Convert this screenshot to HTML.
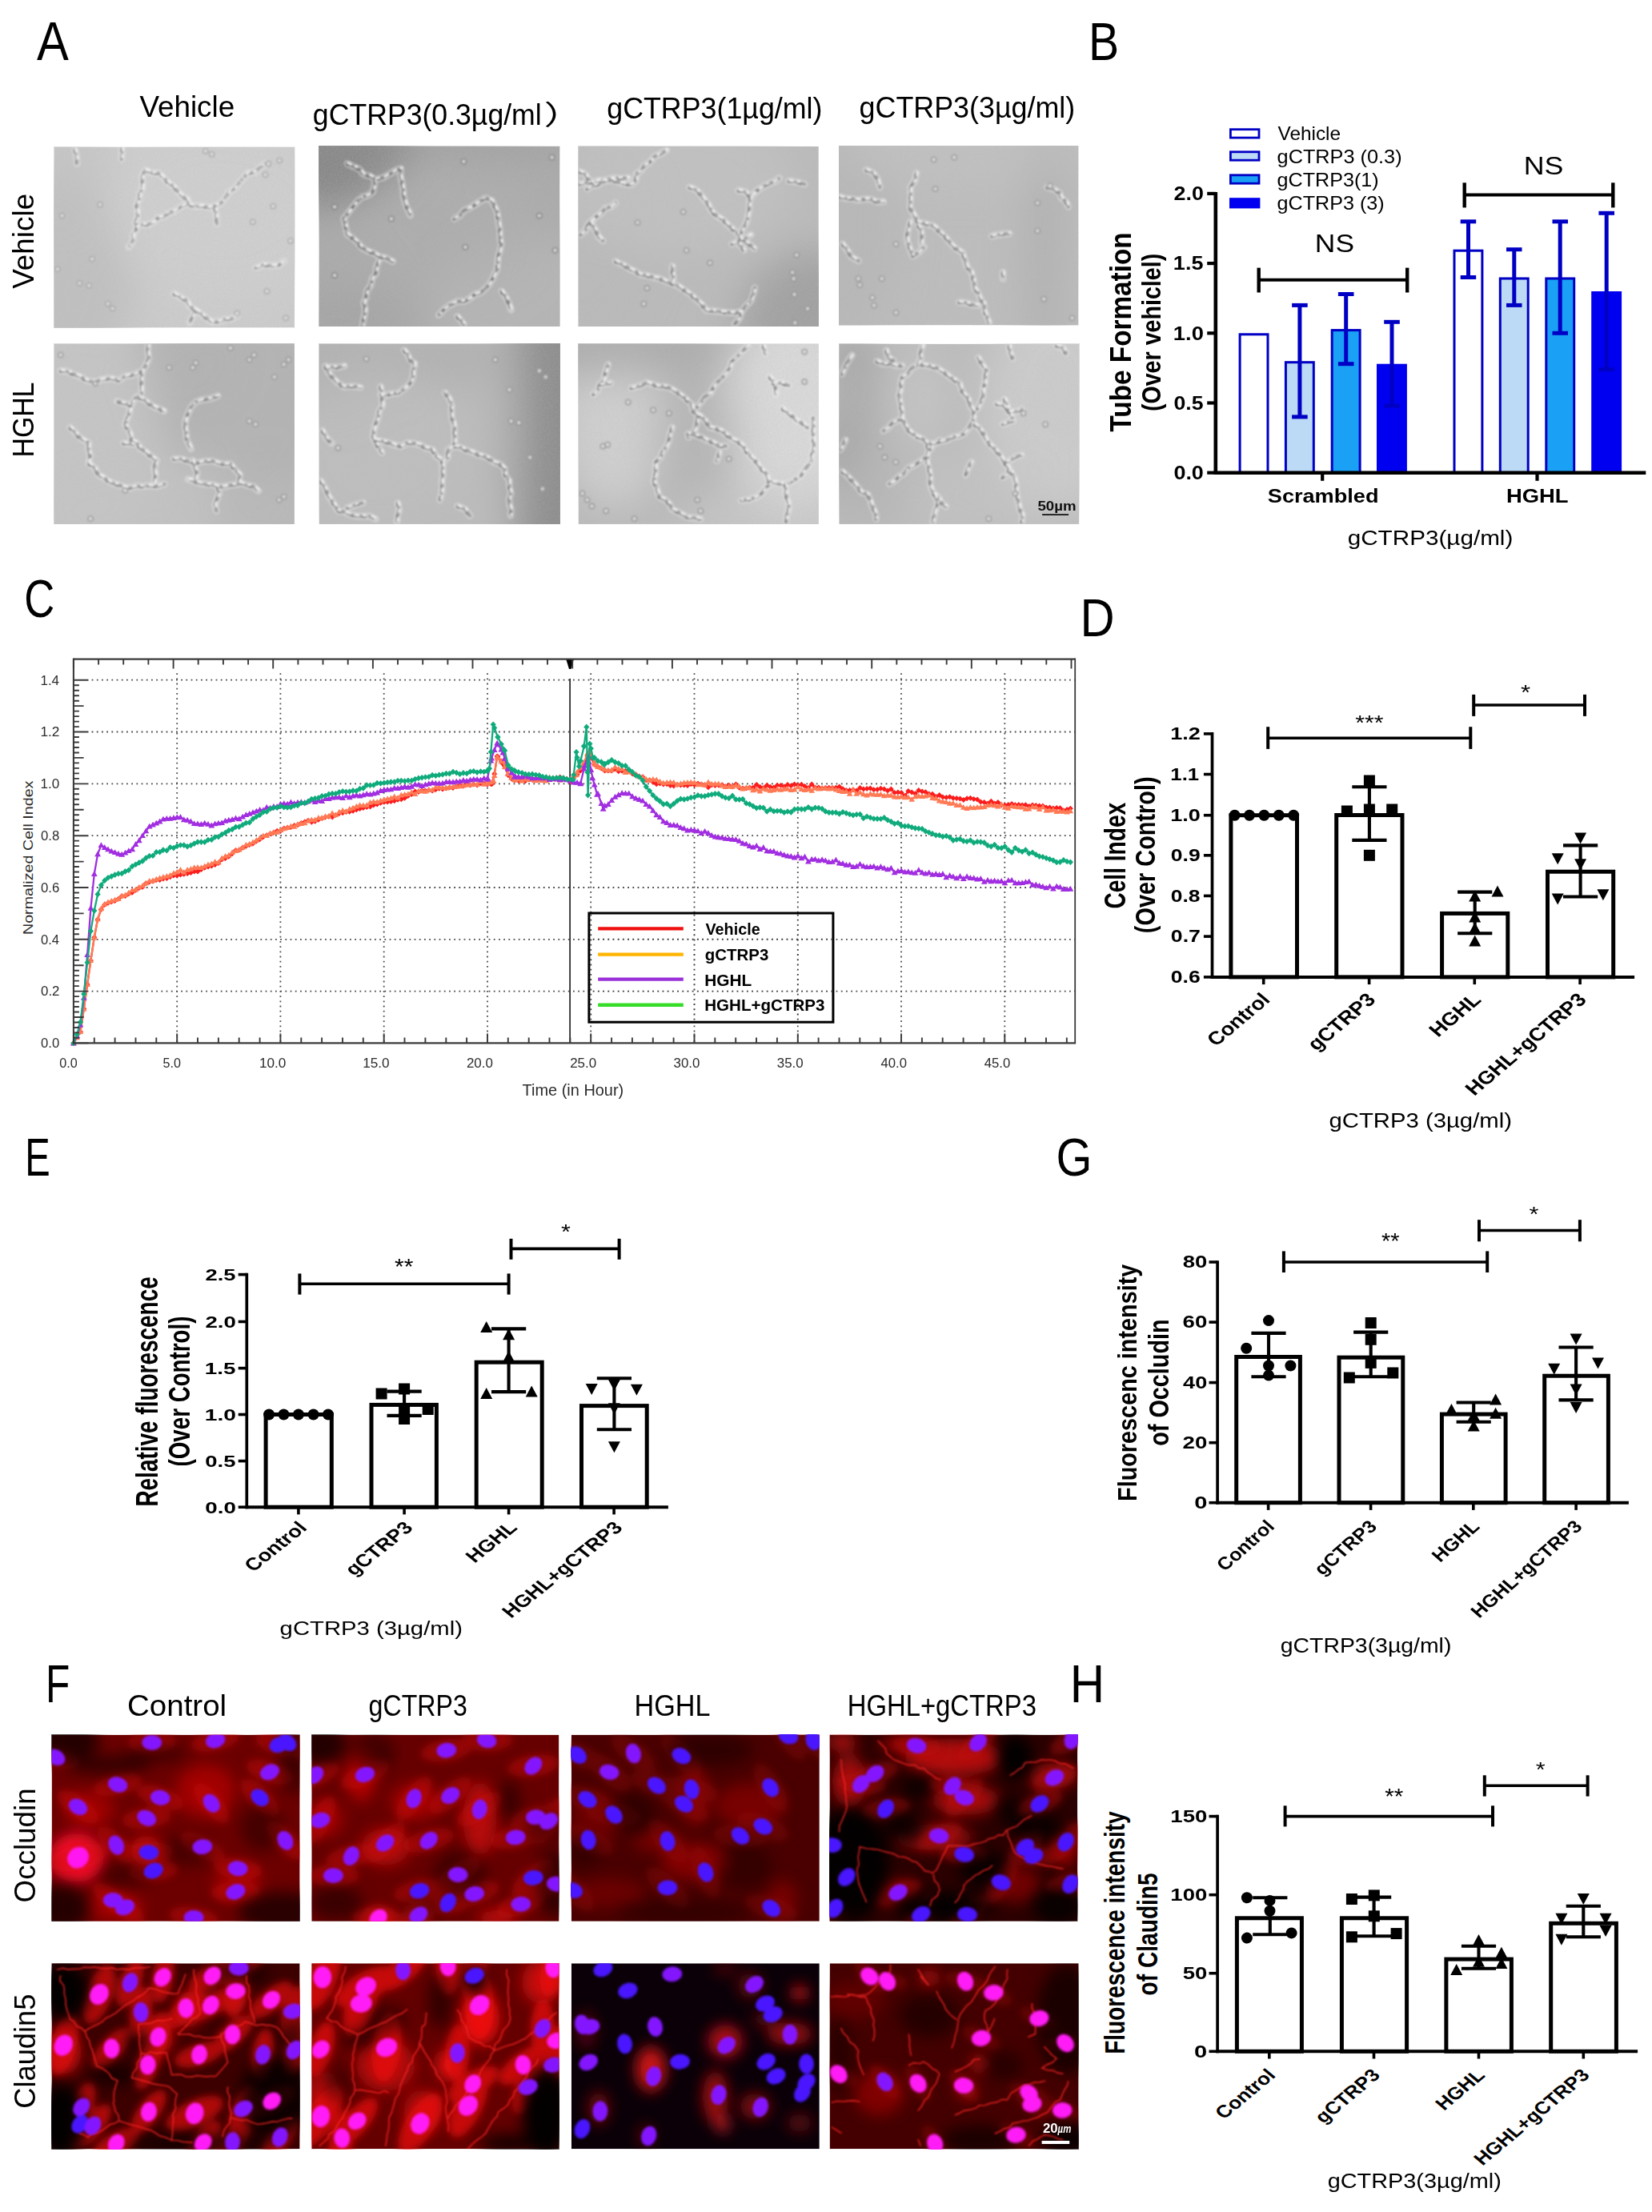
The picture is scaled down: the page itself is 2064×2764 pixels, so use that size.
<!DOCTYPE html>
<html lang="en"><head><meta charset="utf-8"><title>Figure</title>
<style>html,body{margin:0;padding:0;background:#fff}body{width:2064px;height:2764px;overflow:hidden;font-family:"Liberation Sans",sans-serif}</style></head>
<body>
<svg width="2064" height="2764" viewBox="0 0 2064 2764" font-family='"Liberation Sans", sans-serif' style="display:block">
<rect width="2064" height="2764" fill="#fff"/>
<defs><filter id="mb" x="-5%" y="-5%" width="110%" height="110%"><feGaussianBlur stdDeviation="0.9"/></filter><filter id="gb" x="-50%" y="-50%" width="200%" height="200%"><feGaussianBlur stdDeviation="24"/></filter><filter id="nz" x="0" y="0" width="100%" height="100%"><feTurbulence type="fractalNoise" baseFrequency="0.55" numOctaves="2" seed="3"/><feColorMatrix type="matrix" values="0 0 0 0 0.5  0 0 0 0 0.5  0 0 0 0 0.5  0.9 0 0 0 -0.32"/></filter></defs>
<clipPath id="ca0"><rect x="67.9" y="183.7" width="300.2" height="225.8"/></clipPath>
<g clip-path="url(#ca0)">
<rect x="67.9" y="183.7" width="300.2" height="225.8" fill="rgb(204,204,204)" />
<g filter="url(#gb)">
<ellipse cx="67.9" cy="353.1" rx="99.1" ry="135.5" fill="rgb(186,186,186)" opacity="0.7"/>
<ellipse cx="73.9" cy="206.3" rx="60" ry="112.9" fill="rgb(194,194,194)" opacity="0.5"/>
<ellipse cx="278" cy="262.7" rx="150.1" ry="112.9" fill="rgb(210,210,210)" opacity="0.5"/>
</g>
<rect x="67.9" y="183.7" width="300.2" height="225.8" fill="#000" filter="url(#nz)" opacity=".5"/>
<g filter="url(#mb)" fill="none" stroke-linecap="round" stroke-linejoin="round">
<path d="M182 212.4L189.3 216.5L197.8 216.1L204.3 222.3L210.5 228.5L217.8 233.7L222.3 239.5L227.2 244.9L233.9 248.7L236.6 256.1L244.8 257.8L253 257.5L260.7 259.5L268.8 257.3L276.4 253.6L281.7 247.2L286 239.9L293.5 235.3L298.6 228.7L304.1 222.4L309.8 216.2L318.9 215.2L324.7 209.1L331.4 204.3M182 212.4L177.5 219.2L178.1 227.4L177.9 235.3L174.6 242.4L173.6 250.2L170.4 256.8L171.9 264L171.9 271.1L169.2 278L171.3 285.3L166.3 292.8L166.1 302L160.8 309M170.2 285.2L176.3 280.7L184.5 280.7L191.4 278L197 272.4L204.4 270.7L210.6 266.4L217.6 263.9L223.6 260L229.7 256.2L236.6 254.6M268.6 259.6L270 269.6L271.1 279.6M217.4 367L225.1 371.6L233.3 375.4L237.3 383.3L244.8 387.6L240.9 395.3L236.9 403.1M245 387.5L251.6 392.6L258.3 397.6L265.2 402.5L272.7 401.9L280.3 399.2L288.6 398.8L296 395.1M319.7 334.4L329.3 330.9L339.4 332.3L348 331.5L355 326.3M93.5 186.8L95.6 195.6L96.2 204.5M152.5 184.9L152 198.7" stroke="#efefef" stroke-width="9" opacity=".36"/>
<path d="M182 212.4L189.3 216.5L197.8 216.1L204.3 222.3L210.5 228.5L217.8 233.7L222.3 239.5L227.2 244.9L233.9 248.7L236.6 256.1L244.8 257.8L253 257.5L260.7 259.5L268.8 257.3L276.4 253.6L281.7 247.2L286 239.9L293.5 235.3L298.6 228.7L304.1 222.4L309.8 216.2L318.9 215.2L324.7 209.1L331.4 204.3M182 212.4L177.5 219.2L178.1 227.4L177.9 235.3L174.6 242.4L173.6 250.2L170.4 256.8L171.9 264L171.9 271.1L169.2 278L171.3 285.3L166.3 292.8L166.1 302L160.8 309M170.2 285.2L176.3 280.7L184.5 280.7L191.4 278L197 272.4L204.4 270.7L210.6 266.4L217.6 263.9L223.6 260L229.7 256.2L236.6 254.6M268.6 259.6L270 269.6L271.1 279.6M217.4 367L225.1 371.6L233.3 375.4L237.3 383.3L244.8 387.6L240.9 395.3L236.9 403.1M245 387.5L251.6 392.6L258.3 397.6L265.2 402.5L272.7 401.9L280.3 399.2L288.6 398.8L296 395.1M319.7 334.4L329.3 330.9L339.4 332.3L348 331.5L355 326.3M93.5 186.8L95.6 195.6L96.2 204.5M152.5 184.9L152 198.7" stroke="rgb(154,154,154)" stroke-width="4.2" stroke-dasharray="5 4 8 3 3 5" opacity=".68"/>
<path d="M182 212.4L189.3 216.5L197.8 216.1L204.3 222.3L210.5 228.5L217.8 233.7L222.3 239.5L227.2 244.9L233.9 248.7L236.6 256.1L244.8 257.8L253 257.5L260.7 259.5L268.8 257.3L276.4 253.6L281.7 247.2L286 239.9L293.5 235.3L298.6 228.7L304.1 222.4L309.8 216.2L318.9 215.2L324.7 209.1L331.4 204.3M182 212.4L177.5 219.2L178.1 227.4L177.9 235.3L174.6 242.4L173.6 250.2L170.4 256.8L171.9 264L171.9 271.1L169.2 278L171.3 285.3L166.3 292.8L166.1 302L160.8 309M170.2 285.2L176.3 280.7L184.5 280.7L191.4 278L197 272.4L204.4 270.7L210.6 266.4L217.6 263.9L223.6 260L229.7 256.2L236.6 254.6M268.6 259.6L270 269.6L271.1 279.6M217.4 367L225.1 371.6L233.3 375.4L237.3 383.3L244.8 387.6L240.9 395.3L236.9 403.1M245 387.5L251.6 392.6L258.3 397.6L265.2 402.5L272.7 401.9L280.3 399.2L288.6 398.8L296 395.1M319.7 334.4L329.3 330.9L339.4 332.3L348 331.5L355 326.3M93.5 186.8L95.6 195.6L96.2 204.5M152.5 184.9L152 198.7" stroke="#f3f3f3" stroke-width="2.7" stroke-dasharray="4 6 2.5 8 5 7" opacity=".9" transform="translate(1.2 -1.1)"/>
<path d="M182 212.4L189.3 216.5L197.8 216.1L204.3 222.3L210.5 228.5L217.8 233.7L222.3 239.5L227.2 244.9L233.9 248.7L236.6 256.1L244.8 257.8L253 257.5L260.7 259.5L268.8 257.3L276.4 253.6L281.7 247.2L286 239.9L293.5 235.3L298.6 228.7L304.1 222.4L309.8 216.2L318.9 215.2L324.7 209.1L331.4 204.3M182 212.4L177.5 219.2L178.1 227.4L177.9 235.3L174.6 242.4L173.6 250.2L170.4 256.8L171.9 264L171.9 271.1L169.2 278L171.3 285.3L166.3 292.8L166.1 302L160.8 309M170.2 285.2L176.3 280.7L184.5 280.7L191.4 278L197 272.4L204.4 270.7L210.6 266.4L217.6 263.9L223.6 260L229.7 256.2L236.6 254.6M268.6 259.6L270 269.6L271.1 279.6M217.4 367L225.1 371.6L233.3 375.4L237.3 383.3L244.8 387.6L240.9 395.3L236.9 403.1M245 387.5L251.6 392.6L258.3 397.6L265.2 402.5L272.7 401.9L280.3 399.2L288.6 398.8L296 395.1M319.7 334.4L329.3 330.9L339.4 332.3L348 331.5L355 326.3M93.5 186.8L95.6 195.6L96.2 204.5M152.5 184.9L152 198.7" stroke="rgb(129,129,129)" stroke-width="1.9" stroke-dasharray="2.5 11 3.5 14" opacity=".7" transform="translate(-1.2 1.4)"/>
<circle cx="99.4" cy="354" r="3" stroke="rgb(169,169,169)" stroke-width="1.8" fill="#e2e2e2" opacity=".8"/>
<circle cx="111.2" cy="356.8" r="3" stroke="rgb(169,169,169)" stroke-width="1.8" fill="#e2e2e2" opacity=".8"/>
<circle cx="134.8" cy="379.6" r="3" stroke="rgb(169,169,169)" stroke-width="1.8" fill="#e2e2e2" opacity=".8"/>
<circle cx="140.7" cy="385.5" r="3" stroke="rgb(169,169,169)" stroke-width="1.8" fill="#e2e2e2" opacity=".8"/>
<circle cx="335.4" cy="204.5" r="3" stroke="rgb(169,169,169)" stroke-width="1.8" fill="#e2e2e2" opacity=".8"/>
<circle cx="349.2" cy="200.6" r="3" stroke="rgb(169,169,169)" stroke-width="1.8" fill="#e2e2e2" opacity=".8"/>
<circle cx="331.5" cy="218.3" r="3" stroke="rgb(169,169,169)" stroke-width="1.8" fill="#e2e2e2" opacity=".8"/>
<circle cx="71.8" cy="336.3" r="3" stroke="rgb(169,169,169)" stroke-width="1.8" fill="#e2e2e2" opacity=".8"/>
<circle cx="77.7" cy="269.5" r="3" stroke="rgb(169,169,169)" stroke-width="1.8" fill="#e2e2e2" opacity=".8"/>
<circle cx="341.3" cy="257.7" r="3" stroke="rgb(169,169,169)" stroke-width="1.8" fill="#e2e2e2" opacity=".8"/>
<circle cx="315.8" cy="277.3" r="3" stroke="rgb(169,169,169)" stroke-width="1.8" fill="#e2e2e2" opacity=".8"/>
<circle cx="363" cy="300.9" r="3" stroke="rgb(169,169,169)" stroke-width="1.8" fill="#e2e2e2" opacity=".8"/>
<circle cx="115.1" cy="323.7" r="3" stroke="rgb(169,169,169)" stroke-width="1.8" fill="#e2e2e2" opacity=".8"/>
<circle cx="333.5" cy="363.9" r="3" stroke="rgb(169,169,169)" stroke-width="1.8" fill="#e2e2e2" opacity=".8"/>
<circle cx="124.9" cy="255.7" r="3" stroke="rgb(169,169,169)" stroke-width="1.8" fill="#e2e2e2" opacity=".8"/>
<circle cx="256.8" cy="188.8" r="3" stroke="rgb(169,169,169)" stroke-width="1.8" fill="#e2e2e2" opacity=".8"/>
<circle cx="264.6" cy="192.7" r="3" stroke="rgb(169,169,169)" stroke-width="1.8" fill="#e2e2e2" opacity=".8"/>
<circle cx="296.1" cy="391.4" r="3" stroke="rgb(169,169,169)" stroke-width="1.8" fill="#e2e2e2" opacity=".8"/>
<circle cx="357.1" cy="397.3" r="3" stroke="rgb(169,169,169)" stroke-width="1.8" fill="#e2e2e2" opacity=".8"/>
</g>
</g>
<clipPath id="ca1"><rect x="398.4" y="182.9" width="301" height="225.1"/></clipPath>
<g clip-path="url(#ca1)">
<rect x="398.4" y="182.9" width="301" height="225.1" fill="rgb(171,171,171)" />
<g filter="url(#gb)">
<ellipse cx="398.4" cy="182.9" rx="114.4" ry="74.3" fill="rgb(128,128,128)" opacity="0.85"/>
<ellipse cx="548.9" cy="178.4" rx="180.6" ry="18" fill="rgb(148,148,148)" opacity="0.55"/>
<ellipse cx="422.5" cy="401.2" rx="90.3" ry="40.5" fill="rgb(160,160,160)" opacity="0.5"/>
<ellipse cx="684.3" cy="385.5" rx="150.5" ry="90" fill="rgb(186,186,186)" opacity="0.6"/>
<ellipse cx="564" cy="284.2" rx="120.4" ry="90" fill="rgb(176,176,176)" opacity="0.5"/>
</g>
<rect x="398.4" y="182.9" width="301" height="225.1" fill="#000" filter="url(#nz)" opacity=".5"/>
<g filter="url(#mb)" fill="none" stroke-linecap="round" stroke-linejoin="round">
<path d="M433.8 204.5L441.1 208.1L448.7 211.1L454.1 218.1L462.3 220L469.2 224.3L478.8 222L487.3 217.2L493.7 213.1L500.8 210.6L500.4 219.7L502.3 228.8L503.8 237.9L504.3 246.1L506.5 254.1L509.5 261.8L513.1 269.3M469.2 224.2L467.5 232.2L465.7 240.1L459.6 244.2L452.5 246.4L447 250.9L441 258.4L435.2 265.7L429.5 273.1L431.9 283.2L433.9 293.1L440.9 297.7L447 303.5L452.6 310L459.5 313.7L466.8 316.3L473.3 320.4L482.4 322.5L490.8 326.8M473.2 326.5L470.1 333.6L469.7 341.6L465 348.1L463.4 356.3L458.3 363.3L457.3 371.8L454.4 378.6L456.4 386L455.4 393.1L453.9 400.1L452.8 407.1M567.6 273.4L574.6 269.4L579.8 262.9L587.3 259.7L593.8 255.7L600.1 251.3L606.7 247.5L614.5 250.9L617.9 257.5L621.1 265.2L622.3 273.5L623.5 281.3L624.7 289.1L624.6 297.2L626.3 304.9L624.7 312.7L622.4 320.4L621.8 328.4L621.1 336.5L617.8 343.1L614.8 349.8L610.7 356L605.7 361.2L600.4 365.9L593.1 367.8L587.7 372.5L580.2 376.8L571.4 376.6L563.8 380.1L555.4 386.1L548.1 393.7M626.6 363.9L631.8 371.1L635.9 378.9L638.7 387.4M571.5 395.4L579.5 405.1" stroke="#efefef" stroke-width="9" opacity=".36"/>
<path d="M433.8 204.5L441.1 208.1L448.7 211.1L454.1 218.1L462.3 220L469.2 224.3L478.8 222L487.3 217.2L493.7 213.1L500.8 210.6L500.4 219.7L502.3 228.8L503.8 237.9L504.3 246.1L506.5 254.1L509.5 261.8L513.1 269.3M469.2 224.2L467.5 232.2L465.7 240.1L459.6 244.2L452.5 246.4L447 250.9L441 258.4L435.2 265.7L429.5 273.1L431.9 283.2L433.9 293.1L440.9 297.7L447 303.5L452.6 310L459.5 313.7L466.8 316.3L473.3 320.4L482.4 322.5L490.8 326.8M473.2 326.5L470.1 333.6L469.7 341.6L465 348.1L463.4 356.3L458.3 363.3L457.3 371.8L454.4 378.6L456.4 386L455.4 393.1L453.9 400.1L452.8 407.1M567.6 273.4L574.6 269.4L579.8 262.9L587.3 259.7L593.8 255.7L600.1 251.3L606.7 247.5L614.5 250.9L617.9 257.5L621.1 265.2L622.3 273.5L623.5 281.3L624.7 289.1L624.6 297.2L626.3 304.9L624.7 312.7L622.4 320.4L621.8 328.4L621.1 336.5L617.8 343.1L614.8 349.8L610.7 356L605.7 361.2L600.4 365.9L593.1 367.8L587.7 372.5L580.2 376.8L571.4 376.6L563.8 380.1L555.4 386.1L548.1 393.7M626.6 363.9L631.8 371.1L635.9 378.9L638.7 387.4M571.5 395.4L579.5 405.1" stroke="rgb(121,121,121)" stroke-width="4.2" stroke-dasharray="5 4 8 3 3 5" opacity=".68"/>
<path d="M433.8 204.5L441.1 208.1L448.7 211.1L454.1 218.1L462.3 220L469.2 224.3L478.8 222L487.3 217.2L493.7 213.1L500.8 210.6L500.4 219.7L502.3 228.8L503.8 237.9L504.3 246.1L506.5 254.1L509.5 261.8L513.1 269.3M469.2 224.2L467.5 232.2L465.7 240.1L459.6 244.2L452.5 246.4L447 250.9L441 258.4L435.2 265.7L429.5 273.1L431.9 283.2L433.9 293.1L440.9 297.7L447 303.5L452.6 310L459.5 313.7L466.8 316.3L473.3 320.4L482.4 322.5L490.8 326.8M473.2 326.5L470.1 333.6L469.7 341.6L465 348.1L463.4 356.3L458.3 363.3L457.3 371.8L454.4 378.6L456.4 386L455.4 393.1L453.9 400.1L452.8 407.1M567.6 273.4L574.6 269.4L579.8 262.9L587.3 259.7L593.8 255.7L600.1 251.3L606.7 247.5L614.5 250.9L617.9 257.5L621.1 265.2L622.3 273.5L623.5 281.3L624.7 289.1L624.6 297.2L626.3 304.9L624.7 312.7L622.4 320.4L621.8 328.4L621.1 336.5L617.8 343.1L614.8 349.8L610.7 356L605.7 361.2L600.4 365.9L593.1 367.8L587.7 372.5L580.2 376.8L571.4 376.6L563.8 380.1L555.4 386.1L548.1 393.7M626.6 363.9L631.8 371.1L635.9 378.9L638.7 387.4M571.5 395.4L579.5 405.1" stroke="#f3f3f3" stroke-width="2.7" stroke-dasharray="4 6 2.5 8 5 7" opacity=".9" transform="translate(1.2 -1.1)"/>
<path d="M433.8 204.5L441.1 208.1L448.7 211.1L454.1 218.1L462.3 220L469.2 224.3L478.8 222L487.3 217.2L493.7 213.1L500.8 210.6L500.4 219.7L502.3 228.8L503.8 237.9L504.3 246.1L506.5 254.1L509.5 261.8L513.1 269.3M469.2 224.2L467.5 232.2L465.7 240.1L459.6 244.2L452.5 246.4L447 250.9L441 258.4L435.2 265.7L429.5 273.1L431.9 283.2L433.9 293.1L440.9 297.7L447 303.5L452.6 310L459.5 313.7L466.8 316.3L473.3 320.4L482.4 322.5L490.8 326.8M473.2 326.5L470.1 333.6L469.7 341.6L465 348.1L463.4 356.3L458.3 363.3L457.3 371.8L454.4 378.6L456.4 386L455.4 393.1L453.9 400.1L452.8 407.1M567.6 273.4L574.6 269.4L579.8 262.9L587.3 259.7L593.8 255.7L600.1 251.3L606.7 247.5L614.5 250.9L617.9 257.5L621.1 265.2L622.3 273.5L623.5 281.3L624.7 289.1L624.6 297.2L626.3 304.9L624.7 312.7L622.4 320.4L621.8 328.4L621.1 336.5L617.8 343.1L614.8 349.8L610.7 356L605.7 361.2L600.4 365.9L593.1 367.8L587.7 372.5L580.2 376.8L571.4 376.6L563.8 380.1L555.4 386.1L548.1 393.7M626.6 363.9L631.8 371.1L635.9 378.9L638.7 387.4M571.5 395.4L579.5 405.1" stroke="rgb(96,96,96)" stroke-width="1.9" stroke-dasharray="2.5 11 3.5 14" opacity=".7" transform="translate(-1.2 1.4)"/>
<circle cx="418.1" cy="258.5" r="3" stroke="rgb(136,136,136)" stroke-width="1.8" fill="#e2e2e2" opacity=".8"/>
<circle cx="579.4" cy="201.8" r="3" stroke="rgb(136,136,136)" stroke-width="1.8" fill="#e2e2e2" opacity=".8"/>
<circle cx="488.9" cy="273.4" r="3" stroke="rgb(136,136,136)" stroke-width="1.8" fill="#e2e2e2" opacity=".8"/>
<circle cx="581.4" cy="308.8" r="3" stroke="rgb(136,136,136)" stroke-width="1.8" fill="#e2e2e2" opacity=".8"/>
<circle cx="418.1" cy="344.2" r="3" stroke="rgb(136,136,136)" stroke-width="1.8" fill="#e2e2e2" opacity=".8"/>
<circle cx="693.5" cy="312.8" r="3" stroke="rgb(136,136,136)" stroke-width="1.8" fill="#e2e2e2" opacity=".8"/>
<circle cx="689.6" cy="196.7" r="3" stroke="rgb(136,136,136)" stroke-width="1.8" fill="#e2e2e2" opacity=".8"/>
<circle cx="673.8" cy="269.5" r="3" stroke="rgb(136,136,136)" stroke-width="1.8" fill="#e2e2e2" opacity=".8"/>
</g>
</g>
<clipPath id="ca2"><rect x="722.6" y="182.9" width="300.2" height="225.1"/></clipPath>
<g clip-path="url(#ca2)">
<rect x="722.6" y="182.9" width="300.2" height="225.1" fill="rgb(187,187,187)" />
<g filter="url(#gb)">
<ellipse cx="1022.8" cy="408" rx="99.1" ry="94.5" fill="rgb(155,155,155)" opacity="0.8"/>
<ellipse cx="722.6" cy="295.4" rx="90.1" ry="135.1" fill="rgb(186,186,186)" opacity="0.5"/>
<ellipse cx="842.7" cy="227.9" rx="150.1" ry="90" fill="rgb(200,200,200)" opacity="0.5"/>
</g>
<rect x="722.6" y="182.9" width="300.2" height="225.1" fill="#000" filter="url(#nz)" opacity=".5"/>
<g filter="url(#mb)" fill="none" stroke-linecap="round" stroke-linejoin="round">
<path d="M723.8 230.1L732 228.1L740.5 227.8L748.6 225.2L757.2 226.2L765.4 224.9L773 227.9L780.7 230L788.6 230.8L794.5 225.5L794.9 217.2L801.3 213L805.1 206.9L812.1 202.6L817.5 195.7L825.4 192.2L832.7 187.8M723.8 214.4L730.9 217.4L735.2 224.1L741 228.7M733.6 236L740.1 232.2L747.7 230.8L753.7 225.9L760.9 223.7L768.9 222.5L776.9 223.2L784.8 222.2M725.7 293.1L731.6 288L734.6 280.5L740.4 275.3L745.9 269.9L751.7 266.1L756.3 260.2L763.6 258.4L768.9 253.5M737.6 277.3L741.1 283.5L745.1 289.4L748 295.9L753.2 301M861.5 234.1L868.9 236.7L874.4 241.8L878.9 248.2L884.7 254.8L888.5 263.1L894.8 269.6L903.4 274.6L910.2 281.8L918.3 288.5L925.4 296.1L923.8 305.5L929.6 312.5M914.6 304.9L922.8 301.7L930.9 298.1L938.3 293.2M922.5 238L931.3 240L937.9 246.5L945 238.5L953.4 233.4L960.3 229.7L967.6 227.1L973.7 222.4M938.2 245.9L935.9 253.6L936.2 261.7L934.4 269.5L933.2 276.9L929.7 283.4L926.2 289.9L924.6 297.1M924.4 297L930 302.1L936.7 305.6L942.4 310.5M769 326.5L775.3 329.7L781.7 332.6L787.6 336.7L794.1 339.3L800 343.3L808.5 344.4L816.3 346.7L824.5 348.1L832 351.8L839.7 354.5L848.2 357.8L855.6 363.2L863.2 368.3L870.1 374.3L877 380.5L882.7 388L891 388.3L898.8 389.4L906.7 390.3L916.6 391L926.4 389.3L931.8 382.2L938.3 375.9L941 367.8L943 359.6M839.8 354.1L841.5 346.9L839.9 339.7L840.3 332.4M926.4 389.5L923.8 398.1L917.8 404.9M985.4 226.2L995.4 227.4L1005.1 230.1" stroke="#efefef" stroke-width="9" opacity=".36"/>
<path d="M723.8 230.1L732 228.1L740.5 227.8L748.6 225.2L757.2 226.2L765.4 224.9L773 227.9L780.7 230L788.6 230.8L794.5 225.5L794.9 217.2L801.3 213L805.1 206.9L812.1 202.6L817.5 195.7L825.4 192.2L832.7 187.8M723.8 214.4L730.9 217.4L735.2 224.1L741 228.7M733.6 236L740.1 232.2L747.7 230.8L753.7 225.9L760.9 223.7L768.9 222.5L776.9 223.2L784.8 222.2M725.7 293.1L731.6 288L734.6 280.5L740.4 275.3L745.9 269.9L751.7 266.1L756.3 260.2L763.6 258.4L768.9 253.5M737.6 277.3L741.1 283.5L745.1 289.4L748 295.9L753.2 301M861.5 234.1L868.9 236.7L874.4 241.8L878.9 248.2L884.7 254.8L888.5 263.1L894.8 269.6L903.4 274.6L910.2 281.8L918.3 288.5L925.4 296.1L923.8 305.5L929.6 312.5M914.6 304.9L922.8 301.7L930.9 298.1L938.3 293.2M922.5 238L931.3 240L937.9 246.5L945 238.5L953.4 233.4L960.3 229.7L967.6 227.1L973.7 222.4M938.2 245.9L935.9 253.6L936.2 261.7L934.4 269.5L933.2 276.9L929.7 283.4L926.2 289.9L924.6 297.1M924.4 297L930 302.1L936.7 305.6L942.4 310.5M769 326.5L775.3 329.7L781.7 332.6L787.6 336.7L794.1 339.3L800 343.3L808.5 344.4L816.3 346.7L824.5 348.1L832 351.8L839.7 354.5L848.2 357.8L855.6 363.2L863.2 368.3L870.1 374.3L877 380.5L882.7 388L891 388.3L898.8 389.4L906.7 390.3L916.6 391L926.4 389.3L931.8 382.2L938.3 375.9L941 367.8L943 359.6M839.8 354.1L841.5 346.9L839.9 339.7L840.3 332.4M926.4 389.5L923.8 398.1L917.8 404.9M985.4 226.2L995.4 227.4L1005.1 230.1" stroke="rgb(137,137,137)" stroke-width="4.2" stroke-dasharray="5 4 8 3 3 5" opacity=".68"/>
<path d="M723.8 230.1L732 228.1L740.5 227.8L748.6 225.2L757.2 226.2L765.4 224.9L773 227.9L780.7 230L788.6 230.8L794.5 225.5L794.9 217.2L801.3 213L805.1 206.9L812.1 202.6L817.5 195.7L825.4 192.2L832.7 187.8M723.8 214.4L730.9 217.4L735.2 224.1L741 228.7M733.6 236L740.1 232.2L747.7 230.8L753.7 225.9L760.9 223.7L768.9 222.5L776.9 223.2L784.8 222.2M725.7 293.1L731.6 288L734.6 280.5L740.4 275.3L745.9 269.9L751.7 266.1L756.3 260.2L763.6 258.4L768.9 253.5M737.6 277.3L741.1 283.5L745.1 289.4L748 295.9L753.2 301M861.5 234.1L868.9 236.7L874.4 241.8L878.9 248.2L884.7 254.8L888.5 263.1L894.8 269.6L903.4 274.6L910.2 281.8L918.3 288.5L925.4 296.1L923.8 305.5L929.6 312.5M914.6 304.9L922.8 301.7L930.9 298.1L938.3 293.2M922.5 238L931.3 240L937.9 246.5L945 238.5L953.4 233.4L960.3 229.7L967.6 227.1L973.7 222.4M938.2 245.9L935.9 253.6L936.2 261.7L934.4 269.5L933.2 276.9L929.7 283.4L926.2 289.9L924.6 297.1M924.4 297L930 302.1L936.7 305.6L942.4 310.5M769 326.5L775.3 329.7L781.7 332.6L787.6 336.7L794.1 339.3L800 343.3L808.5 344.4L816.3 346.7L824.5 348.1L832 351.8L839.7 354.5L848.2 357.8L855.6 363.2L863.2 368.3L870.1 374.3L877 380.5L882.7 388L891 388.3L898.8 389.4L906.7 390.3L916.6 391L926.4 389.3L931.8 382.2L938.3 375.9L941 367.8L943 359.6M839.8 354.1L841.5 346.9L839.9 339.7L840.3 332.4M926.4 389.5L923.8 398.1L917.8 404.9M985.4 226.2L995.4 227.4L1005.1 230.1" stroke="#f3f3f3" stroke-width="2.7" stroke-dasharray="4 6 2.5 8 5 7" opacity=".9" transform="translate(1.2 -1.1)"/>
<path d="M723.8 230.1L732 228.1L740.5 227.8L748.6 225.2L757.2 226.2L765.4 224.9L773 227.9L780.7 230L788.6 230.8L794.5 225.5L794.9 217.2L801.3 213L805.1 206.9L812.1 202.6L817.5 195.7L825.4 192.2L832.7 187.8M723.8 214.4L730.9 217.4L735.2 224.1L741 228.7M733.6 236L740.1 232.2L747.7 230.8L753.7 225.9L760.9 223.7L768.9 222.5L776.9 223.2L784.8 222.2M725.7 293.1L731.6 288L734.6 280.5L740.4 275.3L745.9 269.9L751.7 266.1L756.3 260.2L763.6 258.4L768.9 253.5M737.6 277.3L741.1 283.5L745.1 289.4L748 295.9L753.2 301M861.5 234.1L868.9 236.7L874.4 241.8L878.9 248.2L884.7 254.8L888.5 263.1L894.8 269.6L903.4 274.6L910.2 281.8L918.3 288.5L925.4 296.1L923.8 305.5L929.6 312.5M914.6 304.9L922.8 301.7L930.9 298.1L938.3 293.2M922.5 238L931.3 240L937.9 246.5L945 238.5L953.4 233.4L960.3 229.7L967.6 227.1L973.7 222.4M938.2 245.9L935.9 253.6L936.2 261.7L934.4 269.5L933.2 276.9L929.7 283.4L926.2 289.9L924.6 297.1M924.4 297L930 302.1L936.7 305.6L942.4 310.5M769 326.5L775.3 329.7L781.7 332.6L787.6 336.7L794.1 339.3L800 343.3L808.5 344.4L816.3 346.7L824.5 348.1L832 351.8L839.7 354.5L848.2 357.8L855.6 363.2L863.2 368.3L870.1 374.3L877 380.5L882.7 388L891 388.3L898.8 389.4L906.7 390.3L916.6 391L926.4 389.3L931.8 382.2L938.3 375.9L941 367.8L943 359.6M839.8 354.1L841.5 346.9L839.9 339.7L840.3 332.4M926.4 389.5L923.8 398.1L917.8 404.9M985.4 226.2L995.4 227.4L1005.1 230.1" stroke="rgb(112,112,112)" stroke-width="1.9" stroke-dasharray="2.5 11 3.5 14" opacity=".7" transform="translate(-1.2 1.4)"/>
<circle cx="990.1" cy="340.3" r="3" stroke="rgb(152,152,152)" stroke-width="1.8" fill="#e2e2e2" opacity=".8"/>
<circle cx="991.7" cy="348.2" r="3" stroke="rgb(152,152,152)" stroke-width="1.8" fill="#e2e2e2" opacity=".8"/>
<circle cx="995.3" cy="318.7" r="3" stroke="rgb(152,152,152)" stroke-width="1.8" fill="#e2e2e2" opacity=".8"/>
<circle cx="992.5" cy="367.9" r="3" stroke="rgb(152,152,152)" stroke-width="1.8" fill="#e2e2e2" opacity=".8"/>
<circle cx="857.6" cy="312.8" r="3" stroke="rgb(152,152,152)" stroke-width="1.8" fill="#e2e2e2" opacity=".8"/>
<circle cx="887.1" cy="328.5" r="3" stroke="rgb(152,152,152)" stroke-width="1.8" fill="#e2e2e2" opacity=".8"/>
<circle cx="796.6" cy="278.1" r="3" stroke="rgb(152,152,152)" stroke-width="1.8" fill="#e2e2e2" opacity=".8"/>
<circle cx="853.6" cy="264.8" r="3" stroke="rgb(152,152,152)" stroke-width="1.8" fill="#e2e2e2" opacity=".8"/>
<circle cx="804.4" cy="379.7" r="3" stroke="rgb(152,152,152)" stroke-width="1.8" fill="#e2e2e2" opacity=".8"/>
<circle cx="808.4" cy="360" r="3" stroke="rgb(152,152,152)" stroke-width="1.8" fill="#e2e2e2" opacity=".8"/>
<circle cx="993.3" cy="403.3" r="3" stroke="rgb(152,152,152)" stroke-width="1.8" fill="#e2e2e2" opacity=".8"/>
<circle cx="1009" cy="385.6" r="3" stroke="rgb(152,152,152)" stroke-width="1.8" fill="#e2e2e2" opacity=".8"/>
</g>
</g>
<clipPath id="ca3"><rect x="1048" y="182.1" width="299.4" height="224.3"/></clipPath>
<g clip-path="url(#ca3)">
<rect x="1048" y="182.1" width="299.4" height="224.3" fill="rgb(189,189,189)" />
<g filter="url(#gb)">
<ellipse cx="1305.5" cy="294.2" rx="21" ry="201.9" fill="rgb(172,172,172)" opacity="0.8"/>
<ellipse cx="1048" cy="294.2" rx="74.9" ry="134.6" fill="rgb(180,180,180)" opacity="0.6"/>
<ellipse cx="1197.7" cy="182.1" rx="149.7" ry="56.1" fill="rgb(196,196,196)" opacity="0.5"/>
</g>
<rect x="1048" y="182.1" width="299.4" height="224.3" fill="#000" filter="url(#nz)" opacity=".5"/>
<g filter="url(#mb)" fill="none" stroke-linecap="round" stroke-linejoin="round">
<path d="M1145 216.3L1142.8 225.9L1137.3 234.1L1137.5 242.6L1137.4 251.1L1136.9 259.6L1142 268.5L1146.5 277.6L1157 279.7L1166.8 282.6L1174.5 290.1L1182.1 297.3L1187.8 304.7L1194.7 310.9L1202.8 315.9L1205.5 324.8L1208.2 333.3L1213.8 340.3L1216.4 350L1217.5 360L1222.2 366.2L1224.9 373.5L1229.5 379.6L1229.7 388L1232.8 395.5L1235.9 403.1M1137.2 277.3L1135.1 285.1L1133.4 292.9L1133.6 301L1136.7 310.6L1140.6 320.2L1147.7 315.7L1154.6 308.5M1147 281.3L1151 288.7L1151.9 296.6L1151.1 304.9M1048.8 245.8L1056.5 248.1L1064.5 248.4L1072.3 250.1L1080.3 248.8L1088.2 249L1095.9 252.4L1103.8 252.1M1052.7 304.9L1058.6 312.7L1063.8 321.1L1072.7 326M1308.1 234L1316.2 236.5L1323.6 240.6L1325.8 247.2L1331.7 251.8L1334.7 258.3M1198.1 377.7L1206.1 378.2L1213.7 380.7L1221.7 381.5M1082.2 212.4L1090.3 215.6L1095.8 222.4L1099.3 234.2M1239.3 295L1246.5 293.5L1253.7 292.3L1261.1 292M1253.1 340.3L1253.1 348.2" stroke="#efefef" stroke-width="9" opacity=".36"/>
<path d="M1145 216.3L1142.8 225.9L1137.3 234.1L1137.5 242.6L1137.4 251.1L1136.9 259.6L1142 268.5L1146.5 277.6L1157 279.7L1166.8 282.6L1174.5 290.1L1182.1 297.3L1187.8 304.7L1194.7 310.9L1202.8 315.9L1205.5 324.8L1208.2 333.3L1213.8 340.3L1216.4 350L1217.5 360L1222.2 366.2L1224.9 373.5L1229.5 379.6L1229.7 388L1232.8 395.5L1235.9 403.1M1137.2 277.3L1135.1 285.1L1133.4 292.9L1133.6 301L1136.7 310.6L1140.6 320.2L1147.7 315.7L1154.6 308.5M1147 281.3L1151 288.7L1151.9 296.6L1151.1 304.9M1048.8 245.8L1056.5 248.1L1064.5 248.4L1072.3 250.1L1080.3 248.8L1088.2 249L1095.9 252.4L1103.8 252.1M1052.7 304.9L1058.6 312.7L1063.8 321.1L1072.7 326M1308.1 234L1316.2 236.5L1323.6 240.6L1325.8 247.2L1331.7 251.8L1334.7 258.3M1198.1 377.7L1206.1 378.2L1213.7 380.7L1221.7 381.5M1082.2 212.4L1090.3 215.6L1095.8 222.4L1099.3 234.2M1239.3 295L1246.5 293.5L1253.7 292.3L1261.1 292M1253.1 340.3L1253.1 348.2" stroke="rgb(139,139,139)" stroke-width="4.2" stroke-dasharray="5 4 8 3 3 5" opacity=".68"/>
<path d="M1145 216.3L1142.8 225.9L1137.3 234.1L1137.5 242.6L1137.4 251.1L1136.9 259.6L1142 268.5L1146.5 277.6L1157 279.7L1166.8 282.6L1174.5 290.1L1182.1 297.3L1187.8 304.7L1194.7 310.9L1202.8 315.9L1205.5 324.8L1208.2 333.3L1213.8 340.3L1216.4 350L1217.5 360L1222.2 366.2L1224.9 373.5L1229.5 379.6L1229.7 388L1232.8 395.5L1235.9 403.1M1137.2 277.3L1135.1 285.1L1133.4 292.9L1133.6 301L1136.7 310.6L1140.6 320.2L1147.7 315.7L1154.6 308.5M1147 281.3L1151 288.7L1151.9 296.6L1151.1 304.9M1048.8 245.8L1056.5 248.1L1064.5 248.4L1072.3 250.1L1080.3 248.8L1088.2 249L1095.9 252.4L1103.8 252.1M1052.7 304.9L1058.6 312.7L1063.8 321.1L1072.7 326M1308.1 234L1316.2 236.5L1323.6 240.6L1325.8 247.2L1331.7 251.8L1334.7 258.3M1198.1 377.7L1206.1 378.2L1213.7 380.7L1221.7 381.5M1082.2 212.4L1090.3 215.6L1095.8 222.4L1099.3 234.2M1239.3 295L1246.5 293.5L1253.7 292.3L1261.1 292M1253.1 340.3L1253.1 348.2" stroke="#f3f3f3" stroke-width="2.7" stroke-dasharray="4 6 2.5 8 5 7" opacity=".9" transform="translate(1.2 -1.1)"/>
<path d="M1145 216.3L1142.8 225.9L1137.3 234.1L1137.5 242.6L1137.4 251.1L1136.9 259.6L1142 268.5L1146.5 277.6L1157 279.7L1166.8 282.6L1174.5 290.1L1182.1 297.3L1187.8 304.7L1194.7 310.9L1202.8 315.9L1205.5 324.8L1208.2 333.3L1213.8 340.3L1216.4 350L1217.5 360L1222.2 366.2L1224.9 373.5L1229.5 379.6L1229.7 388L1232.8 395.5L1235.9 403.1M1137.2 277.3L1135.1 285.1L1133.4 292.9L1133.6 301L1136.7 310.6L1140.6 320.2L1147.7 315.7L1154.6 308.5M1147 281.3L1151 288.7L1151.9 296.6L1151.1 304.9M1048.8 245.8L1056.5 248.1L1064.5 248.4L1072.3 250.1L1080.3 248.8L1088.2 249L1095.9 252.4L1103.8 252.1M1052.7 304.9L1058.6 312.7L1063.8 321.1L1072.7 326M1308.1 234L1316.2 236.5L1323.6 240.6L1325.8 247.2L1331.7 251.8L1334.7 258.3M1198.1 377.7L1206.1 378.2L1213.7 380.7L1221.7 381.5M1082.2 212.4L1090.3 215.6L1095.8 222.4L1099.3 234.2M1239.3 295L1246.5 293.5L1253.7 292.3L1261.1 292M1253.1 340.3L1253.1 348.2" stroke="rgb(114,114,114)" stroke-width="1.9" stroke-dasharray="2.5 11 3.5 14" opacity=".7" transform="translate(-1.2 1.4)"/>
<circle cx="1168.6" cy="236" r="3" stroke="rgb(154,154,154)" stroke-width="1.8" fill="#e2e2e2" opacity=".8"/>
<circle cx="1072.4" cy="348.2" r="3" stroke="rgb(154,154,154)" stroke-width="1.8" fill="#e2e2e2" opacity=".8"/>
<circle cx="1074.3" cy="356" r="3" stroke="rgb(154,154,154)" stroke-width="1.8" fill="#e2e2e2" opacity=".8"/>
<circle cx="1090" cy="371.8" r="3" stroke="rgb(154,154,154)" stroke-width="1.8" fill="#e2e2e2" opacity=".8"/>
<circle cx="1092" cy="381.6" r="3" stroke="rgb(154,154,154)" stroke-width="1.8" fill="#e2e2e2" opacity=".8"/>
<circle cx="1119.5" cy="390.7" r="3" stroke="rgb(154,154,154)" stroke-width="1.8" fill="#e2e2e2" opacity=".8"/>
<circle cx="1101.8" cy="348.2" r="3" stroke="rgb(154,154,154)" stroke-width="1.8" fill="#e2e2e2" opacity=".8"/>
<circle cx="1296.3" cy="253.7" r="3" stroke="rgb(154,154,154)" stroke-width="1.8" fill="#e2e2e2" opacity=".8"/>
<circle cx="1296.3" cy="288.3" r="3" stroke="rgb(154,154,154)" stroke-width="1.8" fill="#e2e2e2" opacity=".8"/>
<circle cx="1304.2" cy="373.7" r="3" stroke="rgb(154,154,154)" stroke-width="1.8" fill="#e2e2e2" opacity=".8"/>
<circle cx="1339.5" cy="397.3" r="3" stroke="rgb(154,154,154)" stroke-width="1.8" fill="#e2e2e2" opacity=".8"/>
<circle cx="1312" cy="232.1" r="3" stroke="rgb(154,154,154)" stroke-width="1.8" fill="#e2e2e2" opacity=".8"/>
<circle cx="1119.5" cy="304.9" r="3" stroke="rgb(154,154,154)" stroke-width="1.8" fill="#e2e2e2" opacity=".8"/>
<circle cx="1166.7" cy="199.4" r="3" stroke="rgb(154,154,154)" stroke-width="1.8" fill="#e2e2e2" opacity=".8"/>
<circle cx="1192.2" cy="196.7" r="3" stroke="rgb(154,154,154)" stroke-width="1.8" fill="#e2e2e2" opacity=".8"/>
</g>
</g>
<clipPath id="ca4"><rect x="67.9" y="429.8" width="299.8" height="225.1"/></clipPath>
<g clip-path="url(#ca4)">
<rect x="67.9" y="429.8" width="299.8" height="225.1" fill="rgb(190,190,190)" />
<g filter="url(#gb)">
<ellipse cx="322.7" cy="486.1" rx="149.9" ry="112.5" fill="rgb(178,178,178)" opacity="0.85"/>
<ellipse cx="232.8" cy="452.3" rx="74.9" ry="67.5" fill="rgb(178,178,178)" opacity="0.6"/>
<ellipse cx="97.9" cy="542.4" rx="104.9" ry="157.6" fill="rgb(200,200,200)" opacity="0.7"/>
<ellipse cx="217.8" cy="643.6" rx="179.9" ry="67.5" fill="rgb(196,196,196)" opacity="0.6"/>
<ellipse cx="352.7" cy="632.4" rx="89.9" ry="67.5" fill="rgb(175,175,175)" opacity="0.5"/>
</g>
<rect x="67.9" y="429.8" width="299.8" height="225.1" fill="#000" filter="url(#nz)" opacity=".5"/>
<g filter="url(#mb)" fill="none" stroke-linecap="round" stroke-linejoin="round">
<path d="M75.8 463.3L84.2 464L91.7 467.7L99.6 470.4L108.7 475.7L118.9 477.2L128.6 474L138.5 472.7L148.3 475.5L156.9 469.7L166.1 468.7L178 463.4L182.6 455.8L185.9 447.6L184.6 439.2L185 431M177.9 463.3L176.5 472.4L176.7 481.6L177 490.9L168.8 497.8L163.8 506.2L161.8 514.5L159.2 522.4L156.2 530.1L159.8 536.4L163.2 542.6L164 549.9L171.3 553.7L175.6 560.7L182.5 564.9L188.8 570.4L195.7 575.3L192.3 584L194.3 593.2L192.6 605.1M164.2 506.5L155.1 504.4L146.3 501.3M174 496.7L180.9 500L186.8 505L193.4 508.9L205.1 513.5M217.2 573.4L227.1 573.5L236.7 577.1L245.8 578.6L255.2 576.5L264.5 575.9L272.2 578.6L280.1 580.1L288.2 579.8L293.8 587.3L299.8 593L298.3 605L288.7 606.1L279.9 608.2L272.1 608L264.4 605.6L256.3 605.3L248.6 603.5L241.8 600.9L235 598.7M240.8 575.4L242.8 583.2L246.2 590.7L244.3 599.1M272.2 608.9L273.8 616.4L271.1 623.6L268.4 630.8L270.3 638.4M272.2 494.7L262.7 498.2L252.8 499.6L244.8 502.3L238.8 508.5L235.5 515.5L232.5 522.5L231 530.2L232.3 539.9L233.5 549.8L238.8 561M111.1 579.3L118.5 584.9L122.9 593.1L130.9 597.8L138.5 603.2L147.5 605.7L156.3 609L163.7 609.7L171 607.3L178.4 607.9L185.7 607L195.8 607.7L205.4 604.9M87.5 534.1L93 539.5L98 545.5L104.3 549.9L111.1 553.7L110.1 561.6L113 569.5L110.8 577.4M299.7 603L307.5 606.4L316.3 607.6L323 613.6M154.3 553.8L166.2 555.3" stroke="#efefef" stroke-width="9" opacity=".36"/>
<path d="M75.8 463.3L84.2 464L91.7 467.7L99.6 470.4L108.7 475.7L118.9 477.2L128.6 474L138.5 472.7L148.3 475.5L156.9 469.7L166.1 468.7L178 463.4L182.6 455.8L185.9 447.6L184.6 439.2L185 431M177.9 463.3L176.5 472.4L176.7 481.6L177 490.9L168.8 497.8L163.8 506.2L161.8 514.5L159.2 522.4L156.2 530.1L159.8 536.4L163.2 542.6L164 549.9L171.3 553.7L175.6 560.7L182.5 564.9L188.8 570.4L195.7 575.3L192.3 584L194.3 593.2L192.6 605.1M164.2 506.5L155.1 504.4L146.3 501.3M174 496.7L180.9 500L186.8 505L193.4 508.9L205.1 513.5M217.2 573.4L227.1 573.5L236.7 577.1L245.8 578.6L255.2 576.5L264.5 575.9L272.2 578.6L280.1 580.1L288.2 579.8L293.8 587.3L299.8 593L298.3 605L288.7 606.1L279.9 608.2L272.1 608L264.4 605.6L256.3 605.3L248.6 603.5L241.8 600.9L235 598.7M240.8 575.4L242.8 583.2L246.2 590.7L244.3 599.1M272.2 608.9L273.8 616.4L271.1 623.6L268.4 630.8L270.3 638.4M272.2 494.7L262.7 498.2L252.8 499.6L244.8 502.3L238.8 508.5L235.5 515.5L232.5 522.5L231 530.2L232.3 539.9L233.5 549.8L238.8 561M111.1 579.3L118.5 584.9L122.9 593.1L130.9 597.8L138.5 603.2L147.5 605.7L156.3 609L163.7 609.7L171 607.3L178.4 607.9L185.7 607L195.8 607.7L205.4 604.9M87.5 534.1L93 539.5L98 545.5L104.3 549.9L111.1 553.7L110.1 561.6L113 569.5L110.8 577.4M299.7 603L307.5 606.4L316.3 607.6L323 613.6M154.3 553.8L166.2 555.3" stroke="rgb(140,140,140)" stroke-width="4.2" stroke-dasharray="5 4 8 3 3 5" opacity=".68"/>
<path d="M75.8 463.3L84.2 464L91.7 467.7L99.6 470.4L108.7 475.7L118.9 477.2L128.6 474L138.5 472.7L148.3 475.5L156.9 469.7L166.1 468.7L178 463.4L182.6 455.8L185.9 447.6L184.6 439.2L185 431M177.9 463.3L176.5 472.4L176.7 481.6L177 490.9L168.8 497.8L163.8 506.2L161.8 514.5L159.2 522.4L156.2 530.1L159.8 536.4L163.2 542.6L164 549.9L171.3 553.7L175.6 560.7L182.5 564.9L188.8 570.4L195.7 575.3L192.3 584L194.3 593.2L192.6 605.1M164.2 506.5L155.1 504.4L146.3 501.3M174 496.7L180.9 500L186.8 505L193.4 508.9L205.1 513.5M217.2 573.4L227.1 573.5L236.7 577.1L245.8 578.6L255.2 576.5L264.5 575.9L272.2 578.6L280.1 580.1L288.2 579.8L293.8 587.3L299.8 593L298.3 605L288.7 606.1L279.9 608.2L272.1 608L264.4 605.6L256.3 605.3L248.6 603.5L241.8 600.9L235 598.7M240.8 575.4L242.8 583.2L246.2 590.7L244.3 599.1M272.2 608.9L273.8 616.4L271.1 623.6L268.4 630.8L270.3 638.4M272.2 494.7L262.7 498.2L252.8 499.6L244.8 502.3L238.8 508.5L235.5 515.5L232.5 522.5L231 530.2L232.3 539.9L233.5 549.8L238.8 561M111.1 579.3L118.5 584.9L122.9 593.1L130.9 597.8L138.5 603.2L147.5 605.7L156.3 609L163.7 609.7L171 607.3L178.4 607.9L185.7 607L195.8 607.7L205.4 604.9M87.5 534.1L93 539.5L98 545.5L104.3 549.9L111.1 553.7L110.1 561.6L113 569.5L110.8 577.4M299.7 603L307.5 606.4L316.3 607.6L323 613.6M154.3 553.8L166.2 555.3" stroke="#f3f3f3" stroke-width="2.7" stroke-dasharray="4 6 2.5 8 5 7" opacity=".9" transform="translate(1.2 -1.1)"/>
<path d="M75.8 463.3L84.2 464L91.7 467.7L99.6 470.4L108.7 475.7L118.9 477.2L128.6 474L138.5 472.7L148.3 475.5L156.9 469.7L166.1 468.7L178 463.4L182.6 455.8L185.9 447.6L184.6 439.2L185 431M177.9 463.3L176.5 472.4L176.7 481.6L177 490.9L168.8 497.8L163.8 506.2L161.8 514.5L159.2 522.4L156.2 530.1L159.8 536.4L163.2 542.6L164 549.9L171.3 553.7L175.6 560.7L182.5 564.9L188.8 570.4L195.7 575.3L192.3 584L194.3 593.2L192.6 605.1M164.2 506.5L155.1 504.4L146.3 501.3M174 496.7L180.9 500L186.8 505L193.4 508.9L205.1 513.5M217.2 573.4L227.1 573.5L236.7 577.1L245.8 578.6L255.2 576.5L264.5 575.9L272.2 578.6L280.1 580.1L288.2 579.8L293.8 587.3L299.8 593L298.3 605L288.7 606.1L279.9 608.2L272.1 608L264.4 605.6L256.3 605.3L248.6 603.5L241.8 600.9L235 598.7M240.8 575.4L242.8 583.2L246.2 590.7L244.3 599.1M272.2 608.9L273.8 616.4L271.1 623.6L268.4 630.8L270.3 638.4M272.2 494.7L262.7 498.2L252.8 499.6L244.8 502.3L238.8 508.5L235.5 515.5L232.5 522.5L231 530.2L232.3 539.9L233.5 549.8L238.8 561M111.1 579.3L118.5 584.9L122.9 593.1L130.9 597.8L138.5 603.2L147.5 605.7L156.3 609L163.7 609.7L171 607.3L178.4 607.9L185.7 607L195.8 607.7L205.4 604.9M87.5 534.1L93 539.5L98 545.5L104.3 549.9L111.1 553.7L110.1 561.6L113 569.5L110.8 577.4M299.7 603L307.5 606.4L316.3 607.6L323 613.6M154.3 553.8L166.2 555.3" stroke="rgb(115,115,115)" stroke-width="1.9" stroke-dasharray="2.5 11 3.5 14" opacity=".7" transform="translate(-1.2 1.4)"/>
<circle cx="311.5" cy="449.5" r="3" stroke="rgb(155,155,155)" stroke-width="1.8" fill="#e2e2e2" opacity=".8"/>
<circle cx="317.4" cy="443.6" r="3" stroke="rgb(155,155,155)" stroke-width="1.8" fill="#e2e2e2" opacity=".8"/>
<circle cx="240.8" cy="459.3" r="3" stroke="rgb(155,155,155)" stroke-width="1.8" fill="#e2e2e2" opacity=".8"/>
<circle cx="244.7" cy="453.4" r="3" stroke="rgb(155,155,155)" stroke-width="1.8" fill="#e2e2e2" opacity=".8"/>
<circle cx="311.5" cy="526.2" r="3" stroke="rgb(155,155,155)" stroke-width="1.8" fill="#e2e2e2" opacity=".8"/>
<circle cx="319.4" cy="530.2" r="3" stroke="rgb(155,155,155)" stroke-width="1.8" fill="#e2e2e2" opacity=".8"/>
<circle cx="354.7" cy="455.4" r="3" stroke="rgb(155,155,155)" stroke-width="1.8" fill="#e2e2e2" opacity=".8"/>
<circle cx="360.6" cy="449.5" r="3" stroke="rgb(155,155,155)" stroke-width="1.8" fill="#e2e2e2" opacity=".8"/>
<circle cx="348.8" cy="624.6" r="3" stroke="rgb(155,155,155)" stroke-width="1.8" fill="#e2e2e2" opacity=".8"/>
<circle cx="354.7" cy="620.7" r="3" stroke="rgb(155,155,155)" stroke-width="1.8" fill="#e2e2e2" opacity=".8"/>
<circle cx="156.3" cy="612.8" r="3" stroke="rgb(155,155,155)" stroke-width="1.8" fill="#e2e2e2" opacity=".8"/>
<circle cx="119" cy="479" r="3" stroke="rgb(155,155,155)" stroke-width="1.8" fill="#e2e2e2" opacity=".8"/>
<circle cx="75.8" cy="443.6" r="3" stroke="rgb(155,155,155)" stroke-width="1.8" fill="#e2e2e2" opacity=".8"/>
<circle cx="113.1" cy="648.2" r="3" stroke="rgb(155,155,155)" stroke-width="1.8" fill="#e2e2e2" opacity=".8"/>
<circle cx="211.3" cy="459.3" r="3" stroke="rgb(155,155,155)" stroke-width="1.8" fill="#e2e2e2" opacity=".8"/>
<circle cx="342.9" cy="471.1" r="3" stroke="rgb(155,155,155)" stroke-width="1.8" fill="#e2e2e2" opacity=".8"/>
<circle cx="287.9" cy="434.9" r="3" stroke="rgb(155,155,155)" stroke-width="1.8" fill="#e2e2e2" opacity=".8"/>
</g>
</g>
<clipPath id="ca5"><rect x="398.8" y="429.8" width="300.6" height="225.1"/></clipPath>
<g clip-path="url(#ca5)">
<rect x="398.8" y="429.8" width="300.6" height="225.1" fill="rgb(187,187,187)" />
<g filter="url(#gb)">
<ellipse cx="705.4" cy="542.4" rx="90.2" ry="225.1" fill="rgb(136,136,136)" opacity="0.9"/>
<ellipse cx="630.3" cy="542.4" rx="24" ry="180.1" fill="rgb(198,198,198)" opacity="0.6"/>
<ellipse cx="398.8" cy="452.3" rx="90.2" ry="67.5" fill="rgb(170,170,170)" opacity="0.5"/>
<ellipse cx="473.9" cy="564.9" rx="120.2" ry="112.5" fill="rgb(194,194,194)" opacity="0.5"/>
<ellipse cx="564.1" cy="441.1" rx="90.2" ry="45" fill="rgb(170,170,170)" opacity="0.5"/>
</g>
<rect x="398.8" y="429.8" width="300.6" height="225.1" fill="#000" filter="url(#nz)" opacity=".5"/>
<g filter="url(#mb)" fill="none" stroke-linecap="round" stroke-linejoin="round">
<path d="M406.7 457.3L409.8 464.7L414.8 471L421.6 478.1L429.7 483.6L440.2 482.8L450 483.9M406.7 459.3L414.5 458.5L422.5 459.1L430.2 457.1M504.9 437.7L509.5 443.1L512.2 449.8L518.2 454.4L516.2 463.4L515.8 471.4L512.6 479L505.5 485.7L497.5 491.4L489.9 491.9L482.8 494L475.4 492.8M475.4 482.9L477 490.7L477.2 498.6L477.9 506.5L473.6 514L472.3 522.3L469.2 530L467 537.9L466.1 546L468.9 552.8L473.1 559.2L477.2 565.7M469.5 549.8L477.5 551.3L485.4 553.2L493 556.2L501.2 557.9L508.7 553.3L516.7 554.1L524.7 555.9L532.1 560L540.2 561.9L545 570.3L553.5 576.3L552.8 585.2L553.3 593.1L552.1 601L552.3 608.9L551.6 616.8L549.6 624.6M552 577.4L559.2 572.4L559.7 562L567.6 557.6L568.2 548.5L567.8 539.3L567.5 530.2L564.7 522.6L563.9 514.6L564.3 506.5L561.2 498L556 490.8M567.8 557.7L575.2 559L581.9 562.5L589.1 564.5L595.8 567.8L603.1 569.6L610.4 572.7L616.8 577.6L624.5 580L630.4 585.7L631.1 593.5L636.1 600.6L636.3 608.9L638.2 615.9L635.9 623.1L636.5 630.2L638.4 637.2L637.8 644.3M400.8 601L404.5 607.3L408.1 613.7L410.9 620.5L414.7 626.5L418.8 632.2L422.3 638.4L430.4 639.6L437.9 643.3L445.8 644.9L453.9 645L462 645.1L469.5 648.7M402.7 538L407.4 546.8L414.6 553.7M497 628.5L498.7 636.4L496.7 644.3L496 652.1M571.7 632.5L581 636.4L587.2 644.5M434.2 634.4L443.9 631.1L453.7 628" stroke="#efefef" stroke-width="9" opacity=".36"/>
<path d="M406.7 457.3L409.8 464.7L414.8 471L421.6 478.1L429.7 483.6L440.2 482.8L450 483.9M406.7 459.3L414.5 458.5L422.5 459.1L430.2 457.1M504.9 437.7L509.5 443.1L512.2 449.8L518.2 454.4L516.2 463.4L515.8 471.4L512.6 479L505.5 485.7L497.5 491.4L489.9 491.9L482.8 494L475.4 492.8M475.4 482.9L477 490.7L477.2 498.6L477.9 506.5L473.6 514L472.3 522.3L469.2 530L467 537.9L466.1 546L468.9 552.8L473.1 559.2L477.2 565.7M469.5 549.8L477.5 551.3L485.4 553.2L493 556.2L501.2 557.9L508.7 553.3L516.7 554.1L524.7 555.9L532.1 560L540.2 561.9L545 570.3L553.5 576.3L552.8 585.2L553.3 593.1L552.1 601L552.3 608.9L551.6 616.8L549.6 624.6M552 577.4L559.2 572.4L559.7 562L567.6 557.6L568.2 548.5L567.8 539.3L567.5 530.2L564.7 522.6L563.9 514.6L564.3 506.5L561.2 498L556 490.8M567.8 557.7L575.2 559L581.9 562.5L589.1 564.5L595.8 567.8L603.1 569.6L610.4 572.7L616.8 577.6L624.5 580L630.4 585.7L631.1 593.5L636.1 600.6L636.3 608.9L638.2 615.9L635.9 623.1L636.5 630.2L638.4 637.2L637.8 644.3M400.8 601L404.5 607.3L408.1 613.7L410.9 620.5L414.7 626.5L418.8 632.2L422.3 638.4L430.4 639.6L437.9 643.3L445.8 644.9L453.9 645L462 645.1L469.5 648.7M402.7 538L407.4 546.8L414.6 553.7M497 628.5L498.7 636.4L496.7 644.3L496 652.1M571.7 632.5L581 636.4L587.2 644.5M434.2 634.4L443.9 631.1L453.7 628" stroke="rgb(137,137,137)" stroke-width="4.2" stroke-dasharray="5 4 8 3 3 5" opacity=".68"/>
<path d="M406.7 457.3L409.8 464.7L414.8 471L421.6 478.1L429.7 483.6L440.2 482.8L450 483.9M406.7 459.3L414.5 458.5L422.5 459.1L430.2 457.1M504.9 437.7L509.5 443.1L512.2 449.8L518.2 454.4L516.2 463.4L515.8 471.4L512.6 479L505.5 485.7L497.5 491.4L489.9 491.9L482.8 494L475.4 492.8M475.4 482.9L477 490.7L477.2 498.6L477.9 506.5L473.6 514L472.3 522.3L469.2 530L467 537.9L466.1 546L468.9 552.8L473.1 559.2L477.2 565.7M469.5 549.8L477.5 551.3L485.4 553.2L493 556.2L501.2 557.9L508.7 553.3L516.7 554.1L524.7 555.9L532.1 560L540.2 561.9L545 570.3L553.5 576.3L552.8 585.2L553.3 593.1L552.1 601L552.3 608.9L551.6 616.8L549.6 624.6M552 577.4L559.2 572.4L559.7 562L567.6 557.6L568.2 548.5L567.8 539.3L567.5 530.2L564.7 522.6L563.9 514.6L564.3 506.5L561.2 498L556 490.8M567.8 557.7L575.2 559L581.9 562.5L589.1 564.5L595.8 567.8L603.1 569.6L610.4 572.7L616.8 577.6L624.5 580L630.4 585.7L631.1 593.5L636.1 600.6L636.3 608.9L638.2 615.9L635.9 623.1L636.5 630.2L638.4 637.2L637.8 644.3M400.8 601L404.5 607.3L408.1 613.7L410.9 620.5L414.7 626.5L418.8 632.2L422.3 638.4L430.4 639.6L437.9 643.3L445.8 644.9L453.9 645L462 645.1L469.5 648.7M402.7 538L407.4 546.8L414.6 553.7M497 628.5L498.7 636.4L496.7 644.3L496 652.1M571.7 632.5L581 636.4L587.2 644.5M434.2 634.4L443.9 631.1L453.7 628" stroke="#f3f3f3" stroke-width="2.7" stroke-dasharray="4 6 2.5 8 5 7" opacity=".9" transform="translate(1.2 -1.1)"/>
<path d="M406.7 457.3L409.8 464.7L414.8 471L421.6 478.1L429.7 483.6L440.2 482.8L450 483.9M406.7 459.3L414.5 458.5L422.5 459.1L430.2 457.1M504.9 437.7L509.5 443.1L512.2 449.8L518.2 454.4L516.2 463.4L515.8 471.4L512.6 479L505.5 485.7L497.5 491.4L489.9 491.9L482.8 494L475.4 492.8M475.4 482.9L477 490.7L477.2 498.6L477.9 506.5L473.6 514L472.3 522.3L469.2 530L467 537.9L466.1 546L468.9 552.8L473.1 559.2L477.2 565.7M469.5 549.8L477.5 551.3L485.4 553.2L493 556.2L501.2 557.9L508.7 553.3L516.7 554.1L524.7 555.9L532.1 560L540.2 561.9L545 570.3L553.5 576.3L552.8 585.2L553.3 593.1L552.1 601L552.3 608.9L551.6 616.8L549.6 624.6M552 577.4L559.2 572.4L559.7 562L567.6 557.6L568.2 548.5L567.8 539.3L567.5 530.2L564.7 522.6L563.9 514.6L564.3 506.5L561.2 498L556 490.8M567.8 557.7L575.2 559L581.9 562.5L589.1 564.5L595.8 567.8L603.1 569.6L610.4 572.7L616.8 577.6L624.5 580L630.4 585.7L631.1 593.5L636.1 600.6L636.3 608.9L638.2 615.9L635.9 623.1L636.5 630.2L638.4 637.2L637.8 644.3M400.8 601L404.5 607.3L408.1 613.7L410.9 620.5L414.7 626.5L418.8 632.2L422.3 638.4L430.4 639.6L437.9 643.3L445.8 644.9L453.9 645L462 645.1L469.5 648.7M402.7 538L407.4 546.8L414.6 553.7M497 628.5L498.7 636.4L496.7 644.3L496 652.1M571.7 632.5L581 636.4L587.2 644.5M434.2 634.4L443.9 631.1L453.7 628" stroke="rgb(112,112,112)" stroke-width="1.9" stroke-dasharray="2.5 11 3.5 14" opacity=".7" transform="translate(-1.2 1.4)"/>
<circle cx="422.4" cy="559.7" r="3" stroke="rgb(152,152,152)" stroke-width="1.8" fill="#e2e2e2" opacity=".8"/>
<circle cx="636.5" cy="486.9" r="3" stroke="rgb(152,152,152)" stroke-width="1.8" fill="#e2e2e2" opacity=".8"/>
<circle cx="638.5" cy="526.2" r="3" stroke="rgb(152,152,152)" stroke-width="1.8" fill="#e2e2e2" opacity=".8"/>
<circle cx="648.3" cy="528.2" r="3" stroke="rgb(152,152,152)" stroke-width="1.8" fill="#e2e2e2" opacity=".8"/>
<circle cx="662.1" cy="571.5" r="3" stroke="rgb(152,152,152)" stroke-width="1.8" fill="#e2e2e2" opacity=".8"/>
<circle cx="677.8" cy="610.8" r="3" stroke="rgb(152,152,152)" stroke-width="1.8" fill="#e2e2e2" opacity=".8"/>
<circle cx="681.7" cy="471.1" r="3" stroke="rgb(152,152,152)" stroke-width="1.8" fill="#e2e2e2" opacity=".8"/>
<circle cx="618.8" cy="449.5" r="3" stroke="rgb(152,152,152)" stroke-width="1.8" fill="#e2e2e2" opacity=".8"/>
<circle cx="457.7" cy="448.3" r="3" stroke="rgb(152,152,152)" stroke-width="1.8" fill="#e2e2e2" opacity=".8"/>
<circle cx="673.9" cy="463.3" r="3" stroke="rgb(152,152,152)" stroke-width="1.8" fill="#e2e2e2" opacity=".8"/>
</g>
</g>
<clipPath id="ca6"><rect x="722.6" y="429.8" width="300.2" height="225.1"/></clipPath>
<g clip-path="url(#ca6)">
<rect x="722.6" y="429.8" width="300.2" height="225.1" fill="rgb(186,186,186)" />
<g filter="url(#gb)">
<ellipse cx="767.6" cy="531.1" rx="66" ry="101.3" fill="rgb(212,212,212)" opacity="0.8"/>
<ellipse cx="992.8" cy="519.8" rx="90.1" ry="135.1" fill="rgb(222,222,222)" opacity="0.85"/>
<ellipse cx="767.6" cy="429.8" rx="150.1" ry="45" fill="rgb(166,166,166)" opacity="0.7"/>
<ellipse cx="872.7" cy="553.6" rx="60" ry="90" fill="rgb(178,178,178)" opacity="0.5"/>
<ellipse cx="962.8" cy="654.9" rx="120.1" ry="56.3" fill="rgb(204,204,204)" opacity="0.6"/>
</g>
<rect x="722.6" y="429.8" width="300.2" height="225.1" fill="#000" filter="url(#nz)" opacity=".5"/>
<g filter="url(#mb)" fill="none" stroke-linecap="round" stroke-linejoin="round">
<path d="M788.7 484.9L798.7 482.6L808.1 478.2L816.2 480.7L823.8 483.3L832 483L840.5 486.9L848.3 491.8L856.7 498.4L864.2 505.6L865.7 513.6L871.5 518.3L870.7 528.4L868.2 538.2L860 546.4M871.3 508.5L876.2 502.3L880.6 495.6L887.9 491.5L891.5 483.6L896.8 477L903 471.2L908.4 465.5L912.1 458.9L914.3 451.3L921.4 445.1L927.9 438.5L934.5 432M839.8 534.1L836.9 541.9L835.8 550.2L832.8 558L827.8 564.1L825.4 571.6L819.4 576.9L818.8 585.2L818.9 593.3L816.4 601L819.5 607.3L821.6 614L823.5 620.9L830.7 624.6L836.3 629.4L839.7 636.6L846.5 639.5L852.9 643.2L859.4 646.5L867.4 647L875.2 648.7M873.3 518.3L881 525.5L887 534.1L894 535.7L900.7 538L906.6 542.3L914.2 548.5L923.2 552.8L928.7 558L932.7 564.5L937.7 570L944.8 576.9L950.1 585.2L957.4 592L960.5 602L971.5 603.6L981.4 605.5L988.5 601.7L995.2 598.1L1001.4 593.5L1006.7 585L1013.4 577.7L1014.4 568.2L1017.3 559.2L1016.4 549.8L1015.5 540.7L1016.4 531.4L1015.8 522.2M961.8 604.9L956.4 610L952 616.1L946.1 620.7L936.4 624.2L926.1 625.4M981.5 604.9L981.6 613L982.5 620.9L985.2 628.6L985.5 636.5L982.6 644.1L982.4 652.1M977.6 510.5L983.4 515.8L990.2 519.9L995.6 525.8L1003 529L1008.7 534.5M859.5 542L867.7 543.7L875.7 546L883 550.2L890.9 552.9L898.1 557.4L906.8 557.5M953.9 431.8L955.9 441.6M898.9 565.6L895.6 575.7M961.8 471.1L966.7 477.5L969.2 484.8L969.4 492.9M965.8 479L975.7 478.5L985.3 481.7M741.5 492.8L747 487.9L749 480.8L754.2 475.7L756.5 465.3L759.9 455.6M749.4 481L763.1 478.8" stroke="#efefef" stroke-width="9" opacity=".36"/>
<path d="M788.7 484.9L798.7 482.6L808.1 478.2L816.2 480.7L823.8 483.3L832 483L840.5 486.9L848.3 491.8L856.7 498.4L864.2 505.6L865.7 513.6L871.5 518.3L870.7 528.4L868.2 538.2L860 546.4M871.3 508.5L876.2 502.3L880.6 495.6L887.9 491.5L891.5 483.6L896.8 477L903 471.2L908.4 465.5L912.1 458.9L914.3 451.3L921.4 445.1L927.9 438.5L934.5 432M839.8 534.1L836.9 541.9L835.8 550.2L832.8 558L827.8 564.1L825.4 571.6L819.4 576.9L818.8 585.2L818.9 593.3L816.4 601L819.5 607.3L821.6 614L823.5 620.9L830.7 624.6L836.3 629.4L839.7 636.6L846.5 639.5L852.9 643.2L859.4 646.5L867.4 647L875.2 648.7M873.3 518.3L881 525.5L887 534.1L894 535.7L900.7 538L906.6 542.3L914.2 548.5L923.2 552.8L928.7 558L932.7 564.5L937.7 570L944.8 576.9L950.1 585.2L957.4 592L960.5 602L971.5 603.6L981.4 605.5L988.5 601.7L995.2 598.1L1001.4 593.5L1006.7 585L1013.4 577.7L1014.4 568.2L1017.3 559.2L1016.4 549.8L1015.5 540.7L1016.4 531.4L1015.8 522.2M961.8 604.9L956.4 610L952 616.1L946.1 620.7L936.4 624.2L926.1 625.4M981.5 604.9L981.6 613L982.5 620.9L985.2 628.6L985.5 636.5L982.6 644.1L982.4 652.1M977.6 510.5L983.4 515.8L990.2 519.9L995.6 525.8L1003 529L1008.7 534.5M859.5 542L867.7 543.7L875.7 546L883 550.2L890.9 552.9L898.1 557.4L906.8 557.5M953.9 431.8L955.9 441.6M898.9 565.6L895.6 575.7M961.8 471.1L966.7 477.5L969.2 484.8L969.4 492.9M965.8 479L975.7 478.5L985.3 481.7M741.5 492.8L747 487.9L749 480.8L754.2 475.7L756.5 465.3L759.9 455.6M749.4 481L763.1 478.8" stroke="rgb(136,136,136)" stroke-width="4.2" stroke-dasharray="5 4 8 3 3 5" opacity=".68"/>
<path d="M788.7 484.9L798.7 482.6L808.1 478.2L816.2 480.7L823.8 483.3L832 483L840.5 486.9L848.3 491.8L856.7 498.4L864.2 505.6L865.7 513.6L871.5 518.3L870.7 528.4L868.2 538.2L860 546.4M871.3 508.5L876.2 502.3L880.6 495.6L887.9 491.5L891.5 483.6L896.8 477L903 471.2L908.4 465.5L912.1 458.9L914.3 451.3L921.4 445.1L927.9 438.5L934.5 432M839.8 534.1L836.9 541.9L835.8 550.2L832.8 558L827.8 564.1L825.4 571.6L819.4 576.9L818.8 585.2L818.9 593.3L816.4 601L819.5 607.3L821.6 614L823.5 620.9L830.7 624.6L836.3 629.4L839.7 636.6L846.5 639.5L852.9 643.2L859.4 646.5L867.4 647L875.2 648.7M873.3 518.3L881 525.5L887 534.1L894 535.7L900.7 538L906.6 542.3L914.2 548.5L923.2 552.8L928.7 558L932.7 564.5L937.7 570L944.8 576.9L950.1 585.2L957.4 592L960.5 602L971.5 603.6L981.4 605.5L988.5 601.7L995.2 598.1L1001.4 593.5L1006.7 585L1013.4 577.7L1014.4 568.2L1017.3 559.2L1016.4 549.8L1015.5 540.7L1016.4 531.4L1015.8 522.2M961.8 604.9L956.4 610L952 616.1L946.1 620.7L936.4 624.2L926.1 625.4M981.5 604.9L981.6 613L982.5 620.9L985.2 628.6L985.5 636.5L982.6 644.1L982.4 652.1M977.6 510.5L983.4 515.8L990.2 519.9L995.6 525.8L1003 529L1008.7 534.5M859.5 542L867.7 543.7L875.7 546L883 550.2L890.9 552.9L898.1 557.4L906.8 557.5M953.9 431.8L955.9 441.6M898.9 565.6L895.6 575.7M961.8 471.1L966.7 477.5L969.2 484.8L969.4 492.9M965.8 479L975.7 478.5L985.3 481.7M741.5 492.8L747 487.9L749 480.8L754.2 475.7L756.5 465.3L759.9 455.6M749.4 481L763.1 478.8" stroke="#f3f3f3" stroke-width="2.7" stroke-dasharray="4 6 2.5 8 5 7" opacity=".9" transform="translate(1.2 -1.1)"/>
<path d="M788.7 484.9L798.7 482.6L808.1 478.2L816.2 480.7L823.8 483.3L832 483L840.5 486.9L848.3 491.8L856.7 498.4L864.2 505.6L865.7 513.6L871.5 518.3L870.7 528.4L868.2 538.2L860 546.4M871.3 508.5L876.2 502.3L880.6 495.6L887.9 491.5L891.5 483.6L896.8 477L903 471.2L908.4 465.5L912.1 458.9L914.3 451.3L921.4 445.1L927.9 438.5L934.5 432M839.8 534.1L836.9 541.9L835.8 550.2L832.8 558L827.8 564.1L825.4 571.6L819.4 576.9L818.8 585.2L818.9 593.3L816.4 601L819.5 607.3L821.6 614L823.5 620.9L830.7 624.6L836.3 629.4L839.7 636.6L846.5 639.5L852.9 643.2L859.4 646.5L867.4 647L875.2 648.7M873.3 518.3L881 525.5L887 534.1L894 535.7L900.7 538L906.6 542.3L914.2 548.5L923.2 552.8L928.7 558L932.7 564.5L937.7 570L944.8 576.9L950.1 585.2L957.4 592L960.5 602L971.5 603.6L981.4 605.5L988.5 601.7L995.2 598.1L1001.4 593.5L1006.7 585L1013.4 577.7L1014.4 568.2L1017.3 559.2L1016.4 549.8L1015.5 540.7L1016.4 531.4L1015.8 522.2M961.8 604.9L956.4 610L952 616.1L946.1 620.7L936.4 624.2L926.1 625.4M981.5 604.9L981.6 613L982.5 620.9L985.2 628.6L985.5 636.5L982.6 644.1L982.4 652.1M977.6 510.5L983.4 515.8L990.2 519.9L995.6 525.8L1003 529L1008.7 534.5M859.5 542L867.7 543.7L875.7 546L883 550.2L890.9 552.9L898.1 557.4L906.8 557.5M953.9 431.8L955.9 441.6M898.9 565.6L895.6 575.7M961.8 471.1L966.7 477.5L969.2 484.8L969.4 492.9M965.8 479L975.7 478.5L985.3 481.7M741.5 492.8L747 487.9L749 480.8L754.2 475.7L756.5 465.3L759.9 455.6M749.4 481L763.1 478.8" stroke="rgb(111,111,111)" stroke-width="1.9" stroke-dasharray="2.5 11 3.5 14" opacity=".7" transform="translate(-1.2 1.4)"/>
<circle cx="753.3" cy="557.7" r="3" stroke="rgb(151,151,151)" stroke-width="1.8" fill="#e2e2e2" opacity=".8"/>
<circle cx="759.2" cy="555.7" r="3" stroke="rgb(151,151,151)" stroke-width="1.8" fill="#e2e2e2" opacity=".8"/>
<circle cx="733.6" cy="624.6" r="3" stroke="rgb(151,151,151)" stroke-width="1.8" fill="#e2e2e2" opacity=".8"/>
<circle cx="739.5" cy="632.5" r="3" stroke="rgb(151,151,151)" stroke-width="1.8" fill="#e2e2e2" opacity=".8"/>
<circle cx="727.7" cy="616.7" r="3" stroke="rgb(151,151,151)" stroke-width="1.8" fill="#e2e2e2" opacity=".8"/>
<circle cx="871.3" cy="624.6" r="3" stroke="rgb(151,151,151)" stroke-width="1.8" fill="#e2e2e2" opacity=".8"/>
<circle cx="875.3" cy="638.4" r="3" stroke="rgb(151,151,151)" stroke-width="1.8" fill="#e2e2e2" opacity=".8"/>
<circle cx="835.9" cy="516.4" r="3" stroke="rgb(151,151,151)" stroke-width="1.8" fill="#e2e2e2" opacity=".8"/>
<circle cx="816.2" cy="512.4" r="3" stroke="rgb(151,151,151)" stroke-width="1.8" fill="#e2e2e2" opacity=".8"/>
<circle cx="784.8" cy="502.6" r="3" stroke="rgb(151,151,151)" stroke-width="1.8" fill="#e2e2e2" opacity=".8"/>
<circle cx="1005.1" cy="439.6" r="3" stroke="rgb(151,151,151)" stroke-width="1.8" fill="#e2e2e2" opacity=".8"/>
<circle cx="1005.1" cy="477" r="3" stroke="rgb(151,151,151)" stroke-width="1.8" fill="#e2e2e2" opacity=".8"/>
<circle cx="910.7" cy="573.4" r="3" stroke="rgb(151,151,151)" stroke-width="1.8" fill="#e2e2e2" opacity=".8"/>
<circle cx="757.2" cy="638.4" r="3" stroke="rgb(151,151,151)" stroke-width="1.8" fill="#e2e2e2" opacity=".8"/>
<circle cx="792.6" cy="648.2" r="3" stroke="rgb(151,151,151)" stroke-width="1.8" fill="#e2e2e2" opacity=".8"/>
</g>
</g>
<clipPath id="ca7"><rect x="1048.4" y="429.8" width="299.8" height="225.1"/></clipPath>
<g clip-path="url(#ca7)">
<rect x="1048.4" y="429.8" width="299.8" height="225.1" fill="rgb(189,189,189)" />
<g filter="url(#gb)">
<ellipse cx="1318.2" cy="508.6" rx="89.9" ry="135.1" fill="rgb(208,208,208)" opacity="0.75"/>
<ellipse cx="1078.4" cy="486.1" rx="36" ry="67.5" fill="rgb(168,168,168)" opacity="0.6"/>
<ellipse cx="1144.3" cy="497.3" rx="36" ry="56.3" fill="rgb(202,202,202)" opacity="0.6"/>
<ellipse cx="1078.4" cy="598.6" rx="60" ry="67.5" fill="rgb(178,178,178)" opacity="0.5"/>
<ellipse cx="1228.3" cy="621.1" rx="89.9" ry="56.3" fill="rgb(200,200,200)" opacity="0.5"/>
<ellipse cx="1057.4" cy="441.1" rx="30" ry="45" fill="rgb(160,160,160)" opacity="0.6"/>
<ellipse cx="1048.4" cy="553.6" rx="30" ry="56.3" fill="rgb(158,158,158)" opacity="0.6"/>
</g>
<rect x="1048.4" y="429.8" width="299.8" height="225.1" fill="#000" filter="url(#nz)" opacity=".5"/>
<g filter="url(#mb)" fill="none" stroke-linecap="round" stroke-linejoin="round">
<path d="M1127.1 471.1L1134.4 466.8L1139.4 459.7L1147 455.7L1154.7 456.1L1162.5 457.8L1170.3 459.7L1176.1 463.4L1182.2 467.1L1187.5 471.9L1193.7 475.5L1199.4 480L1201.2 487.3L1205 493.2L1210.1 498.4L1211.9 506.7L1216.6 513.9L1216.7 522.6L1213.9 529L1209.8 535.5L1205.1 541.6L1198 544.8L1189.8 546.5L1182.4 550.5L1174.4 551.9L1166.7 554.2L1158.6 553.9L1152.7 548.7L1145.6 545.6L1139.2 541.5L1133.8 536.1L1130 529.4L1126.8 522.4L1126.5 513L1124.9 503.8L1123.1 494.7L1125.3 487L1125.6 479L1127.1 471.1M1146.8 455.4L1150.4 447.9L1150 439.5L1152.8 431.8M1095.6 451.4L1103.1 455L1111.3 454.5L1119 456.8L1127.2 457M1107.4 437.7L1109.1 445.8L1116.6 450.7M1217.6 530.2L1224 535.8L1229.1 542.4L1232.5 550.5L1238.2 556.7L1244.1 562.7L1249.7 569L1254.6 577.7L1260.8 585.3L1264.3 591.5L1267.9 597.6L1269.4 604.7L1269.8 612.8L1270.9 620.7L1272.6 628.5L1274.2 636.4L1277.6 643.9L1276.6 652.2M1158.6 555.7L1159.9 562.9L1158.5 570.2L1158.3 577.4L1160.7 586.4L1162.5 595.6L1161.9 605L1164.7 612.9L1168.5 620.4L1172.2 627.9L1169.1 636.4L1166.9 644.1L1165.7 652M1158.6 569.5L1153.2 574.2L1147.2 578.1L1141.2 581.8L1134.7 584.8L1130 591.3L1123.2 595.2L1118 600.9L1111.2 604.8M1162.5 561.6L1167 554.3L1174.5 550M1052.3 589.2L1059.3 595.3L1065.7 602.1L1071.8 609.1L1076.2 615.2L1084.1 617.8L1087.3 625.1L1089.7 632.7L1093.4 640.2L1094.7 648.5M1127.1 522.3L1121.1 526L1114.4 528.8L1109.8 534.7L1103.8 538.5M1221.5 510.5L1225 503L1228.2 495.4L1228.2 487.1L1230.5 479.3L1230.8 471L1232.5 463L1227.2 455.6L1222.3 446.9M1245.1 504.6L1254.3 507.4L1261 514.1L1266 525.8L1253 530.1M1260.9 514.4L1268.9 514.6L1276.5 511.6M1255 498.7L1258.4 506.4L1260 514.7M1256.9 577.4L1263.4 574.6L1269.4 570.6L1276.3 568.7M1260.9 585.2L1259.1 592.6L1252.6 596.8M1166.4 616.7L1172.4 621.3L1176 628.2L1181.8 632.9M1052.3 467.2L1055.5 458.9L1059.6 451.1L1064.6 443.8M1056.3 549.8L1050.3 561.6M1213.6 577.4L1209.4 585.1L1206.7 593.6M1260.9 431.8L1261.7 439.9L1265.3 447.4M1319.9 431.8L1327.7 434.4L1331.9 441.3" stroke="#efefef" stroke-width="9" opacity=".36"/>
<path d="M1127.1 471.1L1134.4 466.8L1139.4 459.7L1147 455.7L1154.7 456.1L1162.5 457.8L1170.3 459.7L1176.1 463.4L1182.2 467.1L1187.5 471.9L1193.7 475.5L1199.4 480L1201.2 487.3L1205 493.2L1210.1 498.4L1211.9 506.7L1216.6 513.9L1216.7 522.6L1213.9 529L1209.8 535.5L1205.1 541.6L1198 544.8L1189.8 546.5L1182.4 550.5L1174.4 551.9L1166.7 554.2L1158.6 553.9L1152.7 548.7L1145.6 545.6L1139.2 541.5L1133.8 536.1L1130 529.4L1126.8 522.4L1126.5 513L1124.9 503.8L1123.1 494.7L1125.3 487L1125.6 479L1127.1 471.1M1146.8 455.4L1150.4 447.9L1150 439.5L1152.8 431.8M1095.6 451.4L1103.1 455L1111.3 454.5L1119 456.8L1127.2 457M1107.4 437.7L1109.1 445.8L1116.6 450.7M1217.6 530.2L1224 535.8L1229.1 542.4L1232.5 550.5L1238.2 556.7L1244.1 562.7L1249.7 569L1254.6 577.7L1260.8 585.3L1264.3 591.5L1267.9 597.6L1269.4 604.7L1269.8 612.8L1270.9 620.7L1272.6 628.5L1274.2 636.4L1277.6 643.9L1276.6 652.2M1158.6 555.7L1159.9 562.9L1158.5 570.2L1158.3 577.4L1160.7 586.4L1162.5 595.6L1161.9 605L1164.7 612.9L1168.5 620.4L1172.2 627.9L1169.1 636.4L1166.9 644.1L1165.7 652M1158.6 569.5L1153.2 574.2L1147.2 578.1L1141.2 581.8L1134.7 584.8L1130 591.3L1123.2 595.2L1118 600.9L1111.2 604.8M1162.5 561.6L1167 554.3L1174.5 550M1052.3 589.2L1059.3 595.3L1065.7 602.1L1071.8 609.1L1076.2 615.2L1084.1 617.8L1087.3 625.1L1089.7 632.7L1093.4 640.2L1094.7 648.5M1127.1 522.3L1121.1 526L1114.4 528.8L1109.8 534.7L1103.8 538.5M1221.5 510.5L1225 503L1228.2 495.4L1228.2 487.1L1230.5 479.3L1230.8 471L1232.5 463L1227.2 455.6L1222.3 446.9M1245.1 504.6L1254.3 507.4L1261 514.1L1266 525.8L1253 530.1M1260.9 514.4L1268.9 514.6L1276.5 511.6M1255 498.7L1258.4 506.4L1260 514.7M1256.9 577.4L1263.4 574.6L1269.4 570.6L1276.3 568.7M1260.9 585.2L1259.1 592.6L1252.6 596.8M1166.4 616.7L1172.4 621.3L1176 628.2L1181.8 632.9M1052.3 467.2L1055.5 458.9L1059.6 451.1L1064.6 443.8M1056.3 549.8L1050.3 561.6M1213.6 577.4L1209.4 585.1L1206.7 593.6M1260.9 431.8L1261.7 439.9L1265.3 447.4M1319.9 431.8L1327.7 434.4L1331.9 441.3" stroke="rgb(139,139,139)" stroke-width="4.2" stroke-dasharray="5 4 8 3 3 5" opacity=".68"/>
<path d="M1127.1 471.1L1134.4 466.8L1139.4 459.7L1147 455.7L1154.7 456.1L1162.5 457.8L1170.3 459.7L1176.1 463.4L1182.2 467.1L1187.5 471.9L1193.7 475.5L1199.4 480L1201.2 487.3L1205 493.2L1210.1 498.4L1211.9 506.7L1216.6 513.9L1216.7 522.6L1213.9 529L1209.8 535.5L1205.1 541.6L1198 544.8L1189.8 546.5L1182.4 550.5L1174.4 551.9L1166.7 554.2L1158.6 553.9L1152.7 548.7L1145.6 545.6L1139.2 541.5L1133.8 536.1L1130 529.4L1126.8 522.4L1126.5 513L1124.9 503.8L1123.1 494.7L1125.3 487L1125.6 479L1127.1 471.1M1146.8 455.4L1150.4 447.9L1150 439.5L1152.8 431.8M1095.6 451.4L1103.1 455L1111.3 454.5L1119 456.8L1127.2 457M1107.4 437.7L1109.1 445.8L1116.6 450.7M1217.6 530.2L1224 535.8L1229.1 542.4L1232.5 550.5L1238.2 556.7L1244.1 562.7L1249.7 569L1254.6 577.7L1260.8 585.3L1264.3 591.5L1267.9 597.6L1269.4 604.7L1269.8 612.8L1270.9 620.7L1272.6 628.5L1274.2 636.4L1277.6 643.9L1276.6 652.2M1158.6 555.7L1159.9 562.9L1158.5 570.2L1158.3 577.4L1160.7 586.4L1162.5 595.6L1161.9 605L1164.7 612.9L1168.5 620.4L1172.2 627.9L1169.1 636.4L1166.9 644.1L1165.7 652M1158.6 569.5L1153.2 574.2L1147.2 578.1L1141.2 581.8L1134.7 584.8L1130 591.3L1123.2 595.2L1118 600.9L1111.2 604.8M1162.5 561.6L1167 554.3L1174.5 550M1052.3 589.2L1059.3 595.3L1065.7 602.1L1071.8 609.1L1076.2 615.2L1084.1 617.8L1087.3 625.1L1089.7 632.7L1093.4 640.2L1094.7 648.5M1127.1 522.3L1121.1 526L1114.4 528.8L1109.8 534.7L1103.8 538.5M1221.5 510.5L1225 503L1228.2 495.4L1228.2 487.1L1230.5 479.3L1230.8 471L1232.5 463L1227.2 455.6L1222.3 446.9M1245.1 504.6L1254.3 507.4L1261 514.1L1266 525.8L1253 530.1M1260.9 514.4L1268.9 514.6L1276.5 511.6M1255 498.7L1258.4 506.4L1260 514.7M1256.9 577.4L1263.4 574.6L1269.4 570.6L1276.3 568.7M1260.9 585.2L1259.1 592.6L1252.6 596.8M1166.4 616.7L1172.4 621.3L1176 628.2L1181.8 632.9M1052.3 467.2L1055.5 458.9L1059.6 451.1L1064.6 443.8M1056.3 549.8L1050.3 561.6M1213.6 577.4L1209.4 585.1L1206.7 593.6M1260.9 431.8L1261.7 439.9L1265.3 447.4M1319.9 431.8L1327.7 434.4L1331.9 441.3" stroke="#f3f3f3" stroke-width="2.7" stroke-dasharray="4 6 2.5 8 5 7" opacity=".9" transform="translate(1.2 -1.1)"/>
<path d="M1127.1 471.1L1134.4 466.8L1139.4 459.7L1147 455.7L1154.7 456.1L1162.5 457.8L1170.3 459.7L1176.1 463.4L1182.2 467.1L1187.5 471.9L1193.7 475.5L1199.4 480L1201.2 487.3L1205 493.2L1210.1 498.4L1211.9 506.7L1216.6 513.9L1216.7 522.6L1213.9 529L1209.8 535.5L1205.1 541.6L1198 544.8L1189.8 546.5L1182.4 550.5L1174.4 551.9L1166.7 554.2L1158.6 553.9L1152.7 548.7L1145.6 545.6L1139.2 541.5L1133.8 536.1L1130 529.4L1126.8 522.4L1126.5 513L1124.9 503.8L1123.1 494.7L1125.3 487L1125.6 479L1127.1 471.1M1146.8 455.4L1150.4 447.9L1150 439.5L1152.8 431.8M1095.6 451.4L1103.1 455L1111.3 454.5L1119 456.8L1127.2 457M1107.4 437.7L1109.1 445.8L1116.6 450.7M1217.6 530.2L1224 535.8L1229.1 542.4L1232.5 550.5L1238.2 556.7L1244.1 562.7L1249.7 569L1254.6 577.7L1260.8 585.3L1264.3 591.5L1267.9 597.6L1269.4 604.7L1269.8 612.8L1270.9 620.7L1272.6 628.5L1274.2 636.4L1277.6 643.9L1276.6 652.2M1158.6 555.7L1159.9 562.9L1158.5 570.2L1158.3 577.4L1160.7 586.4L1162.5 595.6L1161.9 605L1164.7 612.9L1168.5 620.4L1172.2 627.9L1169.1 636.4L1166.9 644.1L1165.7 652M1158.6 569.5L1153.2 574.2L1147.2 578.1L1141.2 581.8L1134.7 584.8L1130 591.3L1123.2 595.2L1118 600.9L1111.2 604.8M1162.5 561.6L1167 554.3L1174.5 550M1052.3 589.2L1059.3 595.3L1065.7 602.1L1071.8 609.1L1076.2 615.2L1084.1 617.8L1087.3 625.1L1089.7 632.7L1093.4 640.2L1094.7 648.5M1127.1 522.3L1121.1 526L1114.4 528.8L1109.8 534.7L1103.8 538.5M1221.5 510.5L1225 503L1228.2 495.4L1228.2 487.1L1230.5 479.3L1230.8 471L1232.5 463L1227.2 455.6L1222.3 446.9M1245.1 504.6L1254.3 507.4L1261 514.1L1266 525.8L1253 530.1M1260.9 514.4L1268.9 514.6L1276.5 511.6M1255 498.7L1258.4 506.4L1260 514.7M1256.9 577.4L1263.4 574.6L1269.4 570.6L1276.3 568.7M1260.9 585.2L1259.1 592.6L1252.6 596.8M1166.4 616.7L1172.4 621.3L1176 628.2L1181.8 632.9M1052.3 467.2L1055.5 458.9L1059.6 451.1L1064.6 443.8M1056.3 549.8L1050.3 561.6M1213.6 577.4L1209.4 585.1L1206.7 593.6M1260.9 431.8L1261.7 439.9L1265.3 447.4M1319.9 431.8L1327.7 434.4L1331.9 441.3" stroke="rgb(114,114,114)" stroke-width="1.9" stroke-dasharray="2.5 11 3.5 14" opacity=".7" transform="translate(-1.2 1.4)"/>
<circle cx="1306.1" cy="530.2" r="3" stroke="rgb(154,154,154)" stroke-width="1.8" fill="#e2e2e2" opacity=".8"/>
<circle cx="1278.6" cy="516.4" r="3" stroke="rgb(154,154,154)" stroke-width="1.8" fill="#e2e2e2" opacity=".8"/>
<circle cx="1235.3" cy="648.2" r="3" stroke="rgb(154,154,154)" stroke-width="1.8" fill="#e2e2e2" opacity=".8"/>
<circle cx="1099.5" cy="557.7" r="3" stroke="rgb(154,154,154)" stroke-width="1.8" fill="#e2e2e2" opacity=".8"/>
<circle cx="1119.2" cy="577.4" r="3" stroke="rgb(154,154,154)" stroke-width="1.8" fill="#e2e2e2" opacity=".8"/>
<circle cx="1268.7" cy="616.7" r="3" stroke="rgb(154,154,154)" stroke-width="1.8" fill="#e2e2e2" opacity=".8"/>
<circle cx="1105.4" cy="571.5" r="3" stroke="rgb(154,154,154)" stroke-width="1.8" fill="#e2e2e2" opacity=".8"/>
</g>
</g>
<text x="1296.44" y="638.3" font-size="16.50" font-weight="bold" fill="#111" textLength="48.14" lengthAdjust="spacingAndGlyphs" >50µm</text>
<line x1="1302.1" y1="643.1" x2="1335.1" y2="643.1" stroke="#111" stroke-width="1.9" />
<text x="174.42" y="146.2" font-size="36.85" textLength="118.83" lengthAdjust="spacingAndGlyphs" >Vehicle</text>
<text x="390.87" y="156" font-size="36.85" textLength="285.86" lengthAdjust="spacingAndGlyphs" >gCTRP3(0.3µg/ml</text>
<text x="679.6" y="155.8" font-size="34" textLength="49" lengthAdjust="spacingAndGlyphs" font-family="Liberation Sans, Noto Sans CJK SC, sans-serif">）</text>
<text x="758.27" y="147.8" font-size="36.85" textLength="269.16" lengthAdjust="spacingAndGlyphs" >gCTRP3(1µg/ml)</text>
<text x="1073.57" y="147" font-size="36.85" textLength="269.67" lengthAdjust="spacingAndGlyphs" >gCTRP3(3µg/ml)</text>
<text transform="translate(41.5 360.5) rotate(-90)" font-size="36.85" textLength="118.83" lengthAdjust="spacingAndGlyphs" x="-0.18" >Vehicle</text>
<text transform="translate(41.5 568.8) rotate(-90)" font-size="36.85" textLength="93.83" lengthAdjust="spacingAndGlyphs" x="-2.70" >HGHL</text>
<text x="46.00" y="75.10" font-size="67.97" textLength="39.82" lengthAdjust="spacingAndGlyphs">A</text>
<rect x="1549.1" y="417.8" width="34.9" height="172.9" fill="#ffffff" stroke="#0000c4" stroke-width="3" />
<rect x="1606.4" y="452.7" width="34.9" height="138" fill="#bcdaf5" stroke="#0000c4" stroke-width="3" />
<line x1="1623.9" y1="381.4" x2="1623.9" y2="520.9" stroke="#0000c4" stroke-width="5" /><line x1="1614.1" y1="381.4" x2="1633.7" y2="381.4" stroke="#0000c4" stroke-width="5" /><line x1="1614.1" y1="520.9" x2="1633.7" y2="520.9" stroke="#0000c4" stroke-width="5" />
<rect x="1664.2" y="412.6" width="34.9" height="178.1" fill="#1aa0f5" stroke="#0000c4" stroke-width="3" />
<line x1="1681.7" y1="367.5" x2="1681.7" y2="454.7" stroke="#0000c4" stroke-width="5" /><line x1="1671.9" y1="367.5" x2="1691.5" y2="367.5" stroke="#0000c4" stroke-width="5" /><line x1="1671.9" y1="454.7" x2="1691.5" y2="454.7" stroke="#0000c4" stroke-width="5" />
<rect x="1721.5" y="456.2" width="34.9" height="134.5" fill="#0000f0" stroke="#0000f0" stroke-width="3" />
<line x1="1739" y1="402.3" x2="1739" y2="507" stroke="#0000c4" stroke-width="5" /><line x1="1729.2" y1="402.3" x2="1748.8" y2="402.3" stroke="#0000c4" stroke-width="5" /><line x1="1729.2" y1="507" x2="1748.8" y2="507" stroke="#0000c4" stroke-width="5" />
<rect x="1817" y="313.2" width="34.9" height="277.5" fill="#ffffff" stroke="#0000c4" stroke-width="3" />
<line x1="1834.5" y1="276.8" x2="1834.5" y2="346.5" stroke="#0000c4" stroke-width="5" /><line x1="1824.7" y1="276.8" x2="1844.2" y2="276.8" stroke="#0000c4" stroke-width="5" /><line x1="1824.7" y1="346.5" x2="1844.2" y2="346.5" stroke="#0000c4" stroke-width="5" />
<rect x="1874.3" y="348" width="34.9" height="242.7" fill="#bcdaf5" stroke="#0000c4" stroke-width="3" />
<line x1="1891.8" y1="311.7" x2="1891.8" y2="381.4" stroke="#0000c4" stroke-width="5" /><line x1="1882" y1="311.7" x2="1901.5" y2="311.7" stroke="#0000c4" stroke-width="5" /><line x1="1882" y1="381.4" x2="1901.5" y2="381.4" stroke="#0000c4" stroke-width="5" />
<rect x="1931.8" y="348" width="34.9" height="242.7" fill="#1aa0f5" stroke="#0000c4" stroke-width="3" />
<line x1="1949.2" y1="276.8" x2="1949.2" y2="416.3" stroke="#0000c4" stroke-width="5" /><line x1="1939.5" y1="276.8" x2="1959" y2="276.8" stroke="#0000c4" stroke-width="5" /><line x1="1939.5" y1="416.3" x2="1959" y2="416.3" stroke="#0000c4" stroke-width="5" />
<rect x="1989.7" y="365.5" width="34.9" height="225.2" fill="#0000f0" stroke="#0000f0" stroke-width="3" />
<line x1="2007.2" y1="266.3" x2="2007.2" y2="461.6" stroke="#0000c4" stroke-width="5" /><line x1="1997.4" y1="266.3" x2="2017" y2="266.3" stroke="#0000c4" stroke-width="5" /><line x1="1997.4" y1="461.6" x2="2017" y2="461.6" stroke="#0000c4" stroke-width="5" />
<line x1="1518.8" y1="240" x2="1518.8" y2="593" stroke="#000" stroke-width="4.6" />
<line x1="1516.5" y1="590.7" x2="2056.3" y2="590.7" stroke="#000" stroke-width="4.6" />
<line x1="1508.2" y1="241.9" x2="1518.8" y2="241.9" stroke="#000" stroke-width="4.2" />
<text x="1466.56" y="250.2" font-size="24.08" font-weight="bold" textLength="37.32" lengthAdjust="spacingAndGlyphs" >2.0</text>
<line x1="1508.2" y1="329.1" x2="1518.8" y2="329.1" stroke="#000" stroke-width="4.2" />
<text x="1465.88" y="337.4" font-size="24.08" font-weight="bold" textLength="37.60" lengthAdjust="spacingAndGlyphs" >1.5</text>
<line x1="1508.2" y1="416.3" x2="1518.8" y2="416.3" stroke="#000" stroke-width="4.2" />
<text x="1465.86" y="424.6" font-size="24.08" font-weight="bold" textLength="38.04" lengthAdjust="spacingAndGlyphs" >1.0</text>
<line x1="1508.2" y1="503.5" x2="1518.8" y2="503.5" stroke="#000" stroke-width="4.2" />
<text x="1466.43" y="511.8" font-size="24.08" font-weight="bold" textLength="37.04" lengthAdjust="spacingAndGlyphs" >0.5</text>
<line x1="1508.2" y1="590.7" x2="1518.8" y2="590.7" stroke="#000" stroke-width="4.2" />
<text x="1466.42" y="599" font-size="24.08" font-weight="bold" textLength="37.46" lengthAdjust="spacingAndGlyphs" >0.0</text>
<line x1="1652.2" y1="590.7" x2="1652.2" y2="600.8" stroke="#000" stroke-width="4.2" />
<line x1="1920.5" y1="590.7" x2="1920.5" y2="600.8" stroke="#000" stroke-width="4.2" />
<text x="1583.79" y="628.2" font-size="24.08" font-weight="bold" textLength="138.73" lengthAdjust="spacingAndGlyphs" >Scrambled</text>
<text x="1881.92" y="628.2" font-size="24.08" font-weight="bold" textLength="77.69" lengthAdjust="spacingAndGlyphs" >HGHL</text>
<text x="1683.71" y="681" font-size="26.68" textLength="206.60" lengthAdjust="spacingAndGlyphs" >gCTRP3(µg/ml)</text>
<text transform="translate(1413.4 539.2) rotate(-90)" font-size="36.33" font-weight="bold" textLength="249.17" lengthAdjust="spacingAndGlyphs" x="-0.33" >Tube Formation</text>
<text transform="translate(1450.3 512.7) rotate(-90)" font-size="32.39" font-weight="bold" textLength="197.38" lengthAdjust="spacingAndGlyphs" x="-1.43" >(Over vehiclel)</text>
<rect x="1537.4" y="161.7" width="35.6" height="10.4" fill="#ffffff" stroke="#0000c4" stroke-width="2.8" />
<text x="1596.48" y="175.4" font-size="23.46" textLength="78.61" lengthAdjust="spacingAndGlyphs" >Vehicle</text>
<rect x="1537.4" y="189.8" width="35.6" height="10.4" fill="#bcdaf5" stroke="#0000c4" stroke-width="2.8" />
<text x="1595.59" y="203.5" font-size="23.46" textLength="156.02" lengthAdjust="spacingAndGlyphs" >gCTRP3 (0.3)</text>
<rect x="1537.4" y="218.8" width="35.6" height="10.4" fill="#1aa0f5" stroke="#0000c4" stroke-width="2.8" />
<text x="1595.59" y="232.5" font-size="23.46" textLength="127.06" lengthAdjust="spacingAndGlyphs" >gCTRP3(1)</text>
<rect x="1537.4" y="248.6" width="35.6" height="10.4" fill="#0000f0" stroke="#0000f0" stroke-width="2.8" />
<text x="1595.59" y="262.3" font-size="23.46" textLength="134.13" lengthAdjust="spacingAndGlyphs" >gCTRP3 (3)</text>
<line x1="1572.7" y1="349.8" x2="1758.2" y2="349.8" stroke="#000" stroke-width="4" /><line x1="1572.7" y1="334.6" x2="1572.7" y2="365.5" stroke="#000" stroke-width="4.4" /><line x1="1758.2" y1="334.6" x2="1758.2" y2="365.5" stroke="#000" stroke-width="4.4" />
<text x="1642.87" y="315.4" font-size="31.56" textLength="49.17" lengthAdjust="spacingAndGlyphs" >NS</text>
<line x1="1829.7" y1="243.5" x2="2015.3" y2="243.5" stroke="#000" stroke-width="4" /><line x1="1829.7" y1="228.3" x2="1829.7" y2="259.4" stroke="#000" stroke-width="4.4" /><line x1="2015.3" y1="228.3" x2="2015.3" y2="259.4" stroke="#000" stroke-width="4.4" />
<text x="1903.74" y="218" font-size="31.56" textLength="49.73" lengthAdjust="spacingAndGlyphs" >NS</text>
<text x="1359.92" y="75.10" font-size="67.54" textLength="38.15" lengthAdjust="spacingAndGlyphs">B</text>
<defs><marker id="mR" markerWidth="8" markerHeight="8" refX="4" refY="4" markerUnits="userSpaceOnUse"><path d="M4 .5L7.5 4L4 7.5L.5 4Z" fill="#fb1c1c"/></marker><marker id="mS" markerWidth="8" markerHeight="8" refX="4" refY="4" markerUnits="userSpaceOnUse"><path d="M4 .2L7.8 6.9L.2 6.9Z" fill="#ff7a55"/></marker><marker id="mP" markerWidth="8" markerHeight="8" refX="4" refY="4" markerUnits="userSpaceOnUse"><path d="M4 .1L7.9 7L.1 7Z" fill="#a12ee0"/></marker><marker id="mG" markerWidth="8" markerHeight="8" refX="4" refY="4" markerUnits="userSpaceOnUse"><path d="M4 .2L7.6 4L4 7.8L.4 4Z" fill="#10ab7c"/></marker></defs>
<line x1="114.6" y1="1238.6" x2="1343.2" y2="1238.6" stroke="#4a4a4a" stroke-width="1.8" stroke-dasharray="1.8 4.4"/>
<line x1="114.6" y1="1173.8" x2="1343.2" y2="1173.8" stroke="#4a4a4a" stroke-width="1.8" stroke-dasharray="1.8 4.4"/>
<line x1="114.6" y1="1109" x2="1343.2" y2="1109" stroke="#4a4a4a" stroke-width="1.8" stroke-dasharray="1.8 4.4"/>
<line x1="114.6" y1="1044.2" x2="1343.2" y2="1044.2" stroke="#4a4a4a" stroke-width="1.8" stroke-dasharray="1.8 4.4"/>
<line x1="114.6" y1="979.4" x2="1343.2" y2="979.4" stroke="#4a4a4a" stroke-width="1.8" stroke-dasharray="1.8 4.4"/>
<line x1="114.6" y1="914.5" x2="1343.2" y2="914.5" stroke="#4a4a4a" stroke-width="1.8" stroke-dasharray="1.8 4.4"/>
<line x1="114.6" y1="849.7" x2="1343.2" y2="849.7" stroke="#4a4a4a" stroke-width="1.8" stroke-dasharray="1.8 4.4"/>
<line x1="221.2" y1="841.2" x2="221.2" y2="1303.4" stroke="#4a4a4a" stroke-width="1.8" stroke-dasharray="1.8 4.4"/>
<line x1="350.4" y1="841.2" x2="350.4" y2="1303.4" stroke="#4a4a4a" stroke-width="1.8" stroke-dasharray="1.8 4.4"/>
<line x1="479.7" y1="841.2" x2="479.7" y2="1303.4" stroke="#4a4a4a" stroke-width="1.8" stroke-dasharray="1.8 4.4"/>
<line x1="609" y1="841.2" x2="609" y2="1303.4" stroke="#4a4a4a" stroke-width="1.8" stroke-dasharray="1.8 4.4"/>
<line x1="738.2" y1="841.2" x2="738.2" y2="1303.4" stroke="#4a4a4a" stroke-width="1.8" stroke-dasharray="1.8 4.4"/>
<line x1="867.5" y1="841.2" x2="867.5" y2="1303.4" stroke="#4a4a4a" stroke-width="1.8" stroke-dasharray="1.8 4.4"/>
<line x1="996.8" y1="841.2" x2="996.8" y2="1303.4" stroke="#4a4a4a" stroke-width="1.8" stroke-dasharray="1.8 4.4"/>
<line x1="1126" y1="841.2" x2="1126" y2="1303.4" stroke="#4a4a4a" stroke-width="1.8" stroke-dasharray="1.8 4.4"/>
<line x1="1255.3" y1="841.2" x2="1255.3" y2="1303.4" stroke="#4a4a4a" stroke-width="1.8" stroke-dasharray="1.8 4.4"/>
<line x1="712.1" y1="848" x2="712.1" y2="1303.4" stroke="#222" stroke-width="1.7" />
<path d="M707.2 823.5L717 823.5L713.4 836L711 836Z" fill="#000"/>
<polyline points="91.9,1303.4 96.2,1296.3 100.5,1289.2 104.8,1260.6 109.1,1230.1 113.4,1200.2 117.8,1171.3 122.1,1148.7 126.4,1136.3 130.7,1130.4 135,1128.2 139.3,1126.7 143.6,1125.4 147.9,1123.3 152.2,1119.8 156.5,1119.6 160.8,1116.7 165.2,1115.2 169.5,1112.3 173.8,1109.4 178.1,1108.2 182.4,1103.7 186.7,1101.9 191,1101 195.3,1099.4 199.6,1099.5 203.9,1097.9 208.3,1097.5 212.6,1095.8 216.9,1094.1 221.2,1094 225.5,1092.9 229.8,1092.3 234.1,1091.6 238.4,1090.6 242.7,1089.1 247,1088.9 251.4,1086.6 255.7,1084.3 260,1083.1 264.3,1081.9 268.6,1080.5 272.9,1078.4 277.2,1074 281.5,1072.5 285.8,1070.3 290.1,1066.8 294.5,1062.6 298.8,1062 303.1,1059.3 307.4,1057.3 311.7,1055.6 316,1054 320.3,1051 324.6,1048.7 328.9,1045.7 333.2,1043.7 337.6,1041.8 341.9,1040.6 346.2,1038.3 350.5,1038 354.8,1035 359.1,1034.3 363.4,1033.6 367.7,1031.6 372,1030.8 376.3,1028.4 380.7,1026.9 385,1025.3 389.3,1027.2 393.6,1026.2 397.9,1024.3 402.2,1022.6 406.5,1020.9 410.8,1020.2 415.1,1021 419.4,1018.5 423.7,1016.4 428.1,1015.8 432.4,1014.4 436.7,1014.2 441,1013.2 445.3,1011.7 449.6,1010.4 453.9,1009.4 458.2,1008.4 462.5,1007.9 466.8,1005.9 471.2,1005.1 475.5,1003.3 479.8,1002.2 484.1,1002 488.4,1001.4 492.7,1000.8 497,999.2 501.3,998.7 505.6,997.3 509.9,994.5 514.3,992.6 518.6,989.1 522.9,989.6 527.2,987.7 531.5,987.9 535.8,987.2 540.1,988.1 544.4,986.4 548.7,985.3 553,986.1 557.4,984.9 561.6,984 566,984.5 570.3,982.4 574.6,981.2 578.9,982 583.2,980.3 587.5,981.1 591.8,979.9 596.1,981.1 600.5,978.7 604.7,979.1 609,979.4 609.1,980 613.4,979.7 614.9,979.6 617.7,967.1 621.1,944.9 622,945.5 626.3,951 628.3,954.4 630.6,957.8 634.8,968.2 634.9,968.6 639.2,973.1 642.6,974.7 643.6,974.4 647.8,975.5 652.2,974.4 656.5,975.7 660.8,973.9 665.1,974.4 669.4,974.5 673.7,974.2 678,973.3 682.3,973.3 686.6,973 690.9,972.7 695.3,972.1 699.6,971.1 703.9,972.5 708.2,973.2 712.4,975.1 712.5,976.8 716.8,971 720.1,967.8 721.1,968 725.4,963.1 727.9,960 729.7,955.5 734,945 735.6,942.1 738.4,946.7 742.7,955.2 743.4,955.5 747,958.1 751.3,959.9 755.6,963.1 759.9,963 764.2,963 768.5,960.8 772.8,963.7 777.1,963.2 781.5,963.2 785.8,963.1 790.1,966.8 794.4,967.7 798.7,970.3 803,970.8 807.3,974.7 811.6,974.8 815.9,977.3 820.2,979.7 824.5,979 828.9,980 833.2,979.7 837.5,981.4 841.8,982.1 846.1,980.6 850.4,981 854.7,980.9 859,981.4 863.3,979.8 867.6,980.8 872,979 876.3,980.1 880.6,980.8 884.9,983.8 889.2,981.1 893.5,981.4 897.8,981 902.1,980.8 906.4,982.7 910.7,981.2 915.1,983.1 919.4,980 923.7,984.2 928,984.9 932.3,984.8 936.6,983.9 940.9,984.3 945.2,980.4 949.5,983.2 953.8,984.4 958.2,981.2 962.4,983.3 966.8,984 971.1,981.3 975.4,981.5 979.7,982.8 984,980.4 988.3,981.9 992.6,980 996.9,981.3 1001.3,980.3 1005.5,982.4 1009.9,984.4 1014.2,980 1018.5,984.1 1022.8,984 1027.1,984.9 1031.4,984.6 1035.7,984.3 1040,984.6 1044.4,984.3 1048.6,983.1 1053,985.8 1057.3,987.5 1061.6,987.6 1065.9,986.8 1070.2,987.9 1074.5,984.6 1078.8,986.1 1083.1,985.6 1087.4,985.1 1091.7,986.7 1096.1,986.5 1100.4,985.3 1104.7,986 1109,988 1113.3,985.9 1117.6,990.5 1121.9,990 1126.2,990.5 1130.5,994.4 1134.8,988.4 1139.2,990.1 1143.5,991.7 1147.8,987.5 1152.1,989.1 1156.4,989.7 1160.7,992.1 1165,992.2 1169.3,995.4 1173.6,993.5 1177.9,996.1 1182.3,996.5 1186.6,995.8 1190.9,997.3 1195.2,997.6 1199.5,997.9 1203.8,999.5 1208.1,997.8 1212.4,997.2 1216.7,998.5 1221,999 1225.3,1002 1229.7,1002.6 1234,1004 1238.3,1001.3 1242.6,1003.9 1246.9,1002.5 1251.2,1005.9 1255.5,1006.2 1259.8,1005.6 1264.1,1004.6 1268.4,1005.7 1272.8,1005.6 1277.1,1005.9 1281.4,1005.8 1285.7,1007.5 1290,1006.1 1294.3,1006.5 1298.6,1007 1302.9,1007 1307.2,1009.1 1311.5,1009 1315.9,1009.9 1320.2,1009.6 1324.5,1009.8 1328.8,1012.7 1333.1,1011.4 1337.4,1010.2" fill="none" stroke="#fb1c1c" stroke-width="2.3" stroke-linejoin="round" marker-start="url(#mR)" marker-mid="url(#mR)" marker-end="url(#mR)"/>
<polyline points="91.9,1303.4 96.2,1296.3 100.5,1289.2 104.8,1260.6 109.1,1230.1 113.4,1200.2 117.8,1171.3 122.1,1148.4 126.4,1135.3 130.7,1129.5 135,1127.2 139.3,1125.7 143.6,1124.2 147.9,1123 152.2,1119.4 156.5,1118.2 160.8,1115.5 165.2,1112.3 169.5,1111.7 173.8,1108.5 178.1,1106.6 182.4,1103.3 186.7,1100.7 191,1100.4 195.3,1098.5 199.6,1097 203.9,1095.9 208.3,1094.9 212.6,1093.6 216.9,1091.1 221.2,1089.7 225.5,1086.8 229.8,1089.9 234.1,1086.9 238.4,1085.8 242.7,1084.1 247,1083.9 251.4,1084.1 255.7,1082.4 260,1080.4 264.3,1079.4 268.6,1076.9 272.9,1077.5 277.2,1072.4 281.5,1069.8 285.8,1068.6 290.1,1065.1 294.5,1063.1 298.8,1061.7 303.1,1058.8 307.4,1055.7 311.7,1054.6 316,1052.4 320.3,1049.8 324.6,1047.1 328.9,1044.2 333.2,1044 337.6,1041.3 341.9,1039.9 346.2,1039.9 350.5,1037 354.8,1035.4 359.1,1034 363.4,1032.3 367.7,1032.9 372,1029.8 376.3,1029 380.7,1028.4 385,1025.6 389.3,1024.3 393.6,1024.3 397.9,1021.9 402.2,1021.8 406.5,1020 410.8,1019.6 415.1,1016 419.4,1018.2 423.7,1014.6 428.1,1012.7 432.4,1013.7 436.7,1010.9 441,1009.5 445.3,1007.6 449.6,1006.1 453.9,1006.4 458.2,1006.1 462.5,1002.6 466.8,1001.7 471.2,1002.1 475.5,1000.3 479.8,999.3 484.1,998.1 488.4,997.4 492.7,995.3 497,996.8 501.3,993.3 505.6,992.7 509.9,992.1 514.3,989.9 518.6,992.1 522.9,988.4 527.2,988.3 531.5,988.9 535.8,986.8 540.1,986.8 544.4,983.7 548.7,983.7 553,984.2 557.4,984.6 561.6,983.8 566,983 570.3,982.7 574.6,982.4 578.9,981.6 583.2,980.7 587.5,980.4 591.8,980.2 596.1,980.1 600.5,976.9 604.7,979.9 609,979.2 609.1,978 613.4,977.4 616.7,975.8 617.7,969.1 621.1,945.9 622,946.9 626.3,951.3 628.3,950.9 630.6,958.4 634.8,966.5 634.9,966.9 639.2,971.9 642.6,974 643.6,974.6 647.8,973.5 652.2,975.6 656.5,973.6 660.8,973.8 665.1,974 669.4,975.3 673.7,974.2 678,975.2 682.3,975.6 686.6,971.2 690.9,973.3 695.3,972.7 699.6,974.7 703.9,973.9 708.2,974.1 712.4,974.3 712.5,974.7 716.8,970.2 720.1,968.1 721.1,964.6 725.4,959.4 727.9,955.7 729.7,952.6 734,941.1 735.6,939.2 738.4,945.6 742.7,952.7 743.4,955.4 747,958.1 751.3,959.4 755.6,961.4 759.9,962.7 764.2,962 768.5,958.4 772.8,960.7 777.1,960.7 781.5,965 785.8,964.3 790.1,964.9 794.4,967.6 798.7,970.4 803,971.1 807.3,973.7 811.6,974.9 815.9,973.7 820.2,974.3 824.5,976.6 828.9,978.4 833.2,977.7 837.5,977.4 841.8,977.7 846.1,980.3 850.4,979 854.7,978.1 859,977.8 863.3,977.5 867.6,977.8 872,980.4 876.3,980 880.6,980.9 884.9,977.3 889.2,979.6 893.5,979.3 897.8,979.3 902.1,981.5 906.4,983.1 910.7,982.7 915.1,982.9 919.4,981.4 923.7,982.7 928,985.7 932.3,984 936.6,984.5 940.9,987.3 945.2,986.3 949.5,988.5 953.8,985.7 958.2,986.6 962.4,987.9 966.8,987 971.1,985.9 975.4,986.9 979.7,985.8 984,985.5 988.3,987.2 992.6,986.5 996.9,983.4 1001.3,986 1005.5,987.2 1009.9,986.1 1014.2,987.8 1018.5,984.7 1022.8,985.7 1027.1,984.8 1031.4,985 1035.7,985.7 1040,985.1 1044.4,986.6 1048.6,988.1 1053,989.1 1057.3,988.8 1061.6,991.9 1065.9,986.9 1070.2,991.8 1074.5,990.2 1078.8,992.3 1083.1,993.7 1087.4,991.8 1091.7,992.6 1096.1,992.9 1100.4,992.5 1104.7,994.4 1109,993.6 1113.3,993.9 1117.6,995.5 1121.9,995.9 1126.2,995.3 1130.5,996.4 1134.8,996 1139.2,998.9 1143.5,995.4 1147.8,994.7 1152.1,995 1156.4,994.6 1160.7,993.7 1165,997.1 1169.3,997.5 1173.6,1000.5 1177.9,1001.5 1182.3,1002.2 1186.6,1003.9 1190.9,1003.7 1195.2,1006 1199.5,1006.1 1203.8,1008.8 1208.1,1010.1 1212.4,1008.9 1216.7,1009.3 1221,1008.7 1225.3,1008.5 1229.7,1008.1 1234,1006.2 1238.3,1005.6 1242.6,1006.3 1246.9,1007.6 1251.2,1005.1 1255.5,1008.8 1259.8,1009.8 1264.1,1007.2 1268.4,1007.9 1272.8,1008.4 1277.1,1008.5 1281.4,1010.9 1285.7,1010.6 1290,1007.9 1294.3,1008.5 1298.6,1011.2 1302.9,1008.3 1307.2,1012.6 1311.5,1012.4 1315.9,1011.8 1320.2,1014.1 1324.5,1013.7 1328.8,1013.8 1333.1,1014.5 1337.4,1013.4" fill="none" stroke="#ff7a55" stroke-width="2.3" stroke-linejoin="round" marker-start="url(#mS)" marker-mid="url(#mS)" marker-end="url(#mS)"/>
<polyline points="91.9,1303.4 96.2,1294.4 100.5,1280.5 104.8,1246.7 109.1,1193 113.4,1134.8 117.8,1092 122.1,1067.2 126.4,1056.1 130.7,1058.9 135,1061.3 139.3,1063.6 143.6,1065.1 147.9,1066.7 152.2,1067.7 156.5,1065.6 160.8,1063.1 165.2,1061.2 169.5,1054.9 173.8,1050.2 178.1,1044.1 182.4,1038.3 186.7,1032.6 191,1030.5 195.3,1028.5 199.6,1026.4 203.9,1023.5 208.3,1022.8 212.6,1022.8 216.9,1021.9 221.2,1021.2 225.5,1020.9 229.8,1024.2 234.1,1024.8 238.4,1026.4 242.7,1029.1 247,1029.3 251.4,1030 255.7,1028.5 260,1029.8 264.3,1031.4 268.6,1029.3 272.9,1028.6 277.2,1028.1 281.5,1025.7 285.8,1024.7 290.1,1024 294.5,1022.3 298.8,1023.2 303.1,1020.6 307.4,1018.1 311.7,1016.8 316,1015.1 320.3,1013.6 324.6,1011.8 328.9,1012.2 333.2,1008.7 337.6,1009.5 341.9,1007.7 346.2,1008 350.5,1004.7 354.8,1003.9 359.1,1004.6 363.4,1002.4 367.7,1003.9 372,1002.6 376.3,1002.1 380.7,1002.8 385,1001.3 389.3,999.8 393.6,1002.1 397.9,1000.2 402.2,1000.9 406.5,998 410.8,997.9 415.1,996.6 419.4,996.2 423.7,996.1 428.1,997 432.4,994.3 436.7,996.2 441,994.4 445.3,993.6 449.6,994.4 453.9,993.2 458.2,991.9 462.5,992.5 466.8,991.4 471.2,990.4 475.5,987.9 479.8,987 484.1,986.5 488.4,986.3 492.7,984.7 497,985 501.3,984.1 505.6,982.9 509.9,983.7 514.3,982.7 518.6,980.1 522.9,980.6 527.2,981.9 531.5,980.3 535.8,979.2 540.1,978.1 544.4,978.6 548.7,978.8 553,978.6 557.4,977 561.6,976.9 566,977.2 570.3,976.5 574.6,976.3 578.9,975 583.2,975.7 587.5,974.4 591.8,973.7 596.1,973.7 600.5,974.5 604.7,972.4 609,973.8 609.1,972.3 613.4,950.6 614.1,947.4 617.7,937.1 621.1,928.6 622,930.2 626.3,936.5 628.3,940.4 630.6,947.7 634.8,960.7 634.9,959.1 639.2,965.4 642.6,970.7 643.6,969.8 647.8,970.7 652.2,970.7 656.5,969.6 660.8,970.7 665.1,972.2 669.4,972.1 673.7,971.8 678,972.3 682.3,971.9 686.6,974 690.9,973 695.3,973.5 699.6,974.2 703.9,973.6 708.2,974.2 712.4,975.5 712.5,974 716.8,977.4 721.1,977.8 725.3,979.3 725.4,978.4 729.7,960.5 730.5,956.7 734,949.4 735.6,945.1 738.4,962 740.3,972.2 742.7,980.6 746,992.8 747,991.7 751.3,1003.9 753.7,1010.7 755.6,1006.7 759.9,1005 764.2,1000 768.5,995.7 772.8,993.2 777.1,990.9 781.5,991.3 785.8,991.3 790.1,995.2 794.4,997.5 798.7,999 803,1000.6 807.3,1005 811.6,1007.6 815.9,1012.8 820.2,1018.2 824.5,1020.9 828.9,1026.3 833.2,1027.9 837.5,1031 841.8,1030.8 846.1,1031.4 850.4,1034 854.7,1035.2 859,1037.5 863.3,1036.8 867.6,1037.4 872,1038.3 876.3,1041.1 880.6,1038.8 884.9,1041 889.2,1043.8 893.5,1045.5 897.8,1046.2 902.1,1046.6 906.4,1047.8 910.7,1048.1 915.1,1048.7 919.4,1049 923.7,1050.7 928,1053.7 932.3,1054.5 936.6,1056.9 940.9,1058.6 945.2,1056.8 949.5,1060.9 953.8,1059 958.2,1063.2 962.4,1063.6 966.8,1063.7 971.1,1066.1 975.4,1066.5 979.7,1068.2 984,1069.4 988.3,1069.9 992.6,1071.4 996.9,1069.3 1001.3,1072.2 1005.5,1070.4 1009.9,1076.6 1014.2,1073.7 1018.5,1073.6 1022.8,1075.3 1027.1,1074.1 1031.4,1075.3 1035.7,1077.1 1040,1076.8 1044.4,1074.5 1048.6,1078.4 1053,1079 1057.3,1080.7 1061.6,1080.6 1065.9,1083.1 1070.2,1082.4 1074.5,1079.8 1078.8,1082.2 1083.1,1083.2 1087.4,1083 1091.7,1082.5 1096.1,1084.5 1100.4,1083 1104.7,1084.7 1109,1086.3 1113.3,1084.7 1117.6,1090.3 1121.9,1088.4 1126.2,1087.8 1130.5,1089.6 1134.8,1089.2 1139.2,1090.3 1143.5,1090.8 1147.8,1087.1 1152.1,1090.2 1156.4,1091.6 1160.7,1090.3 1165,1092.8 1169.3,1091.9 1173.6,1093 1177.9,1091.9 1182.3,1096.3 1186.6,1094 1190.9,1095.3 1195.2,1097.3 1199.5,1095 1203.8,1097.9 1208.1,1095.2 1212.4,1097 1216.7,1097.2 1221,1098.5 1225.3,1097.9 1229.7,1101.8 1234,1099.8 1238.3,1101.2 1242.6,1100.5 1246.9,1101.3 1251.2,1101 1255.5,1103.2 1259.8,1100.1 1264.1,1099.8 1268.4,1103.2 1272.8,1103.2 1277.1,1103.1 1281.4,1102.1 1285.7,1101.5 1290,1105.7 1294.3,1105.3 1298.6,1106.7 1302.9,1107.7 1307.2,1109.3 1311.5,1107.6 1315.9,1110.5 1320.2,1107.5 1324.5,1108.4 1328.8,1110.9 1333.1,1111.1 1337.4,1110.7" fill="none" stroke="#a12ee0" stroke-width="2.3" stroke-linejoin="round" marker-start="url(#mP)" marker-mid="url(#mP)" marker-end="url(#mP)"/>
<polyline points="91.9,1303.4 96.2,1292.6 100.5,1277.1 104.8,1242.1 109.1,1202.7 113.4,1163.4 117.8,1137.9 122.1,1117.4 126.4,1105.9 130.7,1100.3 135,1096.8 139.3,1095.1 143.6,1093.1 147.9,1091.7 152.2,1091.5 156.5,1088.9 160.8,1087.3 165.2,1082.5 169.5,1080.2 173.8,1077.9 178.1,1075.9 182.4,1072.1 186.7,1069.6 191,1069.2 195.3,1064.8 199.6,1064.8 203.9,1062.1 208.3,1062.8 212.6,1058.8 216.9,1059.6 221.2,1057.3 225.5,1056 229.8,1056.1 234.1,1057.7 238.4,1056.3 242.7,1054.1 247,1052.1 251.4,1052.1 255.7,1052.2 260,1049.5 264.3,1049.3 268.6,1046 272.9,1045.7 277.2,1042.6 281.5,1040.6 285.8,1037.6 290.1,1036.4 294.5,1033.3 298.8,1033.1 303.1,1030.8 307.4,1028.3 311.7,1027.7 316,1023.3 320.3,1020.5 324.6,1018.3 328.9,1014.7 333.2,1014.2 337.6,1010.8 341.9,1009.3 346.2,1009.3 350.5,1007.3 354.8,1008.8 359.1,1008.9 363.4,1008.7 367.7,1006.6 372,1006.4 376.3,1003.3 380.7,1003.6 385,1001.5 389.3,998.5 393.6,997.7 397.9,997.1 402.2,994.7 406.5,994.5 410.8,992.4 415.1,991.6 419.4,991.7 423.7,989.9 428.1,988.8 432.4,989.2 436.7,989.1 441,987.9 445.3,988.3 449.6,985.6 453.9,984.9 458.2,981.1 462.5,981.3 466.8,981 471.2,978.5 475.5,978.9 479.8,978.2 484.1,977.6 488.4,977.1 492.7,977.1 497,975.6 501.3,975.5 505.6,976 509.9,975.3 514.3,975.4 518.6,973.6 522.9,972.4 527.2,971.7 531.5,971 535.8,970.8 540.1,968.6 544.4,969.3 548.7,968.3 553,967.8 557.4,966.6 561.6,966.7 566,964.5 570.3,965.6 574.6,967.2 578.9,965.9 583.2,966.5 587.5,964.3 591.8,963.7 596.1,965.1 600.5,964 604.7,964.5 609,963.8 609.1,962.5 611.5,960.2 613.4,939.6 616.2,905.2 617.7,909.5 621.9,921.1 622,921 626.3,929.8 629.6,936.6 630.6,938 634.8,956 634.9,956.8 639.2,961.1 642.6,962.5 643.6,963.6 647.8,964.9 652.2,965.8 656.5,967.3 660.8,967.7 665.1,967.4 669.4,968.2 673.7,968.8 678,970.6 682.3,971.1 686.6,972.2 690.9,972.3 695.3,972 699.6,971.8 703.9,972.1 708.2,973.7 712.5,973.7 716.2,974.3 716.8,968.2 720.1,939.8 721.1,946.6 723.5,957.6 725.4,950.6 729.7,932.8 729.7,932.1 732.8,908.4 734,965.1 734.6,993.6 736.9,929.4 738.4,935.2 740.8,946.9 742.7,946.8 747,950.9 751.3,952.1 755,955.6 755.6,954.3 759.9,952.4 764.2,949.7 768.5,952.4 772.8,953.7 777.1,956.8 781.5,956.9 785.8,961.6 790.1,964.7 794.4,969 798.7,970.7 803,975.3 807.3,983.1 811.6,988.2 815.9,993.7 820.2,997.9 824.5,1001.1 828.9,1004.9 833.2,1004.3 837.5,1007.5 841.8,1004.3 846.1,1000.8 850.4,998.3 854.7,998.9 859,998 863.3,996.6 867.6,996.1 872,993.8 876.3,994.9 880.6,994.9 884.9,993.5 889.2,992.8 893.5,991.9 897.8,991.9 902.1,994.9 906.4,996.8 910.7,997.5 915.1,994.4 919.4,998.9 923.7,999.1 928,998.6 932.3,1003.7 936.6,1004.9 940.9,1007.3 945.2,1009.8 949.5,1008.9 953.8,1009.4 958.2,1014 962.4,1011.3 966.8,1013.7 971.1,1013.2 975.4,1013.2 979.7,1015.2 984,1014 988.3,1014.9 992.6,1011.2 996.9,1010.8 1001.3,1011.1 1005.5,1011.1 1009.9,1008.8 1014.2,1011.1 1018.5,1009.3 1022.8,1009.6 1027.1,1010.6 1031.4,1013.9 1035.7,1015.3 1040,1015.4 1044.4,1015.3 1048.6,1016.9 1053,1014.8 1057.3,1016.1 1061.6,1017.5 1065.9,1018.6 1070.2,1017.8 1074.5,1017.5 1078.8,1022.4 1083.1,1020.3 1087.4,1021.7 1091.7,1023 1096.1,1023.1 1100.4,1023.2 1104.7,1021.7 1109,1024.7 1113.3,1026.6 1117.6,1029.2 1121.9,1028.2 1126.2,1031.7 1130.5,1032.4 1134.8,1032.2 1139.2,1033.7 1143.5,1034.9 1147.8,1035.3 1152.1,1035.7 1156.4,1038.7 1160.7,1040.2 1165,1041.7 1169.3,1043.6 1173.6,1043.7 1177.9,1045.4 1182.3,1044.6 1186.6,1046.3 1190.9,1050.1 1195.2,1049.1 1199.5,1048.4 1203.8,1050.9 1208.1,1051.5 1212.4,1050 1216.7,1053 1221,1051.8 1225.3,1052.1 1229.7,1052.9 1234,1056.4 1238.3,1057.8 1242.6,1055.5 1246.9,1059.5 1251.2,1059.7 1255.5,1057.7 1259.8,1062.1 1264.1,1065.1 1268.4,1059.6 1272.8,1062.6 1277.1,1064.2 1281.4,1062 1285.7,1066.4 1290,1065.2 1294.3,1067.9 1298.6,1070.1 1302.9,1070.8 1307.2,1072.3 1311.5,1073.6 1315.9,1075.1 1320.2,1077.4 1324.5,1077.1 1328.8,1074.7 1333.1,1076.5 1337.4,1077.3" fill="none" stroke="#10ab7c" stroke-width="2.3" stroke-linejoin="round" marker-start="url(#mG)" marker-mid="url(#mG)" marker-end="url(#mG)"/>
<line x1="91.9" y1="822.6" x2="91.9" y2="1304.4" stroke="#3a3a3a" stroke-width="2.1" />
<line x1="91.9" y1="823.6" x2="1343.2" y2="823.6" stroke="#3a3a3a" stroke-width="2.1" />
<line x1="90.9" y1="1303.4" x2="1344.1" y2="1303.4" stroke="#3a3a3a" stroke-width="2.1" />
<line x1="1343.2" y1="822.6" x2="1343.2" y2="1303.4" stroke="#3a3a3a" stroke-width="1.8" />
<path d="M91.9 1303.4v-12M117.8 1303.4v-7M143.6 1303.4v-7M169.5 1303.4v-7M195.3 1303.4v-7M221.2 1303.4v-12M247 1303.4v-7M272.9 1303.4v-7M298.7 1303.4v-7M324.6 1303.4v-7M350.4 1303.4v-12M376.3 1303.4v-7M402.1 1303.4v-7M428 1303.4v-7M453.8 1303.4v-7M479.7 1303.4v-12M505.5 1303.4v-7M531.4 1303.4v-7M557.3 1303.4v-7M583.1 1303.4v-7M609 1303.4v-12M634.8 1303.4v-7M660.7 1303.4v-7M686.5 1303.4v-7M712.4 1303.4v-7M738.2 1303.4v-12M764.1 1303.4v-7M789.9 1303.4v-7M815.8 1303.4v-7M841.6 1303.4v-7M867.5 1303.4v-12M893.3 1303.4v-7M919.2 1303.4v-7M945 1303.4v-7M970.9 1303.4v-7M996.8 1303.4v-12M1022.6 1303.4v-7M1048.5 1303.4v-7M1074.3 1303.4v-7M1100.2 1303.4v-7M1126 1303.4v-12M1151.9 1303.4v-7M1177.7 1303.4v-7M1203.6 1303.4v-7M1229.4 1303.4v-7M1255.3 1303.4v-12M1281.1 1303.4v-7M1307 1303.4v-7M1332.8 1303.4v-7M91.9 823.6v12M123.1 823.6v7M154.2 823.6v7M185.4 823.6v7M216.6 823.6v12M247.7 823.6v7M278.9 823.6v7M310.1 823.6v7M341.2 823.6v12M372.4 823.6v7M403.5 823.6v7M434.7 823.6v7M465.9 823.6v12M497 823.6v7M528.2 823.6v7M559.4 823.6v7M590.5 823.6v12M621.7 823.6v7M652.9 823.6v7M684 823.6v7M715.2 823.6v12M746.4 823.6v7M777.5 823.6v7M808.7 823.6v7M839.9 823.6v12M871 823.6v7M902.2 823.6v7M933.4 823.6v7M964.5 823.6v12M995.7 823.6v7M1026.8 823.6v7M1058 823.6v7M1089.2 823.6v12M1120.3 823.6v7M1151.5 823.6v7M1182.7 823.6v7M1213.8 823.6v12M1245 823.6v7M1276.2 823.6v7M1307.3 823.6v7M1338.5 823.6v12M91.9 1303.4h18.6M91.9 1296.9h7M91.9 1290.4h7M91.9 1284h7M91.9 1277.5h7M91.9 1271h12.7M91.9 1264.5h7M91.9 1258h7M91.9 1251.6h7M91.9 1245.1h7M91.9 1238.6h18.6M91.9 1232.1h7M91.9 1225.6h7M91.9 1219.1h7M91.9 1212.7h7M91.9 1206.2h12.7M91.9 1199.7h7M91.9 1193.2h7M91.9 1186.7h7M91.9 1180.3h7M91.9 1173.8h18.6M91.9 1167.3h7M91.9 1160.8h7M91.9 1154.3h7M91.9 1147.9h7M91.9 1141.4h12.7M91.9 1134.9h7M91.9 1128.4h7M91.9 1121.9h7M91.9 1115.5h7M91.9 1109h18.6M91.9 1102.5h7M91.9 1096h7M91.9 1089.5h7M91.9 1083h7M91.9 1076.6h12.7M91.9 1070.1h7M91.9 1063.6h7M91.9 1057.1h7M91.9 1050.6h7M91.9 1044.2h18.6M91.9 1037.7h7M91.9 1031.2h7M91.9 1024.7h7M91.9 1018.2h7M91.9 1011.8h12.7M91.9 1005.3h7M91.9 998.8h7M91.9 992.3h7M91.9 985.8h7M91.9 979.4h18.6M91.9 972.9h7M91.9 966.4h7M91.9 959.9h7M91.9 953.4h7M91.9 946.9h12.7M91.9 940.5h7M91.9 934h7M91.9 927.5h7M91.9 921h7M91.9 914.5h18.6M91.9 908.1h7M91.9 901.6h7M91.9 895.1h7M91.9 888.6h7M91.9 882.1h12.7M91.9 875.7h7M91.9 869.2h7M91.9 862.7h7M91.9 856.2h7M91.9 849.7h18.6" stroke="#3a3a3a" stroke-width="1.9" fill="none"/>
<text x="51.03" y="1309.2" font-size="16.71" fill="#2b2b2b" textLength="23.15" lengthAdjust="spacingAndGlyphs" >0.0</text>
<text x="51.03" y="1244.3" font-size="16.71" fill="#2b2b2b" textLength="23.42" lengthAdjust="spacingAndGlyphs" >0.2</text>
<text x="51.04" y="1179.5" font-size="16.71" fill="#2b2b2b" textLength="23.06" lengthAdjust="spacingAndGlyphs" >0.4</text>
<text x="51.03" y="1114.7" font-size="16.71" fill="#2b2b2b" textLength="23.24" lengthAdjust="spacingAndGlyphs" >0.6</text>
<text x="51.03" y="1049.9" font-size="16.71" fill="#2b2b2b" textLength="23.24" lengthAdjust="spacingAndGlyphs" >0.8</text>
<text x="50.42" y="985.1" font-size="16.71" fill="#2b2b2b" textLength="23.78" lengthAdjust="spacingAndGlyphs" >1.0</text>
<text x="50.40" y="920.3" font-size="16.71" fill="#2b2b2b" textLength="24.07" lengthAdjust="spacingAndGlyphs" >1.2</text>
<text x="50.42" y="855.5" font-size="16.71" fill="#2b2b2b" textLength="23.69" lengthAdjust="spacingAndGlyphs" >1.4</text>
<text x="74.30" y="1334.1" font-size="16.61" fill="#2b2b2b" textLength="22.41" lengthAdjust="spacingAndGlyphs" >0.0</text>
<text x="203.56" y="1334.1" font-size="16.61" fill="#2b2b2b" textLength="22.41" lengthAdjust="spacingAndGlyphs" >5.0</text>
<text x="323.94" y="1334.1" font-size="16.61" fill="#2b2b2b" textLength="33.41" lengthAdjust="spacingAndGlyphs" >10.0</text>
<text x="453.21" y="1334.1" font-size="16.61" fill="#2b2b2b" textLength="33.41" lengthAdjust="spacingAndGlyphs" >15.0</text>
<text x="582.91" y="1334.1" font-size="16.61" fill="#2b2b2b" textLength="32.96" lengthAdjust="spacingAndGlyphs" >20.0</text>
<text x="712.18" y="1334.1" font-size="16.61" fill="#2b2b2b" textLength="32.96" lengthAdjust="spacingAndGlyphs" >25.0</text>
<text x="841.62" y="1334.1" font-size="16.61" fill="#2b2b2b" textLength="32.79" lengthAdjust="spacingAndGlyphs" >30.0</text>
<text x="970.88" y="1334.1" font-size="16.61" fill="#2b2b2b" textLength="32.79" lengthAdjust="spacingAndGlyphs" >35.0</text>
<text x="1100.49" y="1334.1" font-size="16.61" fill="#2b2b2b" textLength="32.44" lengthAdjust="spacingAndGlyphs" >40.0</text>
<text x="1229.75" y="1334.1" font-size="16.61" fill="#2b2b2b" textLength="32.44" lengthAdjust="spacingAndGlyphs" >45.0</text>
<text x="652.60" y="1368.7" font-size="20.34" fill="#2b2b2b" textLength="126.65" lengthAdjust="spacingAndGlyphs" >Time (in Hour)</text>
<text transform="translate(41.2 1166.5) rotate(-90)" font-size="16.19" fill="#2b2b2b" textLength="192.51" lengthAdjust="spacingAndGlyphs" x="-1.57" >Normalized Cell Index</text>
<rect x="735.9" y="1141" width="305" height="136.2" fill="#fff" stroke="#000" stroke-width="3" />
<line x1="737.5" y1="1238.6" x2="1039.5" y2="1238.6" stroke="#3a3a3a" stroke-width="1.9" stroke-dasharray="1.9 4.3" stroke-dashoffset="3"/>
<line x1="737.5" y1="1173.8" x2="1039.5" y2="1173.8" stroke="#3a3a3a" stroke-width="1.9" stroke-dasharray="1.9 4.3" stroke-dashoffset="3"/>
<line x1="738.2" y1="1142.5" x2="738.2" y2="1275.6" stroke="#3a3a3a" stroke-width="1.9" stroke-dasharray="1.9 4.3"/>
<line x1="867.5" y1="1142.5" x2="867.5" y2="1275.6" stroke="#3a3a3a" stroke-width="1.9" stroke-dasharray="1.9 4.3"/>
<line x1="996.8" y1="1142.5" x2="996.8" y2="1275.6" stroke="#3a3a3a" stroke-width="1.9" stroke-dasharray="1.9 4.3"/>
<line x1="747.2" y1="1160.4" x2="853.8" y2="1160.4" stroke="#f01010" stroke-width="4.4" />
<text x="881.50" y="1168.3" font-size="20.34" font-weight="bold" textLength="68.13" lengthAdjust="spacingAndGlyphs" >Vehicle</text>
<line x1="747.2" y1="1192.6" x2="853.8" y2="1192.6" stroke="#ffb400" stroke-width="4.4" />
<text x="880.78" y="1200.2" font-size="20.34" font-weight="bold" textLength="79.52" lengthAdjust="spacingAndGlyphs" >gCTRP3</text>
<line x1="747.2" y1="1223.6" x2="853.8" y2="1223.6" stroke="#9a30d8" stroke-width="4.4" />
<text x="880.25" y="1232.2" font-size="20.34" font-weight="bold" textLength="59.04" lengthAdjust="spacingAndGlyphs" >HGHL</text>
<line x1="747.2" y1="1255.8" x2="853.8" y2="1255.8" stroke="#35dd28" stroke-width="4.4" />
<text x="880.26" y="1263.4" font-size="20.34" font-weight="bold" textLength="150.28" lengthAdjust="spacingAndGlyphs" >HGHL+gCTRP3</text>
<text x="30.27" y="770.84" font-size="66.48" textLength="37.99" lengthAdjust="spacingAndGlyphs">C</text>
<rect x="1537.9" y="1018.7" width="82.6" height="202.2" fill="#fff" stroke="#000" stroke-width="5" />
<rect x="1669.7" y="1018.5" width="82.3" height="202.4" fill="#fff" stroke="#000" stroke-width="5" />
<rect x="1801.6" y="1141.4" width="82.2" height="79.5" fill="#fff" stroke="#000" stroke-width="5" />
<rect x="1933.5" y="1089.2" width="82.2" height="131.7" fill="#fff" stroke="#000" stroke-width="5" />
<line x1="1710.9" y1="983.2" x2="1710.9" y2="1049.9" stroke="#000" stroke-width="4.1" /><line x1="1689.3" y1="983.2" x2="1732.5" y2="983.2" stroke="#000" stroke-width="4.1" /><line x1="1689.3" y1="1049.9" x2="1732.5" y2="1049.9" stroke="#000" stroke-width="4.1" />
<line x1="1842.7" y1="1114.6" x2="1842.7" y2="1166.2" stroke="#000" stroke-width="4.1" /><line x1="1821.1" y1="1114.6" x2="1864.3" y2="1114.6" stroke="#000" stroke-width="4.1" /><line x1="1821.1" y1="1166.2" x2="1864.3" y2="1166.2" stroke="#000" stroke-width="4.1" />
<line x1="1974.6" y1="1056.4" x2="1974.6" y2="1120.5" stroke="#000" stroke-width="4.1" /><line x1="1953" y1="1056.4" x2="1996.2" y2="1056.4" stroke="#000" stroke-width="4.1" /><line x1="1953" y1="1120.5" x2="1996.2" y2="1120.5" stroke="#000" stroke-width="4.1" />
<circle cx="1542.6" cy="1018.7" r="7" fill="#000"/>
<circle cx="1561" cy="1018.7" r="7" fill="#000"/>
<circle cx="1579.4" cy="1018.7" r="7" fill="#000"/>
<circle cx="1597.8" cy="1018.7" r="7" fill="#000"/>
<circle cx="1616.2" cy="1018.7" r="7" fill="#000"/>
<rect x="1703.9" y="968.5" width="14" height="14" fill="#000" />
<rect x="1675.9" y="1006.5" width="14" height="14" fill="#000" />
<rect x="1703.9" y="1004.5" width="14" height="14" fill="#000" />
<rect x="1732.2" y="1004.5" width="14" height="14" fill="#000" />
<rect x="1703.9" y="1061.8" width="14" height="14" fill="#000" />
<path d="M1863.5 1120.5L1878.5 1120.5L1871 1106.5Z" fill="#000"/>
<path d="M1835.2 1126.5L1850.2 1126.5L1842.7 1112.5Z" fill="#000"/>
<path d="M1835.2 1152.5L1850.2 1152.5L1842.7 1138.5Z" fill="#000"/>
<path d="M1835.2 1166.5L1850.2 1166.5L1842.7 1152.5Z" fill="#000"/>
<path d="M1835.2 1182.5L1850.2 1182.5L1842.7 1168.5Z" fill="#000"/>
<path d="M1967.1 1040.5L1982.1 1040.5L1974.6 1054.5Z" fill="#000"/>
<path d="M1938.7 1066.2L1953.7 1066.2L1946.2 1080.2Z" fill="#000"/>
<path d="M1967.1 1073.2L1982.1 1073.2L1974.6 1087.2Z" fill="#000"/>
<path d="M1938.7 1116.4L1953.7 1116.4L1946.2 1130.4Z" fill="#000"/>
<path d="M1995.4 1111.3L2010.4 1111.3L2002.9 1125.3Z" fill="#000"/>
<line x1="1514.5" y1="915.1" x2="1514.5" y2="1222.9" stroke="#000" stroke-width="3.7" />
<line x1="1512.7" y1="1220.9" x2="2042.1" y2="1220.9" stroke="#000" stroke-width="4" />
<line x1="1503.9" y1="916.9" x2="1514.5" y2="916.9" stroke="#000" stroke-width="3.6" />
<text x="1462.28" y="924.2" font-size="21.38" font-weight="bold" textLength="37.61" lengthAdjust="spacingAndGlyphs" >1.2</text>
<line x1="1503.9" y1="967.5" x2="1514.5" y2="967.5" stroke="#000" stroke-width="3.6" />
<text x="1462.36" y="974.8" font-size="21.38" font-weight="bold" textLength="35.69" lengthAdjust="spacingAndGlyphs" >1.1</text>
<line x1="1503.9" y1="1018.7" x2="1514.5" y2="1018.7" stroke="#000" stroke-width="3.6" />
<text x="1462.28" y="1026" font-size="21.38" font-weight="bold" textLength="37.61" lengthAdjust="spacingAndGlyphs" >1.0</text>
<line x1="1503.9" y1="1068.8" x2="1514.5" y2="1068.8" stroke="#000" stroke-width="3.6" />
<text x="1462.84" y="1076.1" font-size="21.38" font-weight="bold" textLength="36.89" lengthAdjust="spacingAndGlyphs" >0.9</text>
<line x1="1503.9" y1="1119.4" x2="1514.5" y2="1119.4" stroke="#000" stroke-width="3.6" />
<text x="1462.84" y="1126.7" font-size="21.38" font-weight="bold" textLength="36.75" lengthAdjust="spacingAndGlyphs" >0.8</text>
<line x1="1503.9" y1="1170.1" x2="1514.5" y2="1170.1" stroke="#000" stroke-width="3.6" />
<text x="1462.83" y="1177.4" font-size="21.38" font-weight="bold" textLength="37.04" lengthAdjust="spacingAndGlyphs" >0.7</text>
<line x1="1503.9" y1="1220.9" x2="1514.5" y2="1220.9" stroke="#000" stroke-width="3.6" />
<text x="1462.84" y="1228.2" font-size="21.38" font-weight="bold" textLength="36.89" lengthAdjust="spacingAndGlyphs" >0.6</text>
<line x1="1578.7" y1="1220.9" x2="1578.7" y2="1230.1" stroke="#000" stroke-width="3.6" />
<line x1="1710.6" y1="1220.9" x2="1710.6" y2="1230.1" stroke="#000" stroke-width="3.6" />
<line x1="1842.3" y1="1220.9" x2="1842.3" y2="1230.1" stroke="#000" stroke-width="3.6" />
<line x1="1974.1" y1="1220.9" x2="1974.1" y2="1230.1" stroke="#000" stroke-width="3.6" />
<text transform="translate(1588.2 1250.4) scale(1.185 1) rotate(-45)" font-size="23.15" font-weight="bold" text-anchor="end" >Control</text>
<text transform="translate(1720.1 1250.4) scale(1.185 1) rotate(-45)" font-size="23.15" font-weight="bold" text-anchor="end" >gCTRP3</text>
<text transform="translate(1851.8 1250.4) scale(1.185 1) rotate(-45)" font-size="23.15" font-weight="bold" text-anchor="end" >HGHL</text>
<text transform="translate(1983.6 1250.4) scale(1.185 1) rotate(-45)" font-size="23.15" font-weight="bold" text-anchor="end" >HGHL+gCTRP3</text>
<text transform="translate(1405.8 1134.5) rotate(-90)" font-size="36.95" font-weight="bold" textLength="132.83" lengthAdjust="spacingAndGlyphs" x="-1.12" >Cell Index</text>
<text transform="translate(1443.3 1164.7) rotate(-90)" font-size="35.29" font-weight="bold" textLength="195.73" lengthAdjust="spacingAndGlyphs" x="-1.44" >(Over Control)</text>
<text x="1660.43" y="1409.2" font-size="25.95" textLength="228.58" lengthAdjust="spacingAndGlyphs" >gCTRP3 (3µg/ml)</text>
<line x1="1584.2" y1="922.2" x2="1837.3" y2="922.2" stroke="#000" stroke-width="3.6" /><line x1="1584.2" y1="908.2" x2="1584.2" y2="935.9" stroke="#000" stroke-width="4" /><line x1="1837.3" y1="908.2" x2="1837.3" y2="935.9" stroke="#000" stroke-width="4" />
<line x1="1841.2" y1="881" x2="1980" y2="881" stroke="#000" stroke-width="3.6" /><line x1="1841.2" y1="867.9" x2="1841.2" y2="894.9" stroke="#000" stroke-width="4" /><line x1="1980" y1="867.9" x2="1980" y2="894.9" stroke="#000" stroke-width="4" />
<text x="1693.35" y="912.24" font-size="25.71" textLength="35.23" lengthAdjust="spacingAndGlyphs">***</text>
<text x="1899.93" y="873.95" font-size="25.14" textLength="12.11" lengthAdjust="spacingAndGlyphs">*</text>
<rect x="332.1" y="1767.5" width="82.2" height="115.7" fill="#fff" stroke="#000" stroke-width="5" />
<rect x="464" y="1755.4" width="81.4" height="127.8" fill="#fff" stroke="#000" stroke-width="5" />
<rect x="595.2" y="1702.2" width="82" height="181" fill="#fff" stroke="#000" stroke-width="5" />
<rect x="726.5" y="1756.6" width="81.7" height="126.6" fill="#fff" stroke="#000" stroke-width="5" />
<line x1="505.1" y1="1738.6" x2="505.1" y2="1768.9" stroke="#000" stroke-width="4.1" /><line x1="483.5" y1="1738.6" x2="526.7" y2="1738.6" stroke="#000" stroke-width="4.1" /><line x1="483.5" y1="1768.9" x2="526.7" y2="1768.9" stroke="#000" stroke-width="4.1" />
<line x1="635.6" y1="1660.4" x2="635.6" y2="1739.1" stroke="#000" stroke-width="4.1" /><line x1="614" y1="1660.4" x2="657.2" y2="1660.4" stroke="#000" stroke-width="4.1" /><line x1="614" y1="1739.1" x2="657.2" y2="1739.1" stroke="#000" stroke-width="4.1" />
<line x1="767.4" y1="1722.2" x2="767.4" y2="1786.3" stroke="#000" stroke-width="4.1" /><line x1="745.8" y1="1722.2" x2="789" y2="1722.2" stroke="#000" stroke-width="4.1" /><line x1="745.8" y1="1786.3" x2="789" y2="1786.3" stroke="#000" stroke-width="4.1" />
<circle cx="336.1" cy="1767.5" r="7" fill="#000"/>
<circle cx="354.5" cy="1767.5" r="7" fill="#000"/>
<circle cx="372.9" cy="1767.5" r="7" fill="#000"/>
<circle cx="391.6" cy="1767.5" r="7" fill="#000"/>
<circle cx="410" cy="1767.5" r="7" fill="#000"/>
<rect x="469.6" y="1734.5" width="14" height="14" fill="#000" />
<rect x="498.1" y="1728.5" width="14" height="14" fill="#000" />
<rect x="498.1" y="1754" width="14" height="14" fill="#000" />
<rect x="527.7" y="1754" width="14" height="14" fill="#000" />
<rect x="498.1" y="1766" width="14" height="14" fill="#000" />
<path d="M600.2 1665L615.2 1665L607.7 1651Z" fill="#000"/>
<path d="M628.1 1674.2L643.1 1674.2L635.6 1660.2Z" fill="#000"/>
<path d="M628.1 1702L643.1 1702L635.6 1688Z" fill="#000"/>
<path d="M600.2 1748L615.2 1748L607.7 1734Z" fill="#000"/>
<path d="M656.7 1745.6L671.7 1745.6L664.2 1731.6Z" fill="#000"/>
<path d="M731.7 1729L746.7 1729L739.2 1743Z" fill="#000"/>
<path d="M759.9 1723.7L774.9 1723.7L767.4 1737.7Z" fill="#000"/>
<path d="M787.9 1729.7L802.9 1729.7L795.4 1743.7Z" fill="#000"/>
<path d="M759.9 1753.2L774.9 1753.2L767.4 1767.2Z" fill="#000"/>
<path d="M759.9 1801.2L774.9 1801.2L767.4 1815.2Z" fill="#000"/>
<line x1="308.3" y1="1590.8" x2="308.3" y2="1885.2" stroke="#000" stroke-width="3.7" />
<line x1="306.5" y1="1883.2" x2="834.9" y2="1883.2" stroke="#000" stroke-width="4" />
<line x1="297.7" y1="1592.6" x2="308.3" y2="1592.6" stroke="#000" stroke-width="3.6" />
<text x="256.44" y="1599.9" font-size="21.07" font-weight="bold" textLength="38.05" lengthAdjust="spacingAndGlyphs" >2.5</text>
<line x1="297.7" y1="1651.5" x2="308.3" y2="1651.5" stroke="#000" stroke-width="3.6" />
<text x="256.43" y="1658.8" font-size="21.07" font-weight="bold" textLength="38.48" lengthAdjust="spacingAndGlyphs" >2.0</text>
<line x1="297.7" y1="1709.6" x2="308.3" y2="1709.6" stroke="#000" stroke-width="3.6" />
<text x="255.73" y="1716.9" font-size="21.07" font-weight="bold" textLength="38.78" lengthAdjust="spacingAndGlyphs" >1.5</text>
<line x1="297.7" y1="1767.5" x2="308.3" y2="1767.5" stroke="#000" stroke-width="3.6" />
<text x="255.71" y="1774.8" font-size="21.07" font-weight="bold" textLength="39.23" lengthAdjust="spacingAndGlyphs" >1.0</text>
<line x1="297.7" y1="1825.6" x2="308.3" y2="1825.6" stroke="#000" stroke-width="3.6" />
<text x="256.30" y="1832.9" font-size="21.07" font-weight="bold" textLength="38.19" lengthAdjust="spacingAndGlyphs" >0.5</text>
<line x1="297.7" y1="1883.2" x2="308.3" y2="1883.2" stroke="#000" stroke-width="3.6" />
<text x="256.29" y="1890.5" font-size="21.07" font-weight="bold" textLength="38.63" lengthAdjust="spacingAndGlyphs" >0.0</text>
<line x1="372.9" y1="1883.2" x2="372.9" y2="1892.4" stroke="#000" stroke-width="3.6" />
<line x1="505.1" y1="1883.2" x2="505.1" y2="1892.4" stroke="#000" stroke-width="3.6" />
<line x1="635.6" y1="1883.2" x2="635.6" y2="1892.4" stroke="#000" stroke-width="3.6" />
<line x1="767.1" y1="1883.2" x2="767.1" y2="1892.4" stroke="#000" stroke-width="3.6" />
<text transform="translate(384.9 1910.2) scale(1.250 1) rotate(-45)" font-size="21.80" font-weight="bold" text-anchor="end" >Control</text>
<text transform="translate(517.1 1910.2) scale(1.250 1) rotate(-45)" font-size="21.80" font-weight="bold" text-anchor="end" >gCTRP3</text>
<text transform="translate(647.6 1910.2) scale(1.250 1) rotate(-45)" font-size="21.80" font-weight="bold" text-anchor="end" >HGHL</text>
<text transform="translate(779.1 1910.2) scale(1.250 1) rotate(-45)" font-size="21.80" font-weight="bold" text-anchor="end" >HGHL+gCTRP3</text>
<text transform="translate(196.9 1880.8) rotate(-90)" font-size="38.41" font-weight="bold" textLength="287.38" lengthAdjust="spacingAndGlyphs" x="-1.82" >Relative fluorescence</text>
<text transform="translate(237.3 1831.1) rotate(-90)" font-size="36.85" font-weight="bold" textLength="187.92" lengthAdjust="spacingAndGlyphs" x="-1.39" >(Over Control)</text>
<text x="349.63" y="2042.5" font-size="24.70" textLength="228.28" lengthAdjust="spacingAndGlyphs" >gCTRP3 (3µg/ml)</text>
<line x1="374.4" y1="1604.3" x2="635.6" y2="1604.3" stroke="#000" stroke-width="3.6" /><line x1="374.4" y1="1591.4" x2="374.4" y2="1617.6" stroke="#000" stroke-width="4" /><line x1="635.6" y1="1591.4" x2="635.6" y2="1617.6" stroke="#000" stroke-width="4" />
<line x1="638.5" y1="1560.4" x2="773.6" y2="1560.4" stroke="#000" stroke-width="3.6" /><line x1="638.5" y1="1547.8" x2="638.5" y2="1573.8" stroke="#000" stroke-width="4" /><line x1="773.6" y1="1547.8" x2="773.6" y2="1573.8" stroke="#000" stroke-width="4" />
<text x="493.05" y="1591.53" font-size="27.14" textLength="23.35" lengthAdjust="spacingAndGlyphs">**</text>
<text x="701.04" y="1548.34" font-size="25.71" textLength="11.89" lengthAdjust="spacingAndGlyphs">*</text>
<rect x="1544.7" y="1695.5" width="79.7" height="182.2" fill="#fff" stroke="#000" stroke-width="5" />
<rect x="1673" y="1696.2" width="79.8" height="181.5" fill="#fff" stroke="#000" stroke-width="5" />
<rect x="1801.4" y="1767.1" width="79.7" height="110.6" fill="#fff" stroke="#000" stroke-width="5" />
<rect x="1929.7" y="1719.2" width="79.7" height="158.5" fill="#fff" stroke="#000" stroke-width="5" />
<line x1="1585" y1="1665.9" x2="1585" y2="1720.3" stroke="#000" stroke-width="4.1" /><line x1="1563.4" y1="1665.9" x2="1606.6" y2="1665.9" stroke="#000" stroke-width="4.1" /><line x1="1563.4" y1="1720.3" x2="1606.6" y2="1720.3" stroke="#000" stroke-width="4.1" />
<line x1="1712.7" y1="1664.6" x2="1712.7" y2="1720.3" stroke="#000" stroke-width="4.1" /><line x1="1691.1" y1="1664.6" x2="1734.3" y2="1664.6" stroke="#000" stroke-width="4.1" /><line x1="1691.1" y1="1720.3" x2="1734.3" y2="1720.3" stroke="#000" stroke-width="4.1" />
<line x1="1841.2" y1="1752.5" x2="1841.2" y2="1776.8" stroke="#000" stroke-width="4.1" /><line x1="1819.6" y1="1752.5" x2="1862.8" y2="1752.5" stroke="#000" stroke-width="4.1" /><line x1="1819.6" y1="1776.8" x2="1862.8" y2="1776.8" stroke="#000" stroke-width="4.1" />
<line x1="1969.1" y1="1683.5" x2="1969.1" y2="1749.4" stroke="#000" stroke-width="4.1" /><line x1="1947.5" y1="1683.5" x2="1990.7" y2="1683.5" stroke="#000" stroke-width="4.1" /><line x1="1947.5" y1="1749.4" x2="1990.7" y2="1749.4" stroke="#000" stroke-width="4.1" />
<circle cx="1585" cy="1650.1" r="7" fill="#000"/>
<circle cx="1557.2" cy="1684.7" r="7" fill="#000"/>
<circle cx="1585" cy="1706.5" r="7" fill="#000"/>
<circle cx="1612.4" cy="1706.5" r="7" fill="#000"/>
<circle cx="1585" cy="1718.6" r="7" fill="#000"/>
<rect x="1705.7" y="1646" width="14" height="14" fill="#000" />
<rect x="1705.7" y="1666.8" width="14" height="14" fill="#000" />
<rect x="1705.7" y="1695.9" width="14" height="14" fill="#000" />
<rect x="1678.8" y="1714.5" width="14" height="14" fill="#000" />
<rect x="1733.3" y="1708.5" width="14" height="14" fill="#000" />
<path d="M1805.9 1768L1820.9 1768L1813.4 1754Z" fill="#000"/>
<path d="M1861.1 1755.4L1876.1 1755.4L1868.6 1741.4Z" fill="#000"/>
<path d="M1861.1 1772.8L1876.1 1772.8L1868.6 1758.8Z" fill="#000"/>
<path d="M1833.7 1775.3L1848.7 1775.3L1841.2 1761.3Z" fill="#000"/>
<path d="M1833.7 1788.5L1848.7 1788.5L1841.2 1774.5Z" fill="#000"/>
<path d="M1961.6 1666.6L1976.6 1666.6L1969.1 1680.6Z" fill="#000"/>
<path d="M1934.2 1703.7L1949.2 1703.7L1941.7 1717.7Z" fill="#000"/>
<path d="M1989 1696.4L2004 1696.4L1996.5 1710.4Z" fill="#000"/>
<path d="M1961.6 1729.6L1976.6 1729.6L1969.1 1743.6Z" fill="#000"/>
<path d="M1961.6 1752.1L1976.6 1752.1L1969.1 1766.1Z" fill="#000"/>
<line x1="1521.1" y1="1575.2" x2="1521.1" y2="1879.7" stroke="#000" stroke-width="3.7" />
<line x1="1519.3" y1="1877.7" x2="2034.9" y2="1877.7" stroke="#000" stroke-width="4" />
<line x1="1510.5" y1="1577" x2="1521.1" y2="1577" stroke="#000" stroke-width="3.6" />
<text x="1477.67" y="1584.3" font-size="21.80" font-weight="bold" textLength="30.59" lengthAdjust="spacingAndGlyphs" >80</text>
<line x1="1510.5" y1="1652.1" x2="1521.1" y2="1652.1" stroke="#000" stroke-width="3.6" />
<text x="1477.53" y="1659.4" font-size="21.80" font-weight="bold" textLength="30.74" lengthAdjust="spacingAndGlyphs" >60</text>
<line x1="1510.5" y1="1727.6" x2="1521.1" y2="1727.6" stroke="#000" stroke-width="3.6" />
<text x="1478.09" y="1734.9" font-size="21.80" font-weight="bold" textLength="30.15" lengthAdjust="spacingAndGlyphs" >40</text>
<line x1="1510.5" y1="1802.7" x2="1521.1" y2="1802.7" stroke="#000" stroke-width="3.6" />
<text x="1477.53" y="1810" font-size="21.80" font-weight="bold" textLength="30.74" lengthAdjust="spacingAndGlyphs" >20</text>
<line x1="1510.5" y1="1877.7" x2="1521.1" y2="1877.7" stroke="#000" stroke-width="3.6" />
<text x="1492.24" y="1885" font-size="21.80" font-weight="bold" textLength="16.16" lengthAdjust="spacingAndGlyphs" >0</text>
<line x1="1584.6" y1="1877.7" x2="1584.6" y2="1886.9" stroke="#000" stroke-width="3.6" />
<line x1="1712.6" y1="1877.7" x2="1712.6" y2="1886.9" stroke="#000" stroke-width="3.6" />
<line x1="1840.8" y1="1877.7" x2="1840.8" y2="1886.9" stroke="#000" stroke-width="3.6" />
<line x1="1969.1" y1="1877.7" x2="1969.1" y2="1886.9" stroke="#000" stroke-width="3.6" />
<text transform="translate(1593.6 1908.7) scale(1.140 1) rotate(-45)" font-size="22.11" font-weight="bold" text-anchor="end" >Control</text>
<text transform="translate(1721.6 1908.7) scale(1.140 1) rotate(-45)" font-size="22.11" font-weight="bold" text-anchor="end" >gCTRP3</text>
<text transform="translate(1849.8 1908.7) scale(1.140 1) rotate(-45)" font-size="22.11" font-weight="bold" text-anchor="end" >HGHL</text>
<text transform="translate(1978.1 1908.7) scale(1.140 1) rotate(-45)" font-size="22.11" font-weight="bold" text-anchor="end" >HGHL+gCTRP3</text>
<text transform="translate(1420 1874.1) rotate(-90)" font-size="33.73" font-weight="bold" textLength="296.25" lengthAdjust="spacingAndGlyphs" x="-1.87" >Fluorescenc intensity</text>
<text transform="translate(1460.3 1805.6) rotate(-90)" font-size="35.29" font-weight="bold" textLength="158.38" lengthAdjust="spacingAndGlyphs" x="-1.15" >of Occludin</text>
<text x="1599.76" y="2065.2" font-size="26.47" textLength="213.60" lengthAdjust="spacingAndGlyphs" >gCTRP3(3µg/ml)</text>
<line x1="1603.9" y1="1577" x2="1858.2" y2="1577" stroke="#000" stroke-width="3.6" /><line x1="1603.9" y1="1563.4" x2="1603.9" y2="1590" stroke="#000" stroke-width="4" /><line x1="1858.2" y1="1563.4" x2="1858.2" y2="1590" stroke="#000" stroke-width="4" />
<line x1="1848" y1="1537.5" x2="1973.9" y2="1537.5" stroke="#000" stroke-width="3.6" /><line x1="1848" y1="1524.2" x2="1848" y2="1551.3" stroke="#000" stroke-width="4" /><line x1="1973.9" y1="1524.2" x2="1973.9" y2="1551.3" stroke="#000" stroke-width="4" />
<text x="1726.06" y="1560.33" font-size="27.14" textLength="22.62" lengthAdjust="spacingAndGlyphs">**</text>
<text x="1910.54" y="1526.24" font-size="26.00" textLength="11.89" lengthAdjust="spacingAndGlyphs">*</text>
<rect x="1545.4" y="2396.8" width="81" height="166.5" fill="#fff" stroke="#000" stroke-width="5" />
<rect x="1676.4" y="2396.8" width="81.2" height="166.5" fill="#fff" stroke="#000" stroke-width="5" />
<rect x="1806.9" y="2448.1" width="81.5" height="115.2" fill="#fff" stroke="#000" stroke-width="5" />
<rect x="1937.7" y="2403.3" width="81.7" height="160" fill="#fff" stroke="#000" stroke-width="5" />
<line x1="1586.8" y1="2371.3" x2="1586.8" y2="2417.3" stroke="#000" stroke-width="4.1" /><line x1="1565.2" y1="2371.3" x2="1608.4" y2="2371.3" stroke="#000" stroke-width="4.1" /><line x1="1565.2" y1="2417.3" x2="1608.4" y2="2417.3" stroke="#000" stroke-width="4.1" />
<line x1="1716.6" y1="2370.6" x2="1716.6" y2="2419.2" stroke="#000" stroke-width="4.1" /><line x1="1695" y1="2370.6" x2="1738.2" y2="2370.6" stroke="#000" stroke-width="4.1" /><line x1="1695" y1="2419.2" x2="1738.2" y2="2419.2" stroke="#000" stroke-width="4.1" />
<line x1="1847.5" y1="2431.8" x2="1847.5" y2="2459.7" stroke="#000" stroke-width="4.1" /><line x1="1825.9" y1="2431.8" x2="1869.1" y2="2431.8" stroke="#000" stroke-width="4.1" /><line x1="1825.9" y1="2459.7" x2="1869.1" y2="2459.7" stroke="#000" stroke-width="4.1" />
<line x1="1978.3" y1="2381.7" x2="1978.3" y2="2420.2" stroke="#000" stroke-width="4.1" /><line x1="1956.7" y1="2381.7" x2="1999.9" y2="2381.7" stroke="#000" stroke-width="4.1" /><line x1="1956.7" y1="2420.2" x2="1999.9" y2="2420.2" stroke="#000" stroke-width="4.1" />
<circle cx="1557.9" cy="2371.3" r="7" fill="#000"/>
<circle cx="1586.5" cy="2374.9" r="7" fill="#000"/>
<circle cx="1586.5" cy="2387.7" r="7" fill="#000"/>
<circle cx="1557.9" cy="2421.6" r="7" fill="#000"/>
<circle cx="1613.6" cy="2415.4" r="7" fill="#000"/>
<rect x="1681.9" y="2366" width="14" height="14" fill="#000" />
<rect x="1709.8" y="2361.4" width="14" height="14" fill="#000" />
<rect x="1709.8" y="2387.3" width="14" height="14" fill="#000" />
<rect x="1681.9" y="2413.3" width="14" height="14" fill="#000" />
<rect x="1737.6" y="2409.1" width="14" height="14" fill="#000" />
<path d="M1840 2431.1L1855 2431.1L1847.5 2417.1Z" fill="#000"/>
<path d="M1868.4 2446.8L1883.4 2446.8L1875.9 2432.8Z" fill="#000"/>
<path d="M1840 2457.7L1855 2457.7L1847.5 2443.7Z" fill="#000"/>
<path d="M1868.4 2460.1L1883.4 2460.1L1875.9 2446.1Z" fill="#000"/>
<path d="M1812.2 2467.9L1827.2 2467.9L1819.7 2453.9Z" fill="#000"/>
<path d="M1970.8 2366L1985.8 2366L1978.3 2380Z" fill="#000"/>
<path d="M1943.4 2390.7L1958.4 2390.7L1950.9 2404.7Z" fill="#000"/>
<path d="M1998.6 2390.7L2013.6 2390.7L2006.1 2404.7Z" fill="#000"/>
<path d="M1998.6 2405.9L2013.6 2405.9L2006.1 2419.9Z" fill="#000"/>
<path d="M1943.4 2416.8L1958.4 2416.8L1950.9 2430.8Z" fill="#000"/>
<line x1="1521.1" y1="2267.8" x2="1521.1" y2="2565.3" stroke="#000" stroke-width="3.7" />
<line x1="1519.3" y1="2563.3" x2="2046.1" y2="2563.3" stroke="#000" stroke-width="4" />
<line x1="1510.5" y1="2269.6" x2="1521.1" y2="2269.6" stroke="#000" stroke-width="3.6" />
<text x="1462.35" y="2276.9" font-size="21.80" font-weight="bold" textLength="45.95" lengthAdjust="spacingAndGlyphs" >150</text>
<line x1="1510.5" y1="2367.7" x2="1521.1" y2="2367.7" stroke="#000" stroke-width="3.6" />
<text x="1462.35" y="2375" font-size="21.80" font-weight="bold" textLength="45.95" lengthAdjust="spacingAndGlyphs" >100</text>
<line x1="1510.5" y1="2465.7" x2="1521.1" y2="2465.7" stroke="#000" stroke-width="3.6" />
<text x="1477.67" y="2473" font-size="21.80" font-weight="bold" textLength="30.59" lengthAdjust="spacingAndGlyphs" >50</text>
<line x1="1510.5" y1="2563.3" x2="1521.1" y2="2563.3" stroke="#000" stroke-width="3.6" />
<text x="1492.04" y="2570.6" font-size="21.80" font-weight="bold" textLength="16.16" lengthAdjust="spacingAndGlyphs" >0</text>
<line x1="1585.8" y1="2563.3" x2="1585.8" y2="2572.5" stroke="#000" stroke-width="3.6" />
<line x1="1716.5" y1="2563.3" x2="1716.5" y2="2572.5" stroke="#000" stroke-width="3.6" />
<line x1="1847.5" y1="2563.3" x2="1847.5" y2="2572.5" stroke="#000" stroke-width="3.6" />
<line x1="1978.3" y1="2563.3" x2="1978.3" y2="2572.5" stroke="#000" stroke-width="3.6" />
<text transform="translate(1594.8 2594.3) scale(1.200 1) rotate(-45)" font-size="21.80" font-weight="bold" text-anchor="end" >Control</text>
<text transform="translate(1725.5 2594.3) scale(1.200 1) rotate(-45)" font-size="21.80" font-weight="bold" text-anchor="end" >gCTRP3</text>
<text transform="translate(1856.5 2594.3) scale(1.200 1) rotate(-45)" font-size="21.80" font-weight="bold" text-anchor="end" >HGHL</text>
<text transform="translate(1987.3 2594.3) scale(1.200 1) rotate(-45)" font-size="21.80" font-weight="bold" text-anchor="end" >HGHL+gCTRP3</text>
<text transform="translate(1404.9 2565) rotate(-90)" font-size="34.25" font-weight="bold" textLength="303.52" lengthAdjust="spacingAndGlyphs" x="-1.82" >Fluorescence intensity</text>
<text transform="translate(1446.1 2492.3) rotate(-90)" font-size="35.29" font-weight="bold" textLength="153.11" lengthAdjust="spacingAndGlyphs" x="-1.12" >of Claudin5</text>
<text x="1658.65" y="2733.6" font-size="25.95" textLength="217.15" lengthAdjust="spacingAndGlyphs" >gCTRP3(3µg/ml)</text>
<line x1="1605.6" y1="2269.6" x2="1865" y2="2269.6" stroke="#000" stroke-width="3.6" /><line x1="1605.6" y1="2256.3" x2="1605.6" y2="2282.4" stroke="#000" stroke-width="4" /><line x1="1865" y1="2256.3" x2="1865" y2="2282.4" stroke="#000" stroke-width="4" />
<line x1="1854.8" y1="2231.3" x2="1983.6" y2="2231.3" stroke="#000" stroke-width="3.6" /><line x1="1854.8" y1="2218.3" x2="1854.8" y2="2244.6" stroke="#000" stroke-width="4" /><line x1="1983.6" y1="2218.3" x2="1983.6" y2="2244.6" stroke="#000" stroke-width="4" />
<text x="1730.15" y="2253.93" font-size="27.14" textLength="23.14" lengthAdjust="spacingAndGlyphs">**</text>
<text x="1918.84" y="2220.24" font-size="26.00" textLength="11.89" lengthAdjust="spacingAndGlyphs">*</text>
<text x="1349.43" y="795.00" font-size="66.67" textLength="43.09" lengthAdjust="spacingAndGlyphs">D</text>
<text x="31.33" y="1469.20" font-size="66.81" textLength="31.45" lengthAdjust="spacingAndGlyphs">E</text>
<text x="1319.51" y="1468.84" font-size="65.77" textLength="44.89" lengthAdjust="spacingAndGlyphs">G</text>
<text x="1336.70" y="2127.10" font-size="67.39" textLength="43.33" lengthAdjust="spacingAndGlyphs">H</text>
<defs><filter id="fb1" x="-30%" y="-30%" width="160%" height="160%"><feGaussianBlur stdDeviation="1.8"/></filter><filter id="fb2" x="-30%" y="-30%" width="160%" height="160%"><feGaussianBlur stdDeviation="5"/></filter><filter id="fb3" x="-30%" y="-30%" width="160%" height="160%"><feGaussianBlur stdDeviation="9"/></filter><filter id="fb4" x="-10%" y="-10%" width="120%" height="120%"><feGaussianBlur stdDeviation="0.8"/></filter></defs>
<clipPath id="cf0"><rect x="64.6" y="2167.7" width="310" height="233.1"/></clipPath>
<g clip-path="url(#cf0)">
<rect x="64.6" y="2167.7" width="310" height="233.1" fill="#6c0000" />
<g filter="url(#fb3)">
<ellipse cx="95.6" cy="2321.5" rx="34.1" ry="30.3" fill="#ff1030" opacity="0.95"/>
<ellipse cx="182.4" cy="2312.2" rx="18.6" ry="18.6" fill="#f01010" opacity="0.6"/>
<ellipse cx="256.8" cy="2237.6" rx="37.2" ry="32.6" fill="#d80a0a" opacity="0.5"/>
<ellipse cx="142.1" cy="2382.2" rx="37.2" ry="18.6" fill="#d00808" opacity="0.5"/>
<ellipse cx="297.1" cy="2354.2" rx="31" ry="23.3" fill="#c80808" opacity="0.5"/>
<ellipse cx="111.1" cy="2260.9" rx="31" ry="23.3" fill="#d00808" opacity="0.5"/>
</g>
<g filter="url(#fb2)" fill="#cc0808" opacity="0.46">
<ellipse cx="189.8" cy="2177.4" rx="30.8" ry="13" transform="rotate(-2 189.8 2177.4)"/>
<ellipse cx="269.2" cy="2174.7" rx="30.8" ry="13" transform="rotate(-13 269.2 2174.7)"/>
<ellipse cx="348.6" cy="2180.1" rx="30.8" ry="13" transform="rotate(17 348.6 2180.1)"/>
<ellipse cx="359.1" cy="2177.4" rx="30.8" ry="13" transform="rotate(35 359.1 2177.4)"/>
<ellipse cx="69.6" cy="2195.7" rx="30.8" ry="13" transform="rotate(14 69.6 2195.7)"/>
<ellipse cx="337" cy="2214.3" rx="30.8" ry="13" transform="rotate(18 337 2214.3)"/>
<ellipse cx="147.1" cy="2229.9" rx="30.8" ry="13" transform="rotate(-14 147.1 2229.9)"/>
<ellipse cx="200.2" cy="2246.2" rx="30.8" ry="13" transform="rotate(19 200.2 2246.2)"/>
<ellipse cx="264.2" cy="2253.2" rx="30.8" ry="13" transform="rotate(50 264.2 2253.2)"/>
<ellipse cx="324.6" cy="2246.2" rx="30.8" ry="13" transform="rotate(44 324.6 2246.2)"/>
<ellipse cx="97.5" cy="2257.8" rx="30.8" ry="13" transform="rotate(36 97.5 2257.8)"/>
<ellipse cx="183.2" cy="2271.8" rx="30.8" ry="13" transform="rotate(-7 183.2 2271.8)"/>
<ellipse cx="356.4" cy="2299.8" rx="30.8" ry="13" transform="rotate(47 356.4 2299.8)"/>
<ellipse cx="145.2" cy="2305.6" rx="30.8" ry="13" transform="rotate(45 145.2 2305.6)"/>
<ellipse cx="185.9" cy="2314.6" rx="30.8" ry="13" transform="rotate(-3 185.9 2314.6)"/>
<ellipse cx="252.9" cy="2307.6" rx="30.8" ry="13" transform="rotate(29 252.9 2307.6)"/>
<ellipse cx="97.5" cy="2321.2" rx="36.9" ry="15.6" transform="rotate(-13 97.5 2321.2)"/>
<ellipse cx="191.7" cy="2337.5" rx="30.8" ry="13" transform="rotate(-6 191.7 2337.5)"/>
<ellipse cx="297.1" cy="2334.8" rx="30.8" ry="13" transform="rotate(7 297.1 2334.8)"/>
<ellipse cx="294.4" cy="2363.9" rx="30.8" ry="13" transform="rotate(-3 294.4 2363.9)"/>
<ellipse cx="141.3" cy="2374.4" rx="30.8" ry="13" transform="rotate(38 141.3 2374.4)"/>
<ellipse cx="156" cy="2383.3" rx="30.8" ry="13" transform="rotate(42 156 2383.3)"/>
<ellipse cx="242.1" cy="2396.1" rx="30.8" ry="13" transform="rotate(9 242.1 2396.1)"/>
</g>
<g filter="url(#fb3)">
<ellipse cx="80.1" cy="2174.7" rx="44.6" ry="25.2" fill="#050000" opacity="0.65"/>
<ellipse cx="132.8" cy="2205" rx="55.8" ry="12.6" fill="#050000" opacity="0.50"/>
<ellipse cx="73.9" cy="2384.5" rx="39.1" ry="29.4" fill="#050000" opacity="0.65"/>
<ellipse cx="352.9" cy="2389.1" rx="55.8" ry="25.2" fill="#050000" opacity="0.61"/>
<ellipse cx="235.1" cy="2312.2" rx="33.5" ry="21" fill="#050000" opacity="0.32"/>
<ellipse cx="328.1" cy="2284.2" rx="27.9" ry="29.4" fill="#050000" opacity="0.36"/>
<ellipse cx="194.8" cy="2191" rx="39.1" ry="12.6" fill="#050000" opacity="0.36"/>
<ellipse cx="157.6" cy="2342.5" rx="33.5" ry="14.7" fill="#050000" opacity="0.36"/>
<ellipse cx="365.3" cy="2191" rx="16.7" ry="52.4" fill="#050000" opacity="0.43"/>
</g>
<g filter="url(#fb1)">
<ellipse cx="189.8" cy="2177.4" rx="12.4" ry="9.4" fill="#8412ff" transform="rotate(1 189.8 2177.4)"/>
<ellipse cx="269.2" cy="2174.7" rx="12.4" ry="9.4" fill="#8412ff" transform="rotate(-18 269.2 2174.7)"/>
<ellipse cx="348.6" cy="2180.1" rx="12.4" ry="9.4" fill="#4a14ff" transform="rotate(-21 348.6 2180.1)"/>
<ellipse cx="359.1" cy="2177.4" rx="12.4" ry="9.4" fill="#4a14ff" transform="rotate(41 359.1 2177.4)"/>
<ellipse cx="69.6" cy="2195.7" rx="12.4" ry="9.4" fill="#8412ff" transform="rotate(29 69.6 2195.7)"/>
<ellipse cx="337" cy="2214.3" rx="12.4" ry="9.4" fill="#8412ff" transform="rotate(-24 337 2214.3)"/>
<ellipse cx="147.1" cy="2229.9" rx="12.4" ry="9.4" fill="#8412ff" transform="rotate(17 147.1 2229.9)"/>
<ellipse cx="200.2" cy="2246.2" rx="12.4" ry="9.4" fill="#8412ff" transform="rotate(10 200.2 2246.2)"/>
<ellipse cx="264.2" cy="2253.2" rx="12.4" ry="9.4" fill="#8412ff" transform="rotate(54 264.2 2253.2)"/>
<ellipse cx="324.6" cy="2246.2" rx="12.4" ry="9.4" fill="#4a14ff" transform="rotate(41 324.6 2246.2)"/>
<ellipse cx="97.5" cy="2257.8" rx="12.4" ry="9.4" fill="#8412ff" transform="rotate(30 97.5 2257.8)"/>
<ellipse cx="183.2" cy="2271.8" rx="12.4" ry="9.4" fill="#8412ff" transform="rotate(25 183.2 2271.8)"/>
<ellipse cx="356.4" cy="2299.8" rx="12.4" ry="9.4" fill="#8412ff" transform="rotate(64 356.4 2299.8)"/>
<ellipse cx="145.2" cy="2305.6" rx="12.4" ry="9.4" fill="#8412ff" transform="rotate(68 145.2 2305.6)"/>
<ellipse cx="185.9" cy="2314.6" rx="12.4" ry="9.4" fill="#4a14ff" transform="rotate(3 185.9 2314.6)"/>
<ellipse cx="252.9" cy="2307.6" rx="12.4" ry="9.4" fill="#8412ff" transform="rotate(-6 252.9 2307.6)"/>
<ellipse cx="97.5" cy="2321.2" rx="12.5" ry="14" fill="#ff18f0" transform="rotate(49 97.5 2321.2)"/>
<ellipse cx="191.7" cy="2337.5" rx="12.4" ry="9.4" fill="#4a14ff" transform="rotate(-23 191.7 2337.5)"/>
<ellipse cx="297.1" cy="2334.8" rx="12.4" ry="9.4" fill="#8412ff" transform="rotate(6 297.1 2334.8)"/>
<ellipse cx="294.4" cy="2363.9" rx="12.4" ry="9.4" fill="#8412ff" transform="rotate(-22 294.4 2363.9)"/>
<ellipse cx="141.3" cy="2374.4" rx="12.4" ry="9.4" fill="#8412ff" transform="rotate(1 141.3 2374.4)"/>
<ellipse cx="156" cy="2383.3" rx="12.4" ry="9.4" fill="#8412ff" transform="rotate(-22 156 2383.3)"/>
<ellipse cx="242.1" cy="2396.1" rx="12.4" ry="9.4" fill="#8412ff" transform="rotate(0 242.1 2396.1)"/>
</g>
</g>
<clipPath id="cf1"><rect x="389.3" y="2167.7" width="309.1" height="233.1"/></clipPath>
<g clip-path="url(#cf1)">
<rect x="389.3" y="2167.7" width="309.1" height="233.1" fill="#660000" />
<g filter="url(#fb3)">
<ellipse cx="599.5" cy="2272.6" rx="21.6" ry="46.6" fill="#e00a0a" opacity="0.65"/>
<ellipse cx="482" cy="2307.6" rx="30.9" ry="23.3" fill="#e80c0c" opacity="0.6"/>
<ellipse cx="451.1" cy="2219" rx="18.5" ry="32.6" fill="#e00a0a" opacity="0.6"/>
<ellipse cx="519.1" cy="2251.6" rx="30.9" ry="23.3" fill="#d80808" opacity="0.5"/>
<ellipse cx="472.8" cy="2398.5" rx="18.5" ry="11.7" fill="#ff2020" opacity="0.9"/>
<ellipse cx="522.2" cy="2393.8" rx="12.4" ry="14" fill="#ff2020" opacity="0.8"/>
<ellipse cx="621.1" cy="2396.1" rx="24.7" ry="9.3" fill="#f01010" opacity="0.7"/>
<ellipse cx="404.8" cy="2272.6" rx="24.7" ry="23.3" fill="#d00808" opacity="0.5"/>
</g>
<g filter="url(#fb2)" fill="#cc0808" opacity="0.46">
<ellipse cx="557.8" cy="2187.1" rx="32.5" ry="13.7" transform="rotate(-9 557.8 2187.1)"/>
<ellipse cx="608.1" cy="2174.7" rx="32.5" ry="13.7" transform="rotate(-1 608.1 2174.7)"/>
<ellipse cx="666.3" cy="2206.5" rx="32.5" ry="13.7" transform="rotate(-9 666.3 2206.5)"/>
<ellipse cx="455.9" cy="2217.4" rx="32.5" ry="13.7" transform="rotate(-25 455.9 2217.4)"/>
<ellipse cx="393.2" cy="2218.2" rx="32.5" ry="13.7" transform="rotate(-21 393.2 2218.2)"/>
<ellipse cx="562.8" cy="2243.5" rx="32.5" ry="13.7" transform="rotate(-39 562.8 2243.5)"/>
<ellipse cx="517.1" cy="2247.3" rx="32.5" ry="13.7" transform="rotate(-53 517.1 2247.3)"/>
<ellipse cx="599.2" cy="2260.9" rx="32.5" ry="13.7" transform="rotate(-34 599.2 2260.9)"/>
<ellipse cx="669.3" cy="2270.7" rx="32.5" ry="13.7" transform="rotate(-13 669.3 2270.7)"/>
<ellipse cx="685.6" cy="2275.7" rx="32.5" ry="13.7" transform="rotate(-60 685.6 2275.7)"/>
<ellipse cx="400.1" cy="2274.5" rx="32.5" ry="13.7" transform="rotate(-63 400.1 2274.5)"/>
<ellipse cx="644.2" cy="2295.9" rx="32.5" ry="13.7" transform="rotate(-11 644.2 2295.9)"/>
<ellipse cx="481.1" cy="2302.9" rx="32.5" ry="13.7" transform="rotate(-44 481.1 2302.9)"/>
<ellipse cx="535.7" cy="2299.8" rx="32.5" ry="13.7" transform="rotate(-15 535.7 2299.8)"/>
<ellipse cx="438.9" cy="2319.2" rx="32.5" ry="13.7" transform="rotate(-13 438.9 2319.2)"/>
<ellipse cx="416.4" cy="2343.7" rx="32.5" ry="13.7" transform="rotate(0 416.4 2343.7)"/>
<ellipse cx="572.1" cy="2342.5" rx="32.5" ry="13.7" transform="rotate(-36 572.1 2342.5)"/>
<ellipse cx="666.3" cy="2346.4" rx="32.5" ry="13.7" transform="rotate(-39 666.3 2346.4)"/>
<ellipse cx="695.3" cy="2354.2" rx="32.5" ry="13.7" transform="rotate(-8 695.3 2354.2)"/>
<ellipse cx="524.1" cy="2362.7" rx="32.5" ry="13.7" transform="rotate(-11 524.1 2362.7)"/>
<ellipse cx="592.7" cy="2366.6" rx="32.5" ry="13.7" transform="rotate(-19 592.7 2366.6)"/>
<ellipse cx="559.7" cy="2377.5" rx="32.5" ry="13.7" transform="rotate(-8 559.7 2377.5)"/>
<ellipse cx="650.8" cy="2379.4" rx="32.5" ry="13.7" transform="rotate(-20 650.8 2379.4)"/>
<ellipse cx="472.6" cy="2396.9" rx="32.5" ry="13.7" transform="rotate(2 472.6 2396.9)"/>
<ellipse cx="522.9" cy="2393" rx="32.5" ry="13.7" transform="rotate(-41 522.9 2393)"/>
</g>
<g filter="url(#fb3)">
<ellipse cx="398.6" cy="2179.4" rx="33.4" ry="25.2" fill="#050000" opacity="0.65"/>
<ellipse cx="574.8" cy="2342.5" rx="33.4" ry="29.4" fill="#050000" opacity="0.40"/>
<ellipse cx="692.2" cy="2354.2" rx="22.3" ry="42" fill="#050000" opacity="0.50"/>
<ellipse cx="636.6" cy="2249.3" rx="13.9" ry="25.2" fill="#050000" opacity="0.43"/>
<ellipse cx="466.6" cy="2191" rx="27.8" ry="25.2" fill="#050000" opacity="0.36"/>
<ellipse cx="420.2" cy="2377.5" rx="33.4" ry="21" fill="#050000" opacity="0.43"/>
<ellipse cx="676.8" cy="2284.2" rx="22.3" ry="21" fill="#050000" opacity="0.36"/>
<ellipse cx="528.4" cy="2384.5" rx="22.3" ry="16.8" fill="#050000" opacity="0.36"/>
</g>
<g filter="url(#fb1)">
<ellipse cx="557.8" cy="2187.1" rx="12.4" ry="9.4" fill="#8412ff" transform="rotate(-6 557.8 2187.1)"/>
<ellipse cx="608.1" cy="2174.7" rx="12.4" ry="9.4" fill="#8412ff" transform="rotate(14 608.1 2174.7)"/>
<ellipse cx="666.3" cy="2206.5" rx="12.4" ry="9.4" fill="#8412ff" transform="rotate(-46 666.3 2206.5)"/>
<ellipse cx="455.9" cy="2217.4" rx="12.4" ry="9.4" fill="#8412ff" transform="rotate(-18 455.9 2217.4)"/>
<ellipse cx="393.2" cy="2218.2" rx="12.4" ry="9.4" fill="#8412ff" transform="rotate(-43 393.2 2218.2)"/>
<ellipse cx="562.8" cy="2243.5" rx="12.4" ry="9.4" fill="#8412ff" transform="rotate(-33 562.8 2243.5)"/>
<ellipse cx="517.1" cy="2247.3" rx="12.4" ry="9.4" fill="#8412ff" transform="rotate(-72 517.1 2247.3)"/>
<ellipse cx="599.2" cy="2260.9" rx="12.4" ry="9.4" fill="#8412ff" transform="rotate(-78 599.2 2260.9)"/>
<ellipse cx="669.3" cy="2270.7" rx="12.4" ry="9.4" fill="#8412ff" transform="rotate(-4 669.3 2270.7)"/>
<ellipse cx="685.6" cy="2275.7" rx="12.4" ry="9.4" fill="#8412ff" transform="rotate(-34 685.6 2275.7)"/>
<ellipse cx="400.1" cy="2274.5" rx="12.4" ry="9.4" fill="#8412ff" transform="rotate(-17 400.1 2274.5)"/>
<ellipse cx="644.2" cy="2295.9" rx="12.4" ry="9.4" fill="#8412ff" transform="rotate(-6 644.2 2295.9)"/>
<ellipse cx="481.1" cy="2302.9" rx="12.4" ry="9.4" fill="#8412ff" transform="rotate(-38 481.1 2302.9)"/>
<ellipse cx="535.7" cy="2299.8" rx="12.4" ry="9.4" fill="#8412ff" transform="rotate(-43 535.7 2299.8)"/>
<ellipse cx="438.9" cy="2319.2" rx="12.4" ry="9.4" fill="#8412ff" transform="rotate(-63 438.9 2319.2)"/>
<ellipse cx="416.4" cy="2343.7" rx="12.4" ry="9.4" fill="#8412ff" transform="rotate(0 416.4 2343.7)"/>
<ellipse cx="572.1" cy="2342.5" rx="12.4" ry="9.4" fill="#8412ff" transform="rotate(3 572.1 2342.5)"/>
<ellipse cx="666.3" cy="2346.4" rx="12.4" ry="9.4" fill="#4a14ff" transform="rotate(-6 666.3 2346.4)"/>
<ellipse cx="695.3" cy="2354.2" rx="12.4" ry="9.4" fill="#8412ff" transform="rotate(7 695.3 2354.2)"/>
<ellipse cx="524.1" cy="2362.7" rx="12.4" ry="9.4" fill="#4a14ff" transform="rotate(-15 524.1 2362.7)"/>
<ellipse cx="592.7" cy="2366.6" rx="12.4" ry="9.4" fill="#8412ff" transform="rotate(-10 592.7 2366.6)"/>
<ellipse cx="559.7" cy="2377.5" rx="12.4" ry="9.4" fill="#4a14ff" transform="rotate(-60 559.7 2377.5)"/>
<ellipse cx="650.8" cy="2379.4" rx="12.4" ry="9.4" fill="#8412ff" transform="rotate(-3 650.8 2379.4)"/>
<ellipse cx="472.6" cy="2396.9" rx="12.2" ry="9.9" fill="#ff1cf6" transform="rotate(-46 472.6 2396.9)"/>
<ellipse cx="522.9" cy="2393" rx="12.4" ry="9.4" fill="#8412ff" transform="rotate(-36 522.9 2393)"/>
</g>
</g>
<clipPath id="cf2"><rect x="713.9" y="2167.7" width="309.9" height="233.1"/></clipPath>
<g clip-path="url(#cf2)">
<rect x="713.9" y="2167.7" width="309.9" height="233.1" fill="#4a0000" />
<g filter="url(#fb3)">
<ellipse cx="868.8" cy="2326.2" rx="43.4" ry="23.3" fill="#a80808" opacity="0.6"/>
<ellipse cx="937" cy="2256.3" rx="43.4" ry="28" fill="#9c0606" opacity="0.55"/>
<ellipse cx="868.8" cy="2244.6" rx="18.6" ry="37.3" fill="#b00a0a" opacity="0.5"/>
<ellipse cx="744.9" cy="2272.6" rx="31" ry="32.6" fill="#900606" opacity="0.5"/>
<ellipse cx="822.4" cy="2300.6" rx="31" ry="14" fill="#a00808" opacity="0.5"/>
<ellipse cx="977.3" cy="2372.8" rx="18.6" ry="23.3" fill="#a00808" opacity="0.5"/>
<ellipse cx="760.4" cy="2365.8" rx="46.5" ry="18.6" fill="#8c0606" opacity="0.5"/>
</g>
<g filter="url(#fb2)" fill="#9a0808" opacity="0.35">
<ellipse cx="721.6" cy="2193" rx="34.2" ry="14.4" transform="rotate(22 721.6 2193)"/>
<ellipse cx="791.4" cy="2191" rx="34.2" ry="14.4" transform="rotate(39 791.4 2191)"/>
<ellipse cx="851.4" cy="2194.1" rx="34.2" ry="14.4" transform="rotate(46 851.4 2194.1)"/>
<ellipse cx="761.2" cy="2214.3" rx="34.2" ry="14.4" transform="rotate(40 761.2 2214.3)"/>
<ellipse cx="820.4" cy="2231" rx="34.2" ry="14.4" transform="rotate(22 820.4 2231)"/>
<ellipse cx="864.2" cy="2235.7" rx="34.2" ry="14.4" transform="rotate(15 864.2 2235.7)"/>
<ellipse cx="962.6" cy="2233.7" rx="34.2" ry="14.4" transform="rotate(59 962.6 2233.7)"/>
<ellipse cx="734" cy="2248.5" rx="34.2" ry="14.4" transform="rotate(21 734 2248.5)"/>
<ellipse cx="854.5" cy="2254.3" rx="34.2" ry="14.4" transform="rotate(30 854.5 2254.3)"/>
<ellipse cx="767" cy="2267.5" rx="34.2" ry="14.4" transform="rotate(6 767 2267.5)"/>
<ellipse cx="953.3" cy="2282.3" rx="34.2" ry="14.4" transform="rotate(21 953.3 2282.3)"/>
<ellipse cx="925" cy="2294" rx="34.2" ry="14.4" transform="rotate(5 925 2294)"/>
<ellipse cx="735.2" cy="2299" rx="34.2" ry="14.4" transform="rotate(24 735.2 2299)"/>
<ellipse cx="834" cy="2300.6" rx="34.2" ry="14.4" transform="rotate(49 834 2300.6)"/>
<ellipse cx="881.6" cy="2339.4" rx="34.2" ry="14.4" transform="rotate(68 881.6 2339.4)"/>
<ellipse cx="834" cy="2358.8" rx="34.2" ry="14.4" transform="rotate(43 834 2358.8)"/>
<ellipse cx="963.8" cy="2384.5" rx="34.2" ry="14.4" transform="rotate(18 963.8 2384.5)"/>
<ellipse cx="715.8" cy="2362" rx="34.2" ry="14.4" transform="rotate(45 715.8 2362)"/>
<ellipse cx="1016.1" cy="2174.7" rx="34.2" ry="14.4" transform="rotate(43 1016.1 2174.7)"/>
<ellipse cx="985.1" cy="2169.6" rx="34.2" ry="14.4" transform="rotate(57 985.1 2169.6)"/>
</g>
<g filter="url(#fb3)">
<ellipse cx="884.3" cy="2186.3" rx="55.8" ry="21" fill="#050000" opacity="0.36"/>
<ellipse cx="791.4" cy="2265.6" rx="27.9" ry="25.2" fill="#050000" opacity="0.36"/>
<ellipse cx="930.8" cy="2330.9" rx="33.5" ry="29.4" fill="#050000" opacity="0.29"/>
<ellipse cx="729.4" cy="2312.2" rx="22.3" ry="21" fill="#050000" opacity="0.29"/>
<ellipse cx="853.4" cy="2389.1" rx="83.7" ry="16.8" fill="#050000" opacity="0.29"/>
</g>
<g filter="url(#fb1)">
<ellipse cx="721.6" cy="2193" rx="12.4" ry="9.4" fill="#4a14ff" transform="rotate(38 721.6 2193)"/>
<ellipse cx="791.4" cy="2191" rx="12.4" ry="9.4" fill="#8412ff" transform="rotate(76 791.4 2191)"/>
<ellipse cx="851.4" cy="2194.1" rx="12.4" ry="9.4" fill="#4a14ff" transform="rotate(26 851.4 2194.1)"/>
<ellipse cx="761.2" cy="2214.3" rx="12.4" ry="9.4" fill="#8412ff" transform="rotate(13 761.2 2214.3)"/>
<ellipse cx="820.4" cy="2231" rx="12.4" ry="9.4" fill="#4a14ff" transform="rotate(36 820.4 2231)"/>
<ellipse cx="864.2" cy="2235.7" rx="12.4" ry="9.4" fill="#4a14ff" transform="rotate(77 864.2 2235.7)"/>
<ellipse cx="962.6" cy="2233.7" rx="12.4" ry="9.4" fill="#4a14ff" transform="rotate(57 962.6 2233.7)"/>
<ellipse cx="734" cy="2248.5" rx="12.4" ry="9.4" fill="#4a14ff" transform="rotate(34 734 2248.5)"/>
<ellipse cx="854.5" cy="2254.3" rx="12.4" ry="9.4" fill="#4a14ff" transform="rotate(34 854.5 2254.3)"/>
<ellipse cx="767" cy="2267.5" rx="12.4" ry="9.4" fill="#4a14ff" transform="rotate(49 767 2267.5)"/>
<ellipse cx="953.3" cy="2282.3" rx="12.4" ry="9.4" fill="#4a14ff" transform="rotate(29 953.3 2282.3)"/>
<ellipse cx="925" cy="2294" rx="12.4" ry="9.4" fill="#4a14ff" transform="rotate(40 925 2294)"/>
<ellipse cx="735.2" cy="2299" rx="12.4" ry="9.4" fill="#4a14ff" transform="rotate(82 735.2 2299)"/>
<ellipse cx="834" cy="2300.6" rx="12.4" ry="9.4" fill="#4a14ff" transform="rotate(78 834 2300.6)"/>
<ellipse cx="881.6" cy="2339.4" rx="12.4" ry="9.4" fill="#4a14ff" transform="rotate(69 881.6 2339.4)"/>
<ellipse cx="834" cy="2358.8" rx="12.4" ry="9.4" fill="#4a14ff" transform="rotate(-2 834 2358.8)"/>
<ellipse cx="963.8" cy="2384.5" rx="12.4" ry="9.4" fill="#4a14ff" transform="rotate(40 963.8 2384.5)"/>
<ellipse cx="715.8" cy="2362" rx="12.4" ry="9.4" fill="#4a14ff" transform="rotate(21 715.8 2362)"/>
<ellipse cx="1016.1" cy="2174.7" rx="12.4" ry="9.4" fill="#4a14ff" transform="rotate(76 1016.1 2174.7)"/>
<ellipse cx="985.1" cy="2169.6" rx="12.4" ry="9.4" fill="#4a14ff" transform="rotate(16 985.1 2169.6)"/>
</g>
</g>
<clipPath id="cf3"><rect x="1036.6" y="2167.7" width="309.6" height="233.1"/></clipPath>
<g clip-path="url(#cf3)">
<rect x="1036.6" y="2167.7" width="309.6" height="233.1" fill="#2c0000" />
<g filter="url(#fb3)">
<ellipse cx="1191.4" cy="2195.7" rx="61.9" ry="23.3" fill="#e01010" opacity="0.75"/>
<ellipse cx="1206.9" cy="2249.3" rx="43.3" ry="18.6" fill="#d80c0c" opacity="0.7"/>
<ellipse cx="1166.6" cy="2295.9" rx="49.5" ry="16.3" fill="#c80a0a" opacity="0.65"/>
<ellipse cx="1061.4" cy="2226" rx="21.7" ry="32.6" fill="#d00c0c" opacity="0.7"/>
<ellipse cx="1315.2" cy="2219" rx="31" ry="16.3" fill="#c80a0a" opacity="0.65"/>
<ellipse cx="1114" cy="2365.8" rx="31" ry="16.3" fill="#b80808" opacity="0.6"/>
<ellipse cx="1268.8" cy="2354.2" rx="31" ry="23.3" fill="#a80808" opacity="0.55"/>
<ellipse cx="1330.7" cy="2307.6" rx="18.6" ry="28" fill="#c00a0a" opacity="0.6"/>
<ellipse cx="1052.1" cy="2177" rx="18.6" ry="11.7" fill="#d81010" opacity="0.7"/>
<ellipse cx="1129.5" cy="2179.4" rx="31" ry="11.7" fill="#c80a0a" opacity="0.6"/>
</g>
<g filter="url(#fb2)" fill="#c00c0c" opacity="0.45">
<ellipse cx="1145.1" cy="2181.3" rx="30.8" ry="13" transform="rotate(5 1145.1 2181.3)"/>
<ellipse cx="1222" cy="2177.4" rx="30.8" ry="13" transform="rotate(-43 1222 2177.4)"/>
<ellipse cx="1339.3" cy="2173.5" rx="30.8" ry="13" transform="rotate(-30 1339.3 2173.5)"/>
<ellipse cx="1075.8" cy="2229.1" rx="30.8" ry="13" transform="rotate(7 1075.8 2229.1)"/>
<ellipse cx="1093.1" cy="2216.3" rx="30.8" ry="13" transform="rotate(-18 1093.1 2216.3)"/>
<ellipse cx="1190.1" cy="2231.8" rx="30.8" ry="13" transform="rotate(5 1190.1 2231.8)"/>
<ellipse cx="1317.4" cy="2221.3" rx="30.8" ry="13" transform="rotate(-22 1317.4 2221.3)"/>
<ellipse cx="1204.7" cy="2246.2" rx="30.8" ry="13" transform="rotate(-44 1204.7 2246.2)"/>
<ellipse cx="1106.6" cy="2260.2" rx="30.8" ry="13" transform="rotate(-10 1106.6 2260.2)"/>
<ellipse cx="1298.9" cy="2253.9" rx="30.8" ry="13" transform="rotate(-23 1298.9 2253.9)"/>
<ellipse cx="1173.1" cy="2294" rx="30.8" ry="13" transform="rotate(-24 1173.1 2294)"/>
<ellipse cx="1331.6" cy="2301.7" rx="30.8" ry="13" transform="rotate(-50 1331.6 2301.7)"/>
<ellipse cx="1280.8" cy="2308.3" rx="30.8" ry="13" transform="rotate(-49 1280.8 2308.3)"/>
<ellipse cx="1291.2" cy="2319.2" rx="30.8" ry="13" transform="rotate(5 1291.2 2319.2)"/>
<ellipse cx="1039.3" cy="2305.6" rx="30.8" ry="13" transform="rotate(6 1039.3 2305.6)"/>
<ellipse cx="1204.7" cy="2317.3" rx="30.8" ry="13" transform="rotate(7 1204.7 2317.3)"/>
<ellipse cx="1057.8" cy="2345.6" rx="30.8" ry="13" transform="rotate(-34 1057.8 2345.6)"/>
<ellipse cx="1250.8" cy="2352.2" rx="30.8" ry="13" transform="rotate(-56 1250.8 2352.2)"/>
<ellipse cx="1122" cy="2364.7" rx="30.8" ry="13" transform="rotate(-21 1122 2364.7)"/>
<ellipse cx="1337.4" cy="2354.2" rx="30.8" ry="13" transform="rotate(-8 1337.4 2354.2)"/>
<ellipse cx="1043.1" cy="2384.5" rx="30.8" ry="13" transform="rotate(-14 1043.1 2384.5)"/>
<ellipse cx="1150.8" cy="2392.3" rx="30.8" ry="13" transform="rotate(-56 1150.8 2392.3)"/>
<ellipse cx="1208.5" cy="2392.3" rx="30.8" ry="13" transform="rotate(-43 1208.5 2392.3)"/>
</g>
<g filter="url(#fb3)">
<ellipse cx="1061.4" cy="2330.9" rx="49.5" ry="69.9" fill="#050000" opacity="0.95"/>
<ellipse cx="1268.8" cy="2195.7" rx="21.7" ry="28" fill="#050000" opacity="0.95"/>
<ellipse cx="1175.9" cy="2382.2" rx="61.9" ry="18.6" fill="#050000" opacity="0.90"/>
<ellipse cx="1129.5" cy="2284.2" rx="24.8" ry="18.6" fill="#050000" opacity="0.80"/>
<ellipse cx="1299.8" cy="2284.2" rx="37.2" ry="16.3" fill="#050000" opacity="0.80"/>
<ellipse cx="1228.6" cy="2335.5" rx="31" ry="23.3" fill="#050000" opacity="0.80"/>
<ellipse cx="1321.4" cy="2382.2" rx="31" ry="23.3" fill="#050000" opacity="0.80"/>
<ellipse cx="1145" cy="2233" rx="18.6" ry="14" fill="#050000" opacity="0.70"/>
<ellipse cx="1259.5" cy="2260.9" rx="15.5" ry="18.6" fill="#050000" opacity="0.70"/>
</g>
<path d="M1050.8 2198.8L1051.5 2205.4L1051.4 2209.3L1053.2 2218.8L1054.4 2224.2L1056.1 2230.1L1055.8 2238.1L1056.9 2244.2L1057.2 2250.2L1058 2257.5L1057.2 2262.2L1054.6 2268.7L1051.3 2276.4L1048.7 2281.8L1048.6 2288.8M1073.9 2307.6L1083.4 2310L1090 2310.3L1098 2311.5L1102.6 2313L1110.4 2314.8L1116.9 2316.6L1122.7 2320L1129.3 2320.3L1136.1 2322.9L1139.9 2325.7L1144.6 2326.5L1150.4 2331.8L1155.6 2337.9L1161 2338.7L1165 2340.6L1170 2336.6L1173.3 2329.4L1174.6 2326.9L1178.3 2318.2L1181 2314.2L1184.3 2306.4L1192.7 2306.5L1197.9 2306.3L1204.7 2307.2L1211.1 2306.3L1218.3 2303.9L1223.4 2303L1230.7 2301L1235.1 2297.8L1243 2296.2L1247.2 2292.9L1253.5 2293.2L1257.1 2287.3L1263.2 2284.4L1269.8 2282.3L1273.4 2279.2L1279.9 2273.4L1284.4 2271.3L1288.6 2269M1166.2 2342.5L1167.6 2349.8L1172 2354.4L1174 2361L1171 2369L1164.1 2374.1L1162 2381.6M1097 2175.5L1101.3 2179.9L1106.1 2184.5L1107.8 2191.3L1113.1 2195.5L1116.2 2198.5L1122.9 2201.1L1130.1 2204L1134.9 2205.4L1143.3 2205.4L1147.8 2209.4L1154.2 2209.7L1158.7 2214.2L1165 2218.4L1169.4 2222L1174.9 2223.8M1262.4 2218.2L1268.6 2214.4L1273.6 2210.2L1277.3 2208.8L1280.7 2202.6L1288 2201.8L1294.2 2202L1300.7 2198.9L1306.4 2199.3L1311.6 2199L1317.9 2200.2L1323.3 2203.3L1331.2 2204.1L1337.4 2207.6L1341.1 2209.4M1258.5 2288.1L1259.4 2295.2L1262.8 2301.8L1264.7 2307.8L1267.3 2314L1272.1 2318.4L1278.1 2321.2L1283.4 2322.8L1289.2 2326.6L1293.4 2327.7L1301.2 2330L1308.4 2331.6L1315.8 2332.5L1319.9 2333.6L1327.9 2335.2M1073.9 2307.6L1073.5 2313.3L1072 2320.4L1073.1 2329.8L1070.8 2335.4L1071.1 2339.9L1072.2 2349.3L1073.5 2355.2L1075.3 2359.2L1077.7 2365.6L1080.6 2372L1082.3 2376.6M1193.1 2377.5L1197.1 2373.3L1199.6 2367.6L1204.1 2359.8L1203.8 2356.7L1208.8 2350.8L1212.7 2348.4L1219 2342.8L1222.4 2341.8L1228.9 2337.2L1235.1 2335.1L1239.7 2331.1" fill="none" stroke="#ff2626" stroke-width="1.7" stroke-linejoin="round" stroke-linecap="round" opacity=".8" filter="url(#fb4)"/>
<g filter="url(#fb1)">
<ellipse cx="1145.1" cy="2181.3" rx="12.4" ry="9.4" fill="#8412ff" transform="rotate(13 1145.1 2181.3)"/>
<ellipse cx="1222" cy="2177.4" rx="12.4" ry="9.4" fill="#8412ff" transform="rotate(-47 1222 2177.4)"/>
<ellipse cx="1339.3" cy="2173.5" rx="12.4" ry="9.4" fill="#8412ff" transform="rotate(-72 1339.3 2173.5)"/>
<ellipse cx="1075.8" cy="2229.1" rx="12.4" ry="9.4" fill="#8412ff" transform="rotate(-47 1075.8 2229.1)"/>
<ellipse cx="1093.1" cy="2216.3" rx="12.4" ry="9.4" fill="#8412ff" transform="rotate(-38 1093.1 2216.3)"/>
<ellipse cx="1190.1" cy="2231.8" rx="12.4" ry="9.4" fill="#8412ff" transform="rotate(-50 1190.1 2231.8)"/>
<ellipse cx="1317.4" cy="2221.3" rx="12.4" ry="9.4" fill="#8412ff" transform="rotate(-29 1317.4 2221.3)"/>
<ellipse cx="1204.7" cy="2246.2" rx="12.4" ry="9.4" fill="#8412ff" transform="rotate(18 1204.7 2246.2)"/>
<ellipse cx="1106.6" cy="2260.2" rx="12.4" ry="9.4" fill="#4a14ff" transform="rotate(-56 1106.6 2260.2)"/>
<ellipse cx="1298.9" cy="2253.9" rx="12.4" ry="9.4" fill="#4a14ff" transform="rotate(-36 1298.9 2253.9)"/>
<ellipse cx="1173.1" cy="2294" rx="12.4" ry="9.4" fill="#8412ff" transform="rotate(8 1173.1 2294)"/>
<ellipse cx="1331.6" cy="2301.7" rx="12.4" ry="9.4" fill="#4a14ff" transform="rotate(-61 1331.6 2301.7)"/>
<ellipse cx="1280.8" cy="2308.3" rx="12.4" ry="9.4" fill="#4a14ff" transform="rotate(-39 1280.8 2308.3)"/>
<ellipse cx="1291.2" cy="2319.2" rx="12.4" ry="9.4" fill="#4a14ff" transform="rotate(-19 1291.2 2319.2)"/>
<ellipse cx="1039.3" cy="2305.6" rx="12.4" ry="9.4" fill="#4a14ff" transform="rotate(1 1039.3 2305.6)"/>
<ellipse cx="1204.7" cy="2317.3" rx="12.4" ry="9.4" fill="#4a14ff" transform="rotate(11 1204.7 2317.3)"/>
<ellipse cx="1057.8" cy="2345.6" rx="12.4" ry="9.4" fill="#4a14ff" transform="rotate(-49 1057.8 2345.6)"/>
<ellipse cx="1250.8" cy="2352.2" rx="12.4" ry="9.4" fill="#4a14ff" transform="rotate(20 1250.8 2352.2)"/>
<ellipse cx="1122" cy="2364.7" rx="12.4" ry="9.4" fill="#8412ff" transform="rotate(-31 1122 2364.7)"/>
<ellipse cx="1337.4" cy="2354.2" rx="12.4" ry="9.4" fill="#4a14ff" transform="rotate(-61 1337.4 2354.2)"/>
<ellipse cx="1043.1" cy="2384.5" rx="12.4" ry="9.4" fill="#4a14ff" transform="rotate(-59 1043.1 2384.5)"/>
<ellipse cx="1150.8" cy="2392.3" rx="12.4" ry="9.4" fill="#4a14ff" transform="rotate(-31 1150.8 2392.3)"/>
<ellipse cx="1208.5" cy="2392.3" rx="12.4" ry="9.4" fill="#4a14ff" transform="rotate(6 1208.5 2392.3)"/>
</g>
</g>
<clipPath id="cf4"><rect x="64.6" y="2453.3" width="310" height="231.9"/></clipPath>
<g clip-path="url(#cf4)">
<rect x="64.6" y="2453.3" width="310" height="231.9" fill="#3c0000" />
<g filter="url(#fb3)">
<ellipse cx="194.8" cy="2546.1" rx="21.7" ry="23.2" fill="#f81010" opacity="0.7"/>
<ellipse cx="235.1" cy="2511.3" rx="15.5" ry="23.2" fill="#f01010" opacity="0.7"/>
<ellipse cx="80.1" cy="2564.6" rx="21.7" ry="27.8" fill="#f01010" opacity="0.7"/>
<ellipse cx="294" cy="2495" rx="15.5" ry="23.2" fill="#e00c0c" opacity="0.6"/>
</g>
<g filter="url(#fb2)" fill="#e00c0c" opacity="0.7">
<ellipse cx="203.3" cy="2470.7" rx="32.5" ry="13.7" transform="rotate(-80 203.3 2470.7)"/>
<ellipse cx="162.6" cy="2477.3" rx="32.5" ry="13.7" transform="rotate(-69 162.6 2477.3)"/>
<ellipse cx="265.3" cy="2468.8" rx="32.5" ry="13.7" transform="rotate(-28 265.3 2468.8)"/>
<ellipse cx="298.3" cy="2459.1" rx="32.5" ry="13.7" transform="rotate(-27 298.3 2459.1)"/>
<ellipse cx="123.9" cy="2492" rx="39" ry="16.4" transform="rotate(-70 123.9 2492)"/>
<ellipse cx="294.4" cy="2488.1" rx="32.5" ry="13.7" transform="rotate(-81 294.4 2488.1)"/>
<ellipse cx="339" cy="2498.9" rx="32.5" ry="13.7" transform="rotate(-39 339 2498.9)"/>
<ellipse cx="263.4" cy="2505.5" rx="32.5" ry="13.7" transform="rotate(-29 263.4 2505.5)"/>
<ellipse cx="176.2" cy="2514.4" rx="32.5" ry="13.7" transform="rotate(-81 176.2 2514.4)"/>
<ellipse cx="232.4" cy="2509.3" rx="32.5" ry="13.7" transform="rotate(-48 232.4 2509.3)"/>
<ellipse cx="366.1" cy="2513.2" rx="32.5" ry="13.7" transform="rotate(-75 366.1 2513.2)"/>
<ellipse cx="290.5" cy="2542.2" rx="32.5" ry="13.7" transform="rotate(-42 290.5 2542.2)"/>
<ellipse cx="197.5" cy="2545.3" rx="32.5" ry="13.7" transform="rotate(-77 197.5 2545.3)"/>
<ellipse cx="79.3" cy="2555.7" rx="39" ry="16.4" transform="rotate(-75 79.3 2555.7)"/>
<ellipse cx="139.4" cy="2559.6" rx="32.5" ry="13.7" transform="rotate(-47 139.4 2559.6)"/>
<ellipse cx="249" cy="2567.3" rx="32.5" ry="13.7" transform="rotate(-18 249 2567.3)"/>
<ellipse cx="328.5" cy="2567.3" rx="32.5" ry="13.7" transform="rotate(-82 328.5 2567.3)"/>
<ellipse cx="368" cy="2561.5" rx="32.5" ry="13.7" transform="rotate(-78 368 2561.5)"/>
<ellipse cx="184.7" cy="2580.1" rx="32.5" ry="13.7" transform="rotate(-70 184.7 2580.1)"/>
<ellipse cx="339.7" cy="2625.3" rx="32.5" ry="13.7" transform="rotate(-27 339.7 2625.3)"/>
<ellipse cx="101.8" cy="2633" rx="32.5" ry="13.7" transform="rotate(-68 101.8 2633)"/>
<ellipse cx="304.1" cy="2635" rx="32.5" ry="13.7" transform="rotate(-65 304.1 2635)"/>
<ellipse cx="185.9" cy="2638.8" rx="32.5" ry="13.7" transform="rotate(-54 185.9 2638.8)"/>
<ellipse cx="243.2" cy="2640.8" rx="39" ry="16.4" transform="rotate(-25 243.2 2640.8)"/>
<ellipse cx="99.9" cy="2654.3" rx="32.5" ry="13.7" transform="rotate(-65 99.9 2654.3)"/>
<ellipse cx="116.1" cy="2656.2" rx="32.5" ry="13.7" transform="rotate(-51 116.1 2656.2)"/>
<ellipse cx="349.8" cy="2670.5" rx="32.5" ry="13.7" transform="rotate(-51 349.8 2670.5)"/>
<ellipse cx="290.5" cy="2676.7" rx="32.5" ry="13.7" transform="rotate(-50 290.5 2676.7)"/>
<ellipse cx="253.7" cy="2677.5" rx="32.5" ry="13.7" transform="rotate(-53 253.7 2677.5)"/>
<ellipse cx="145.2" cy="2678.6" rx="32.5" ry="13.7" transform="rotate(-28 145.2 2678.6)"/>
</g>
<g filter="url(#fb3)">
<ellipse cx="80.1" cy="2488.1" rx="31" ry="34.8" fill="#050000" opacity="0.95"/>
<ellipse cx="77" cy="2650.4" rx="31" ry="46.4" fill="#050000" opacity="0.95"/>
<ellipse cx="343.6" cy="2620.3" rx="43.4" ry="51" fill="#050000" opacity="0.80"/>
<ellipse cx="173.1" cy="2550.7" rx="18.6" ry="13.9" fill="#050000" opacity="0.60"/>
<ellipse cx="250.6" cy="2678.2" rx="93" ry="11.6" fill="#050000" opacity="0.70"/>
<ellipse cx="142.1" cy="2592.4" rx="31" ry="13.9" fill="#050000" opacity="0.60"/>
<ellipse cx="297.1" cy="2464.9" rx="37.2" ry="13.9" fill="#050000" opacity="0.60"/>
<ellipse cx="365.3" cy="2546.1" rx="15.5" ry="23.2" fill="#050000" opacity="0.60"/>
</g>
<path d="M71.6 2461L78.6 2459.4L84.5 2460.8L92.3 2460.3L100.6 2460.1L104.7 2458.2L112.1 2458.6L117.9 2457.8L125.7 2459.4L133.5 2459.9L140.9 2458.8L145.1 2461L152.7 2460.1L160.6 2461.2L168.1 2459.1L173.9 2458.9L180.9 2458.9L187.4 2457.5M75.4 2468.8L74.8 2475.4L79.5 2480.8L80.3 2485.3L80.3 2491.4L82.2 2499.3L82 2504.1L84 2513L85.7 2517L87.4 2523.1L91.7 2525.5L96.1 2532.1L101.8 2534.1L105.2 2538.3L111.6 2534.5L117.6 2531.4L121.8 2529.4L127.3 2526.5L132.1 2521.8L137.9 2519.2L144.3 2515.5L149.1 2511.7L155.5 2506.4L160.6 2503.2L167.6 2499.2L173.3 2494.7M172.3 2495.8L177.4 2492.9L182.4 2489.1L186 2484.2L194.9 2485.7L200.4 2487.9L206.7 2489.7L216 2491.3L222.5 2491L224.2 2485.7L227.1 2480.1L228.9 2475L231.7 2467M106.4 2538.3L108.3 2545L111.5 2550L112.9 2556.5L115.4 2562.1L117 2567.7L119.4 2576L121.1 2581.7L128.4 2584.9L133.4 2588.5L137.4 2592.4L139.5 2596.6L146.9 2599.7L144.7 2606.1L142.5 2614.1L142.2 2621L142.5 2626.2M164.6 2596.3L166.3 2590.2L171.4 2583.7L171.2 2578.2L175.8 2571.1L176 2565.5L183.1 2567.4L187.5 2564L195 2565.9L199.1 2564.9L208.1 2565L209.6 2572.4L211.7 2579.4L213.3 2586.9L214.5 2592.6L222.1 2592.2L226.8 2592.3L232.3 2595L239.6 2595.1L245.8 2593.7L251 2594.1L257.2 2594.9L262.5 2594.4L269.7 2594.3L274.3 2589.2L280.1 2582.8L284.8 2576.6M164.6 2596.3L171.8 2597.9L176.5 2599.4L185.1 2601.6L190.4 2603.7L198.4 2605.2L205.9 2606L211.7 2607.7L216.9 2612.9L221.3 2616.4L219.4 2622.7L218.5 2630.5L219.9 2633.6L215.8 2642.6L216.8 2648.4L215.8 2654.4L215.7 2661.3L215.3 2668.5L214.3 2674.8M141.3 2627.2L143.3 2633.5L143.8 2637.3L148.1 2643.5L148.8 2650.1L142.7 2653.4L136.7 2654.9L133.3 2658L127.6 2662.1L122.8 2664.6L114.2 2666.4L110 2670.8L104.8 2667.4L99.1 2665.6M149.1 2650.4L156 2652.5L163 2654.6L169.3 2656.2L175.5 2658L181.9 2660.3L187.7 2661.6L194.4 2665.3L199.3 2668.9L206 2670.5L214.7 2674.3L221.9 2674.5L228.6 2676.4L237.4 2676.8L240.2 2677.1M284.7 2577L283.5 2573L280.9 2562.7L280.6 2556.4L277.3 2550L275.8 2542L284.3 2537.9L289 2537.5L295.3 2532L301.2 2530.6L306.5 2526.2M284.7 2607.9L284 2613.3L287.2 2620.7L286.2 2627.6L286.6 2632.6L289 2640.9L287.8 2647.2L287 2652.8L283.2 2657L279.7 2662.3L278 2669.6M222.7 2542.2L230.5 2542L236.8 2541.9L242.3 2544.3L249.6 2544.3L254.4 2546.2L263.2 2546.5L270.2 2545.7L277.3 2544.6M308 2526.7L313.6 2528.4L320.4 2530.9L327.5 2529.7L333.2 2530.6L338.2 2530.7L346 2533.4L350.7 2538.5L354.7 2545.7L357.3 2547.9L363.1 2555.9M242.1 2461L242.1 2465.5L243.5 2472.7L245.3 2478.1L245.3 2484.8L244.9 2489.7L247.6 2497.6L247.4 2504.5L249.8 2509.5L250.4 2515.5L246 2520.4L240.8 2522.3L236.1 2527.9L230.6 2533.7L225.6 2538.4L222.1 2541.1M308 2468.8L308 2477.3L311 2481.4L311.5 2489.7L310.6 2494.3L313.1 2501.3L312.8 2508.9L314.4 2514.6L317 2520.7L318.1 2527M288.6 2646.5L294.9 2648L302.3 2649.7L308.3 2649L313.4 2651.5L321.5 2654.3L325.1 2654.1L333.4 2652.9L340.4 2650.9L345.5 2651.3L353.8 2648.7L359.5 2647.2L364.8 2647.1M176.2 2565.4L174.8 2557.4L174.1 2553L174.3 2544.7L173.2 2538.3L173 2529.4L178.2 2528.9L184.7 2528.3L188.7 2528.3L196.9 2524.6L203.8 2525.2L209.3 2524L215.1 2522.4" fill="none" stroke="#ff2626" stroke-width="1.7" stroke-linejoin="round" stroke-linecap="round" opacity=".8" filter="url(#fb4)"/>
<g filter="url(#fb1)">
<ellipse cx="203.3" cy="2470.7" rx="12.2" ry="9.9" fill="#ff1cf6" transform="rotate(-57 203.3 2470.7)"/>
<ellipse cx="162.6" cy="2477.3" rx="12.4" ry="9.4" fill="#8412ff" transform="rotate(-69 162.6 2477.3)"/>
<ellipse cx="265.3" cy="2468.8" rx="12.2" ry="9.9" fill="#ff1cf6" transform="rotate(-51 265.3 2468.8)"/>
<ellipse cx="298.3" cy="2459.1" rx="12.4" ry="9.4" fill="#8412ff" transform="rotate(0 298.3 2459.1)"/>
<ellipse cx="123.9" cy="2492" rx="13.6" ry="11.2" fill="#ff1cf6" transform="rotate(-60 123.9 2492)"/>
<ellipse cx="294.4" cy="2488.1" rx="12.2" ry="9.9" fill="#ff1cf6" transform="rotate(-5 294.4 2488.1)"/>
<ellipse cx="339" cy="2498.9" rx="12.2" ry="9.9" fill="#ff1cf6" transform="rotate(-46 339 2498.9)"/>
<ellipse cx="263.4" cy="2505.5" rx="12.2" ry="9.9" fill="#ff1cf6" transform="rotate(-60 263.4 2505.5)"/>
<ellipse cx="176.2" cy="2514.4" rx="12.4" ry="9.4" fill="#8412ff" transform="rotate(-92 176.2 2514.4)"/>
<ellipse cx="232.4" cy="2509.3" rx="12.2" ry="9.9" fill="#ff1cf6" transform="rotate(-91 232.4 2509.3)"/>
<ellipse cx="366.1" cy="2513.2" rx="12.4" ry="9.4" fill="#8412ff" transform="rotate(-13 366.1 2513.2)"/>
<ellipse cx="290.5" cy="2542.2" rx="12.2" ry="9.9" fill="#ff1cf6" transform="rotate(-86 290.5 2542.2)"/>
<ellipse cx="197.5" cy="2545.3" rx="12.2" ry="9.9" fill="#ff1cf6" transform="rotate(-71 197.5 2545.3)"/>
<ellipse cx="79.3" cy="2555.7" rx="13.6" ry="11.2" fill="#ff1cf6" transform="rotate(-63 79.3 2555.7)"/>
<ellipse cx="139.4" cy="2559.6" rx="12.2" ry="9.9" fill="#ff1cf6" transform="rotate(-92 139.4 2559.6)"/>
<ellipse cx="249" cy="2567.3" rx="12.2" ry="9.9" fill="#ff1cf6" transform="rotate(-79 249 2567.3)"/>
<ellipse cx="328.5" cy="2567.3" rx="12.4" ry="9.4" fill="#8412ff" transform="rotate(-77 328.5 2567.3)"/>
<ellipse cx="368" cy="2561.5" rx="12.4" ry="9.4" fill="#8412ff" transform="rotate(-57 368 2561.5)"/>
<ellipse cx="184.7" cy="2580.1" rx="12.2" ry="9.9" fill="#ff1cf6" transform="rotate(-86 184.7 2580.1)"/>
<ellipse cx="339.7" cy="2625.3" rx="12.2" ry="9.9" fill="#ff1cf6" transform="rotate(-39 339.7 2625.3)"/>
<ellipse cx="101.8" cy="2633" rx="12.4" ry="9.4" fill="#8412ff" transform="rotate(-53 101.8 2633)"/>
<ellipse cx="304.1" cy="2635" rx="12.4" ry="9.4" fill="#8412ff" transform="rotate(-30 304.1 2635)"/>
<ellipse cx="185.9" cy="2638.8" rx="12.2" ry="9.9" fill="#ff1cf6" transform="rotate(-79 185.9 2638.8)"/>
<ellipse cx="243.2" cy="2640.8" rx="13.6" ry="11.2" fill="#ff1cf6" transform="rotate(-75 243.2 2640.8)"/>
<ellipse cx="99.9" cy="2654.3" rx="12.4" ry="9.4" fill="#4a14ff" transform="rotate(-54 99.9 2654.3)"/>
<ellipse cx="116.1" cy="2656.2" rx="12.4" ry="9.4" fill="#8412ff" transform="rotate(-60 116.1 2656.2)"/>
<ellipse cx="349.8" cy="2670.5" rx="12.4" ry="9.4" fill="#8412ff" transform="rotate(-67 349.8 2670.5)"/>
<ellipse cx="290.5" cy="2676.7" rx="12.4" ry="9.4" fill="#8412ff" transform="rotate(-86 290.5 2676.7)"/>
<ellipse cx="253.7" cy="2677.5" rx="12.2" ry="9.9" fill="#ff1cf6" transform="rotate(-50 253.7 2677.5)"/>
<ellipse cx="145.2" cy="2678.6" rx="12.2" ry="9.9" fill="#ff1cf6" transform="rotate(-62 145.2 2678.6)"/>
</g>
</g>
<clipPath id="cf5"><rect x="389.3" y="2453.3" width="309.1" height="231.9"/></clipPath>
<g clip-path="url(#cf5)">
<rect x="389.3" y="2453.3" width="309.1" height="231.9" fill="#640000" />
<g filter="url(#fb3)">
<ellipse cx="599.5" cy="2522.9" rx="24.7" ry="32.5" fill="#ff1414" opacity="0.8"/>
<ellipse cx="559.3" cy="2580.8" rx="12.4" ry="18.6" fill="#ff1818" opacity="0.9"/>
<ellipse cx="482" cy="2580.8" rx="37.1" ry="32.5" fill="#e80c0c" opacity="0.6"/>
<ellipse cx="676.8" cy="2476.5" rx="24.7" ry="27.8" fill="#ee0e0e" opacity="0.7"/>
<ellipse cx="404.8" cy="2615.6" rx="18.5" ry="27.8" fill="#f01010" opacity="0.7"/>
<ellipse cx="528.4" cy="2638.8" rx="24.7" ry="27.8" fill="#e40c0c" opacity="0.6"/>
</g>
<g filter="url(#fb2)" fill="#f01010" opacity="0.7">
<ellipse cx="402.9" cy="2470.7" rx="43.1" ry="18.1" transform="rotate(-68 402.9 2470.7)"/>
<ellipse cx="503.6" cy="2461.8" rx="35.9" ry="15.1" transform="rotate(-39 503.6 2461.8)"/>
<ellipse cx="559.7" cy="2457.2" rx="35.9" ry="15.1" transform="rotate(-91 559.7 2457.2)"/>
<ellipse cx="592.7" cy="2468.8" rx="35.9" ry="15.1" transform="rotate(-81 592.7 2468.8)"/>
<ellipse cx="457.1" cy="2482.3" rx="43.1" ry="18.1" transform="rotate(-28 457.1 2482.3)"/>
<ellipse cx="451.3" cy="2503.5" rx="43.1" ry="18.1" transform="rotate(-70 451.3 2503.5)"/>
<ellipse cx="599.2" cy="2505.5" rx="43.1" ry="18.1" transform="rotate(-90 599.2 2505.5)"/>
<ellipse cx="691.4" cy="2459.1" rx="35.9" ry="15.1" transform="rotate(-78 691.4 2459.1)"/>
<ellipse cx="677.9" cy="2534.5" rx="35.9" ry="15.1" transform="rotate(-89 677.9 2534.5)"/>
<ellipse cx="695.3" cy="2549.9" rx="35.9" ry="15.1" transform="rotate(-26 695.3 2549.9)"/>
<ellipse cx="400.9" cy="2560.7" rx="35.9" ry="15.1" transform="rotate(-73 400.9 2560.7)"/>
<ellipse cx="483" cy="2558.4" rx="43.1" ry="18.1" transform="rotate(-83 483 2558.4)"/>
<ellipse cx="571.4" cy="2565.4" rx="35.9" ry="15.1" transform="rotate(-87 571.4 2565.4)"/>
<ellipse cx="653.5" cy="2580.1" rx="35.9" ry="15.1" transform="rotate(-37 653.5 2580.1)"/>
<ellipse cx="691.4" cy="2580.1" rx="35.9" ry="15.1" transform="rotate(-55 691.4 2580.1)"/>
<ellipse cx="590.7" cy="2604" rx="35.9" ry="15.1" transform="rotate(-31 590.7 2604)"/>
<ellipse cx="659.7" cy="2607.9" rx="35.9" ry="15.1" transform="rotate(-67 659.7 2607.9)"/>
<ellipse cx="584.9" cy="2631.1" rx="43.1" ry="18.1" transform="rotate(-65 584.9 2631.1)"/>
<ellipse cx="400.9" cy="2644.6" rx="43.1" ry="18.1" transform="rotate(-58 400.9 2644.6)"/>
<ellipse cx="446.2" cy="2650.4" rx="35.9" ry="15.1" transform="rotate(-50 446.2 2650.4)"/>
<ellipse cx="524.9" cy="2653.5" rx="43.1" ry="18.1" transform="rotate(-58 524.9 2653.5)"/>
<ellipse cx="427.3" cy="2671.7" rx="35.9" ry="15.1" transform="rotate(-77 427.3 2671.7)"/>
</g>
<g filter="url(#fb3)">
<ellipse cx="682.9" cy="2638.8" rx="30.9" ry="58" fill="#050000" opacity="0.97"/>
<ellipse cx="593.3" cy="2474.2" rx="15.5" ry="18.6" fill="#050000" opacity="0.90"/>
<ellipse cx="482" cy="2522.9" rx="24.7" ry="16.2" fill="#050000" opacity="0.50"/>
<ellipse cx="420.2" cy="2604" rx="18.5" ry="23.2" fill="#050000" opacity="0.40"/>
<ellipse cx="550" cy="2499.7" rx="15.5" ry="34.8" fill="#050000" opacity="0.50"/>
<ellipse cx="636.6" cy="2678.2" rx="37.1" ry="11.6" fill="#050000" opacity="0.80"/>
<ellipse cx="451.1" cy="2546.1" rx="24.7" ry="11.6" fill="#050000" opacity="0.50"/>
</g>
<path d="M431.9 2457.2L430.9 2463.4L427.1 2471.2L427.8 2475.5L426.3 2481.7L423.8 2488.9L419.7 2494.8L419.3 2500.4L417.2 2506.9L415.2 2512.1L410.9 2517.7L408.2 2522L414.6 2526L420.8 2526.4L425.8 2531.8L430.9 2535.3L435.6 2537L441.6 2539.5L446.5 2542.1L453.9 2539.4L459.4 2535.7L466.3 2532.9L470.7 2531.2L476.3 2528.4L482.5 2526.4L488.6 2522.3L493.2 2519.5L502.6 2515.6L508.6 2510.8M447.4 2542.2L445.7 2548.4L443.1 2556.3L442.7 2560.9L440.8 2566.9L441.4 2572.3L439.9 2578.6L440.5 2587.4L441 2592L440.6 2598.6L443.1 2604.9L443.2 2612.5L441.4 2617.5L437.7 2622L437.3 2627.8L433.8 2634.8L430 2641.6L427.4 2647.7L423.2 2652L421.5 2655.6L418.3 2662.3L410.6 2667.7L410.4 2671.2L404.6 2676.7L399.2 2681.5M532.6 2515.1L532.2 2521.1L531.1 2530L527 2532.8L526.8 2541.5L526.5 2546.5L523.9 2553.1L523.7 2558.5L518.8 2565.7L516.3 2569.5L515.1 2576.2L510.4 2581.1L509.1 2586.6L505.8 2593.3L504.3 2596.8L500.8 2604.2L499.2 2611.2L498 2616.1L493.8 2622.7L492.1 2630.1L490.8 2634.6L489.2 2640L485.9 2646.4L486 2654.7L485.4 2661.2L483.7 2667.8L482.9 2675.5L481.7 2681.3M524.9 2553.8L528.2 2560L530.5 2564.5L533.5 2568.9L538.3 2575.9L539.1 2580L544 2585.8L545.7 2592.8L549.3 2596.8L553.3 2601.9L555.9 2608.1L557 2613.3L557.7 2620.3L558.8 2626.2L557.1 2631.5L557 2638L558.4 2644.8L559 2649.3L560.3 2655.6L560 2663.3M571.4 2511.3L575.1 2516.4L576.4 2524.1L580 2529.2L582.5 2532.5L584 2539L586.3 2545.7L593.5 2550.2L599.9 2552.5L605.1 2556.5L611.9 2556.8L617.7 2561.9L613.6 2567.2L612.5 2572.3L607.8 2578L603.6 2583.1L600.3 2588.8L597.1 2595.5L594.4 2600.9L589.5 2605.2L587.3 2611L582.3 2615.5L579.1 2620.4L574.8 2626.3L570.2 2629.4L567 2636.4L561.5 2642.6L559.8 2647M633.3 2461L632.9 2467.1L635.7 2475L635 2479.3L634.7 2486.9L634.6 2491L635.5 2498.9L635 2504.6L636.7 2510.6L636.6 2517.5L637.7 2521.5L635.8 2528.7L631.9 2533.5L628.5 2537.1L625.8 2545.4L623.8 2549.8L618.3 2554.9L617.4 2562.6M695.3 2515.1L689 2518.9L686.3 2523.3L680.9 2524.1L676.8 2530.6L672 2533.5L666.4 2539.6L662 2542.1L656.7 2547.1L651.1 2549.4L647.2 2551.7L641.8 2554.1L636.5 2555.5L629.3 2557.8L622 2560.8L617 2562.5M672.1 2573.1L669.9 2579.1L665.3 2582.8L659.8 2589.1L658 2595.3L654.5 2599.4L651 2604.4L647.6 2609L642.8 2613.7L640.9 2620.6L637.4 2623.4L634.7 2629.8L630.4 2633.7L622.6 2638.9L620.7 2644.8L616.4 2648.8L612.7 2654.8L609.2 2660.9L606.9 2665.5L602.1 2669.9L596.7 2673.5L590.6 2678.7L584.1 2685.3M443.5 2611.8L451 2611.3L456.8 2612.6L461.4 2613.2L466.8 2614.2L473.3 2615.5L480.3 2612.7L485.2 2614.7" fill="none" stroke="#ff2626" stroke-width="1.7" stroke-linejoin="round" stroke-linecap="round" opacity=".8" filter="url(#fb4)"/>
<g filter="url(#fb1)">
<ellipse cx="402.9" cy="2470.7" rx="13.6" ry="11.2" fill="#ff1cf6" transform="rotate(-87 402.9 2470.7)"/>
<ellipse cx="503.6" cy="2461.8" rx="12.4" ry="9.4" fill="#8412ff" transform="rotate(-88 503.6 2461.8)"/>
<ellipse cx="559.7" cy="2457.2" rx="12.2" ry="9.9" fill="#ff1cf6" transform="rotate(-92 559.7 2457.2)"/>
<ellipse cx="592.7" cy="2468.8" rx="12.4" ry="9.4" fill="#4a14ff" transform="rotate(-23 592.7 2468.8)"/>
<ellipse cx="457.1" cy="2482.3" rx="13.6" ry="11.2" fill="#ff1cf6" transform="rotate(-33 457.1 2482.3)"/>
<ellipse cx="451.3" cy="2503.5" rx="13.6" ry="11.2" fill="#ff1cf6" transform="rotate(-11 451.3 2503.5)"/>
<ellipse cx="599.2" cy="2505.5" rx="13.6" ry="11.2" fill="#ff1cf6" transform="rotate(-47 599.2 2505.5)"/>
<ellipse cx="691.4" cy="2459.1" rx="12.2" ry="9.9" fill="#ff1cf6" transform="rotate(-92 691.4 2459.1)"/>
<ellipse cx="677.9" cy="2534.5" rx="12.4" ry="9.4" fill="#8412ff" transform="rotate(-60 677.9 2534.5)"/>
<ellipse cx="695.3" cy="2549.9" rx="12.2" ry="9.9" fill="#ff1cf6" transform="rotate(-19 695.3 2549.9)"/>
<ellipse cx="400.9" cy="2560.7" rx="12.2" ry="9.9" fill="#ff1cf6" transform="rotate(-48 400.9 2560.7)"/>
<ellipse cx="483" cy="2558.4" rx="13.6" ry="11.2" fill="#ff1cf6" transform="rotate(-28 483 2558.4)"/>
<ellipse cx="571.4" cy="2565.4" rx="12.4" ry="9.4" fill="#8412ff" transform="rotate(-85 571.4 2565.4)"/>
<ellipse cx="653.5" cy="2580.1" rx="12.2" ry="9.9" fill="#ff1cf6" transform="rotate(-95 653.5 2580.1)"/>
<ellipse cx="691.4" cy="2580.1" rx="12.4" ry="9.4" fill="#8412ff" transform="rotate(-13 691.4 2580.1)"/>
<ellipse cx="590.7" cy="2604" rx="12.2" ry="9.9" fill="#ff1cf6" transform="rotate(-60 590.7 2604)"/>
<ellipse cx="659.7" cy="2607.9" rx="12.4" ry="9.4" fill="#8412ff" transform="rotate(-21 659.7 2607.9)"/>
<ellipse cx="584.9" cy="2631.1" rx="13.6" ry="11.2" fill="#ff1cf6" transform="rotate(-53 584.9 2631.1)"/>
<ellipse cx="400.9" cy="2644.6" rx="13.6" ry="11.2" fill="#ff1cf6" transform="rotate(-78 400.9 2644.6)"/>
<ellipse cx="446.2" cy="2650.4" rx="12.2" ry="9.9" fill="#ff1cf6" transform="rotate(-39 446.2 2650.4)"/>
<ellipse cx="524.9" cy="2653.5" rx="13.6" ry="11.2" fill="#ff1cf6" transform="rotate(-63 524.9 2653.5)"/>
<ellipse cx="427.3" cy="2671.7" rx="12.2" ry="9.9" fill="#ff1cf6" transform="rotate(-94 427.3 2671.7)"/>
</g>
</g>
<clipPath id="cf6"><rect x="713.9" y="2453.3" width="309.9" height="231.9"/></clipPath>
<g clip-path="url(#cf6)">
<rect x="713.9" y="2453.3" width="309.9" height="231.9" fill="#0b0008" />
<g filter="url(#fb3)">
<ellipse cx="813.1" cy="2585.5" rx="18.6" ry="27.8" fill="#e01418" opacity="0.9"/>
<ellipse cx="906" cy="2550.7" rx="21.7" ry="20.9" fill="#c81016" opacity="0.85"/>
<ellipse cx="893.6" cy="2620.3" rx="15.5" ry="32.5" fill="#c01014" opacity="0.8"/>
<ellipse cx="986.6" cy="2541.4" rx="27.9" ry="13.9" fill="#c01014" opacity="0.8"/>
<ellipse cx="943.2" cy="2631.9" rx="18.6" ry="16.2" fill="#a80e12" opacity="0.75"/>
<ellipse cx="748" cy="2634.2" rx="12.4" ry="20.9" fill="#a00c10" opacity="0.7"/>
<ellipse cx="999" cy="2490.4" rx="9.3" ry="9.3" fill="#f01418" opacity="0.95"/>
<ellipse cx="937" cy="2481.1" rx="15.5" ry="16.2" fill="#900c10" opacity="0.6"/>
<ellipse cx="806.9" cy="2669" rx="9.3" ry="13.9" fill="#900c10" opacity="0.6"/>
<ellipse cx="999" cy="2652.7" rx="15.5" ry="11.6" fill="#900c10" opacity="0.6"/>
<ellipse cx="732.5" cy="2536.8" rx="12.4" ry="23.2" fill="#800a0e" opacity="0.6"/>
<ellipse cx="906" cy="2460.3" rx="15.5" ry="7" fill="#800a0e" opacity="0.6"/>
<ellipse cx="955.6" cy="2522.9" rx="15.5" ry="9.3" fill="#900c10" opacity="0.6"/>
<ellipse cx="902.9" cy="2655.1" rx="7.7" ry="8.1" fill="#ff2830" opacity="0.95"/>
</g>
<g filter="url(#fb3)">
</g>
<g filter="url(#fb1)">
<ellipse cx="753.4" cy="2460.3" rx="12.4" ry="9.4" fill="#4a14ff" transform="rotate(-26 753.4 2460.3)"/>
<ellipse cx="839.8" cy="2466.8" rx="12.4" ry="9.4" fill="#8412ff" transform="rotate(-5 839.8 2466.8)"/>
<ellipse cx="784.4" cy="2487.3" rx="12.4" ry="9.4" fill="#4a14ff" transform="rotate(-20 784.4 2487.3)"/>
<ellipse cx="942.5" cy="2479.6" rx="12.4" ry="9.4" fill="#8412ff" transform="rotate(-37 942.5 2479.6)"/>
<ellipse cx="956" cy="2503.5" rx="12.4" ry="9.4" fill="#4a14ff" transform="rotate(-26 956 2503.5)"/>
<ellipse cx="965.7" cy="2517.1" rx="12.4" ry="9.4" fill="#4a14ff" transform="rotate(-25 965.7 2517.1)"/>
<ellipse cx="727.5" cy="2529.8" rx="12.4" ry="9.4" fill="#8412ff" transform="rotate(-104 727.5 2529.8)"/>
<ellipse cx="737.1" cy="2532.5" rx="12.4" ry="9.4" fill="#8412ff" transform="rotate(-14 737.1 2532.5)"/>
<ellipse cx="818.5" cy="2532.5" rx="12.4" ry="9.4" fill="#8412ff" transform="rotate(-101 818.5 2532.5)"/>
<ellipse cx="780.5" cy="2553.8" rx="12.4" ry="9.4" fill="#4a14ff" transform="rotate(-98 780.5 2553.8)"/>
<ellipse cx="907.6" cy="2555.7" rx="12.4" ry="9.4" fill="#8412ff" transform="rotate(-41 907.6 2555.7)"/>
<ellipse cx="987" cy="2542.2" rx="12.4" ry="9.4" fill="#8412ff" transform="rotate(-90 987 2542.2)"/>
<ellipse cx="735.2" cy="2577" rx="12.4" ry="9.4" fill="#8412ff" transform="rotate(-29 735.2 2577)"/>
<ellipse cx="849.5" cy="2576.2" rx="12.4" ry="9.4" fill="#4a14ff" transform="rotate(-6 849.5 2576.2)"/>
<ellipse cx="957.2" cy="2576.2" rx="12.4" ry="9.4" fill="#4a14ff" transform="rotate(-32 957.2 2576.2)"/>
<ellipse cx="1007.5" cy="2578.9" rx="12.4" ry="9.4" fill="#4a14ff" transform="rotate(-91 1007.5 2578.9)"/>
<ellipse cx="816.6" cy="2594.4" rx="12.4" ry="9.4" fill="#8412ff" transform="rotate(-77 816.6 2594.4)"/>
<ellipse cx="969.6" cy="2594.4" rx="12.4" ry="9.4" fill="#4a14ff" transform="rotate(-26 969.6 2594.4)"/>
<ellipse cx="1007.5" cy="2602.1" rx="12.4" ry="9.4" fill="#4a14ff" transform="rotate(-44 1007.5 2602.1)"/>
<ellipse cx="1002.5" cy="2614.9" rx="12.4" ry="9.4" fill="#4a14ff" transform="rotate(-56 1002.5 2614.9)"/>
<ellipse cx="897.9" cy="2617.6" rx="12.4" ry="9.4" fill="#8412ff" transform="rotate(-77 897.9 2617.6)"/>
<ellipse cx="749.9" cy="2638" rx="12.4" ry="9.4" fill="#8412ff" transform="rotate(-88 749.9 2638)"/>
<ellipse cx="950.2" cy="2633" rx="12.4" ry="9.4" fill="#8412ff" transform="rotate(-72 950.2 2633)"/>
<ellipse cx="727.5" cy="2660.1" rx="12.4" ry="9.4" fill="#4a14ff" transform="rotate(-68 727.5 2660.1)"/>
<ellipse cx="810.7" cy="2669" rx="12.4" ry="9.4" fill="#8412ff" transform="rotate(-74 810.7 2669)"/>
</g>
</g>
<clipPath id="cf7"><rect x="1036.6" y="2453.3" width="311" height="231.9"/></clipPath>
<g clip-path="url(#cf7)">
<rect x="1036.6" y="2453.3" width="311" height="231.9" fill="#440000" />
<g filter="url(#fb3)">
<ellipse cx="1098.8" cy="2615.6" rx="31.1" ry="27.8" fill="#a80808" opacity="0.6"/>
<ellipse cx="1223.2" cy="2578.5" rx="7.8" ry="8.1" fill="#ff2020" opacity="0.95"/>
<ellipse cx="1161" cy="2471.9" rx="9.3" ry="9.3" fill="#f01818" opacity="0.8"/>
<ellipse cx="1207.6" cy="2611" rx="12.4" ry="11.6" fill="#e01010" opacity="0.6"/>
<ellipse cx="1067.7" cy="2499.7" rx="37.3" ry="23.2" fill="#7c0404" opacity="0.5"/>
</g>
<g filter="url(#fb2)" fill="#c00c0c" opacity="0.3">
<ellipse cx="1086.3" cy="2469.5" rx="25.6" ry="10.8" transform="rotate(49 1086.3 2469.5)"/>
<ellipse cx="1108.6" cy="2475.7" rx="25.6" ry="10.8" transform="rotate(8 1108.6 2475.7)"/>
<ellipse cx="1206" cy="2475.7" rx="25.6" ry="10.8" transform="rotate(13 1206 2475.7)"/>
<ellipse cx="1241.4" cy="2490" rx="25.6" ry="10.8" transform="rotate(31 1241.4 2490)"/>
<ellipse cx="1298.3" cy="2522.1" rx="25.6" ry="10.8" transform="rotate(26 1298.3 2522.1)"/>
<ellipse cx="1226" cy="2546.8" rx="25.6" ry="10.8" transform="rotate(26 1226 2546.8)"/>
<ellipse cx="1331" cy="2553" rx="25.6" ry="10.8" transform="rotate(-2 1331 2553)"/>
<ellipse cx="1047.8" cy="2591.7" rx="25.6" ry="10.8" transform="rotate(27 1047.8 2591.7)"/>
<ellipse cx="1105.5" cy="2601.3" rx="25.6" ry="10.8" transform="rotate(51 1105.5 2601.3)"/>
<ellipse cx="1147.1" cy="2603.3" rx="25.6" ry="10.8" transform="rotate(58 1147.1 2603.3)"/>
<ellipse cx="1204" cy="2606" rx="25.6" ry="10.8" transform="rotate(49 1204 2606)"/>
<ellipse cx="1285.6" cy="2615.6" rx="25.6" ry="10.8" transform="rotate(19 1285.6 2615.6)"/>
<ellipse cx="1289.5" cy="2629.2" rx="25.6" ry="10.8" transform="rotate(39 1289.5 2629.2)"/>
<ellipse cx="1327.2" cy="2636.9" rx="25.6" ry="10.8" transform="rotate(20 1327.2 2636.9)"/>
<ellipse cx="1269.5" cy="2667.8" rx="25.6" ry="10.8" transform="rotate(27 1269.5 2667.8)"/>
<ellipse cx="1168.2" cy="2678.6" rx="25.6" ry="10.8" transform="rotate(61 1168.2 2678.6)"/>
</g>
<g filter="url(#fb3)">
<ellipse cx="1332" cy="2522.9" rx="37.3" ry="69.6" fill="#050000" opacity="0.60"/>
<ellipse cx="1332" cy="2673.6" rx="31.1" ry="20.9" fill="#050000" opacity="0.85"/>
<ellipse cx="1161" cy="2518.2" rx="37.3" ry="27.8" fill="#050000" opacity="0.45"/>
<ellipse cx="1223.2" cy="2673.6" rx="46.6" ry="18.6" fill="#050000" opacity="0.60"/>
<ellipse cx="1049" cy="2569.2" rx="15.6" ry="46.4" fill="#050000" opacity="0.40"/>
<ellipse cx="1254.3" cy="2580.8" rx="24.9" ry="18.6" fill="#050000" opacity="0.40"/>
</g>
<path d="M1112.4 2455.2L1112.4 2462.1L1110.6 2468.2L1102.8 2473.5L1098.5 2477.2L1093.7 2482.8L1087.9 2488.8L1082.8 2492.4L1074.9 2493.3L1068.9 2493.7L1063.6 2492.5L1057.5 2495L1053.1 2494.9L1045.2 2494.3L1038.2 2495M1058.5 2492L1066.8 2492.7L1074 2495.1L1082 2495.7L1084.1 2502.4L1088.2 2509.5L1088.2 2515.4L1092.1 2524.5L1091.1 2530.4L1092.5 2535.5L1092.6 2544L1090.6 2550.1M1050.8 2534.5L1053.8 2540.6L1058.5 2544.8L1061.9 2551.8L1067.7 2555.5L1072.6 2563.2L1071.5 2568.2L1072.2 2574.2L1074.1 2581.2L1076.9 2587.7L1079.1 2592.5M1243.3 2457.2L1238.9 2462.9L1235 2469.9L1233.8 2474.3L1229 2480.9L1222.8 2486.2L1219.7 2491.5L1216.1 2497.8L1213.3 2501.8L1207.9 2506.1L1204.1 2511.1L1199.7 2517.3L1197.8 2521.4L1196.5 2530.9L1195.5 2537.5L1193.3 2544.1L1192.1 2551.3L1189.1 2559M1258.7 2461L1258.1 2466.3L1258.5 2472.9L1254.2 2479.8L1252.3 2485.8L1251.1 2491.4L1246.7 2496.2L1243.3 2503.4L1236.9 2509.3L1230.9 2512.5L1229.7 2519.2L1230.3 2524.8L1233.3 2531.5L1234.1 2539.7L1239 2531.4L1242.7 2522.3M1170.2 2488.1L1172.9 2494.7L1175.8 2499.3L1179.7 2505.3L1181.4 2510.4L1187.6 2517.7L1194.8 2523.5M1147.1 2461L1151.1 2467.7L1154.6 2473.5L1160.1 2480.4L1150.6 2470.1M1135.5 2580.8L1141.6 2577.6L1149.6 2578.5L1153.7 2576.3L1159.6 2579.4L1165 2584.9L1170.1 2587.2L1173.7 2591.5L1171.6 2597.6L1169.6 2603.2L1163.5 2611.2L1161.6 2616.3L1159 2621.4L1155.1 2624.3L1151.4 2632.1L1147.1 2637M1135.5 2542.2L1136.5 2549.8L1136.3 2555.4L1137.1 2562.4L1138.3 2568.1M1193.3 2588.6L1200.7 2585.6L1207 2582.5L1213 2578.6L1217 2573.6L1224.2 2573M1289.5 2503.5L1289.2 2509.3L1292.5 2515.1L1292.3 2522.6L1293.1 2529.7L1293.7 2535.2L1293.5 2541.6L1284.9 2545.1M1193.3 2642.7L1198.9 2640.4L1204.4 2637.3L1212.2 2636.2L1219.7 2634L1223 2630.9L1230.7 2630.5L1238.2 2627.9L1245.2 2626.9L1252.4 2623.3L1258.6 2623.9L1263 2615.8L1269.2 2612.1L1275.4 2607.8L1280.4 2605.3L1285.4 2605.2L1291.7 2602.2L1299.2 2601.9L1305.6 2600.3M1243.3 2665.9L1250.3 2662.8L1254 2660.1L1261.7 2658.2L1265.5 2653.1L1272.3 2652.2L1277.9 2650.2L1283.9 2649.8L1291.1 2647.2L1295.9 2646L1302.7 2642L1308.9 2639.4L1313.6 2632.5L1318.5 2626.5L1324.7 2623.6L1327.2 2617.4L1329.5 2612.2L1333.5 2605.8L1334.5 2600.9M1304.9 2557.7L1310 2563L1314.4 2567.9L1320.2 2572.2L1315 2577.1L1307.6 2580.1L1301.6 2584.3L1309 2586.8L1316.3 2587.3L1320.8 2590.1L1327.8 2591.2M1039.3 2627.2L1045.5 2625.5L1053.9 2625.9L1060.3 2625.2L1066.7 2624.9L1074.1 2626M1147.1 2673.6L1150.2 2681.2M1039.3 2658.1L1045.3 2661.8L1051 2665.3M1285.6 2681.3L1290.4 2675.4L1295.6 2673.3L1298.4 2671.2L1305 2667.6L1309.9 2668.4L1317.3 2670.3L1321.1 2672.3L1327.8 2673.7" fill="none" stroke="#ff2626" stroke-width="1.7" stroke-linejoin="round" stroke-linecap="round" opacity=".8" filter="url(#fb4)"/>
<g filter="url(#fb1)">
<ellipse cx="1086.3" cy="2469.5" rx="12.2" ry="9.9" fill="#ff1cf6" transform="rotate(41 1086.3 2469.5)"/>
<ellipse cx="1108.6" cy="2475.7" rx="12.2" ry="9.9" fill="#ff1cf6" transform="rotate(58 1108.6 2475.7)"/>
<ellipse cx="1206" cy="2475.7" rx="12.2" ry="9.9" fill="#ff1cf6" transform="rotate(67 1206 2475.7)"/>
<ellipse cx="1241.4" cy="2490" rx="12.2" ry="9.9" fill="#ff1cf6" transform="rotate(-7 1241.4 2490)"/>
<ellipse cx="1298.3" cy="2522.1" rx="12.2" ry="9.9" fill="#ff1cf6" transform="rotate(-13 1298.3 2522.1)"/>
<ellipse cx="1226" cy="2546.8" rx="12.2" ry="9.9" fill="#ff1cf6" transform="rotate(-12 1226 2546.8)"/>
<ellipse cx="1331" cy="2553" rx="12.2" ry="9.9" fill="#ff1cf6" transform="rotate(50 1331 2553)"/>
<ellipse cx="1047.8" cy="2591.7" rx="12.2" ry="9.9" fill="#ff1cf6" transform="rotate(50 1047.8 2591.7)"/>
<ellipse cx="1105.5" cy="2601.3" rx="12.4" ry="9.4" fill="#8412ff" transform="rotate(60 1105.5 2601.3)"/>
<ellipse cx="1147.1" cy="2603.3" rx="12.2" ry="9.9" fill="#ff1cf6" transform="rotate(57 1147.1 2603.3)"/>
<ellipse cx="1204" cy="2606" rx="12.2" ry="9.9" fill="#ff1cf6" transform="rotate(5 1204 2606)"/>
<ellipse cx="1285.6" cy="2615.6" rx="12.2" ry="9.9" fill="#ff1cf6" transform="rotate(41 1285.6 2615.6)"/>
<ellipse cx="1289.5" cy="2629.2" rx="12.2" ry="9.9" fill="#ff1cf6" transform="rotate(-14 1289.5 2629.2)"/>
<ellipse cx="1327.2" cy="2636.9" rx="12.2" ry="9.9" fill="#ff1cf6" transform="rotate(-2 1327.2 2636.9)"/>
<ellipse cx="1269.5" cy="2667.8" rx="12.2" ry="9.9" fill="#ff1cf6" transform="rotate(-8 1269.5 2667.8)"/>
<ellipse cx="1168.2" cy="2678.6" rx="12.2" ry="9.9" fill="#ff1cf6" transform="rotate(72 1168.2 2678.6)"/>
</g>
</g>
<text x="1302.91" y="2665.3" font-size="17.02" font-weight="bold" fill="#fff" textLength="18.70" lengthAdjust="spacingAndGlyphs" >20</text>
<text x="1321.56" y="2665.3" font-size="14.01" font-weight="bold" fill="#fff" textLength="16.73" lengthAdjust="spacingAndGlyphs" font-style="italic">µm</text>
<line x1="1301.6" y1="2676.9" x2="1336.2" y2="2676.9" stroke="#fff" stroke-width="4" />
<text x="159.08" y="2143.6" font-size="37.06" textLength="124.07" lengthAdjust="spacingAndGlyphs" >Control</text>
<text x="460.61" y="2143.6" font-size="37.06" textLength="123.26" lengthAdjust="spacingAndGlyphs" >gCTRP3</text>
<text x="792.57" y="2144" font-size="37.06" textLength="94.98" lengthAdjust="spacingAndGlyphs" >HGHL</text>
<text x="1058.77" y="2144" font-size="37.06" textLength="236.20" lengthAdjust="spacingAndGlyphs" >HGHL+gCTRP3</text>
<text transform="translate(43.8 2375.8) rotate(-90)" font-size="37.06" textLength="143.07" lengthAdjust="spacingAndGlyphs" x="-1.65" >Occludin</text>
<text transform="translate(43.8 2633) rotate(-90)" font-size="37.06" textLength="143.25" lengthAdjust="spacingAndGlyphs" x="-1.81" >Claudin5</text>
<text x="56.93" y="2127.00" font-size="66.81" textLength="30.29" lengthAdjust="spacingAndGlyphs">F</text>
</svg>
</body></html>
